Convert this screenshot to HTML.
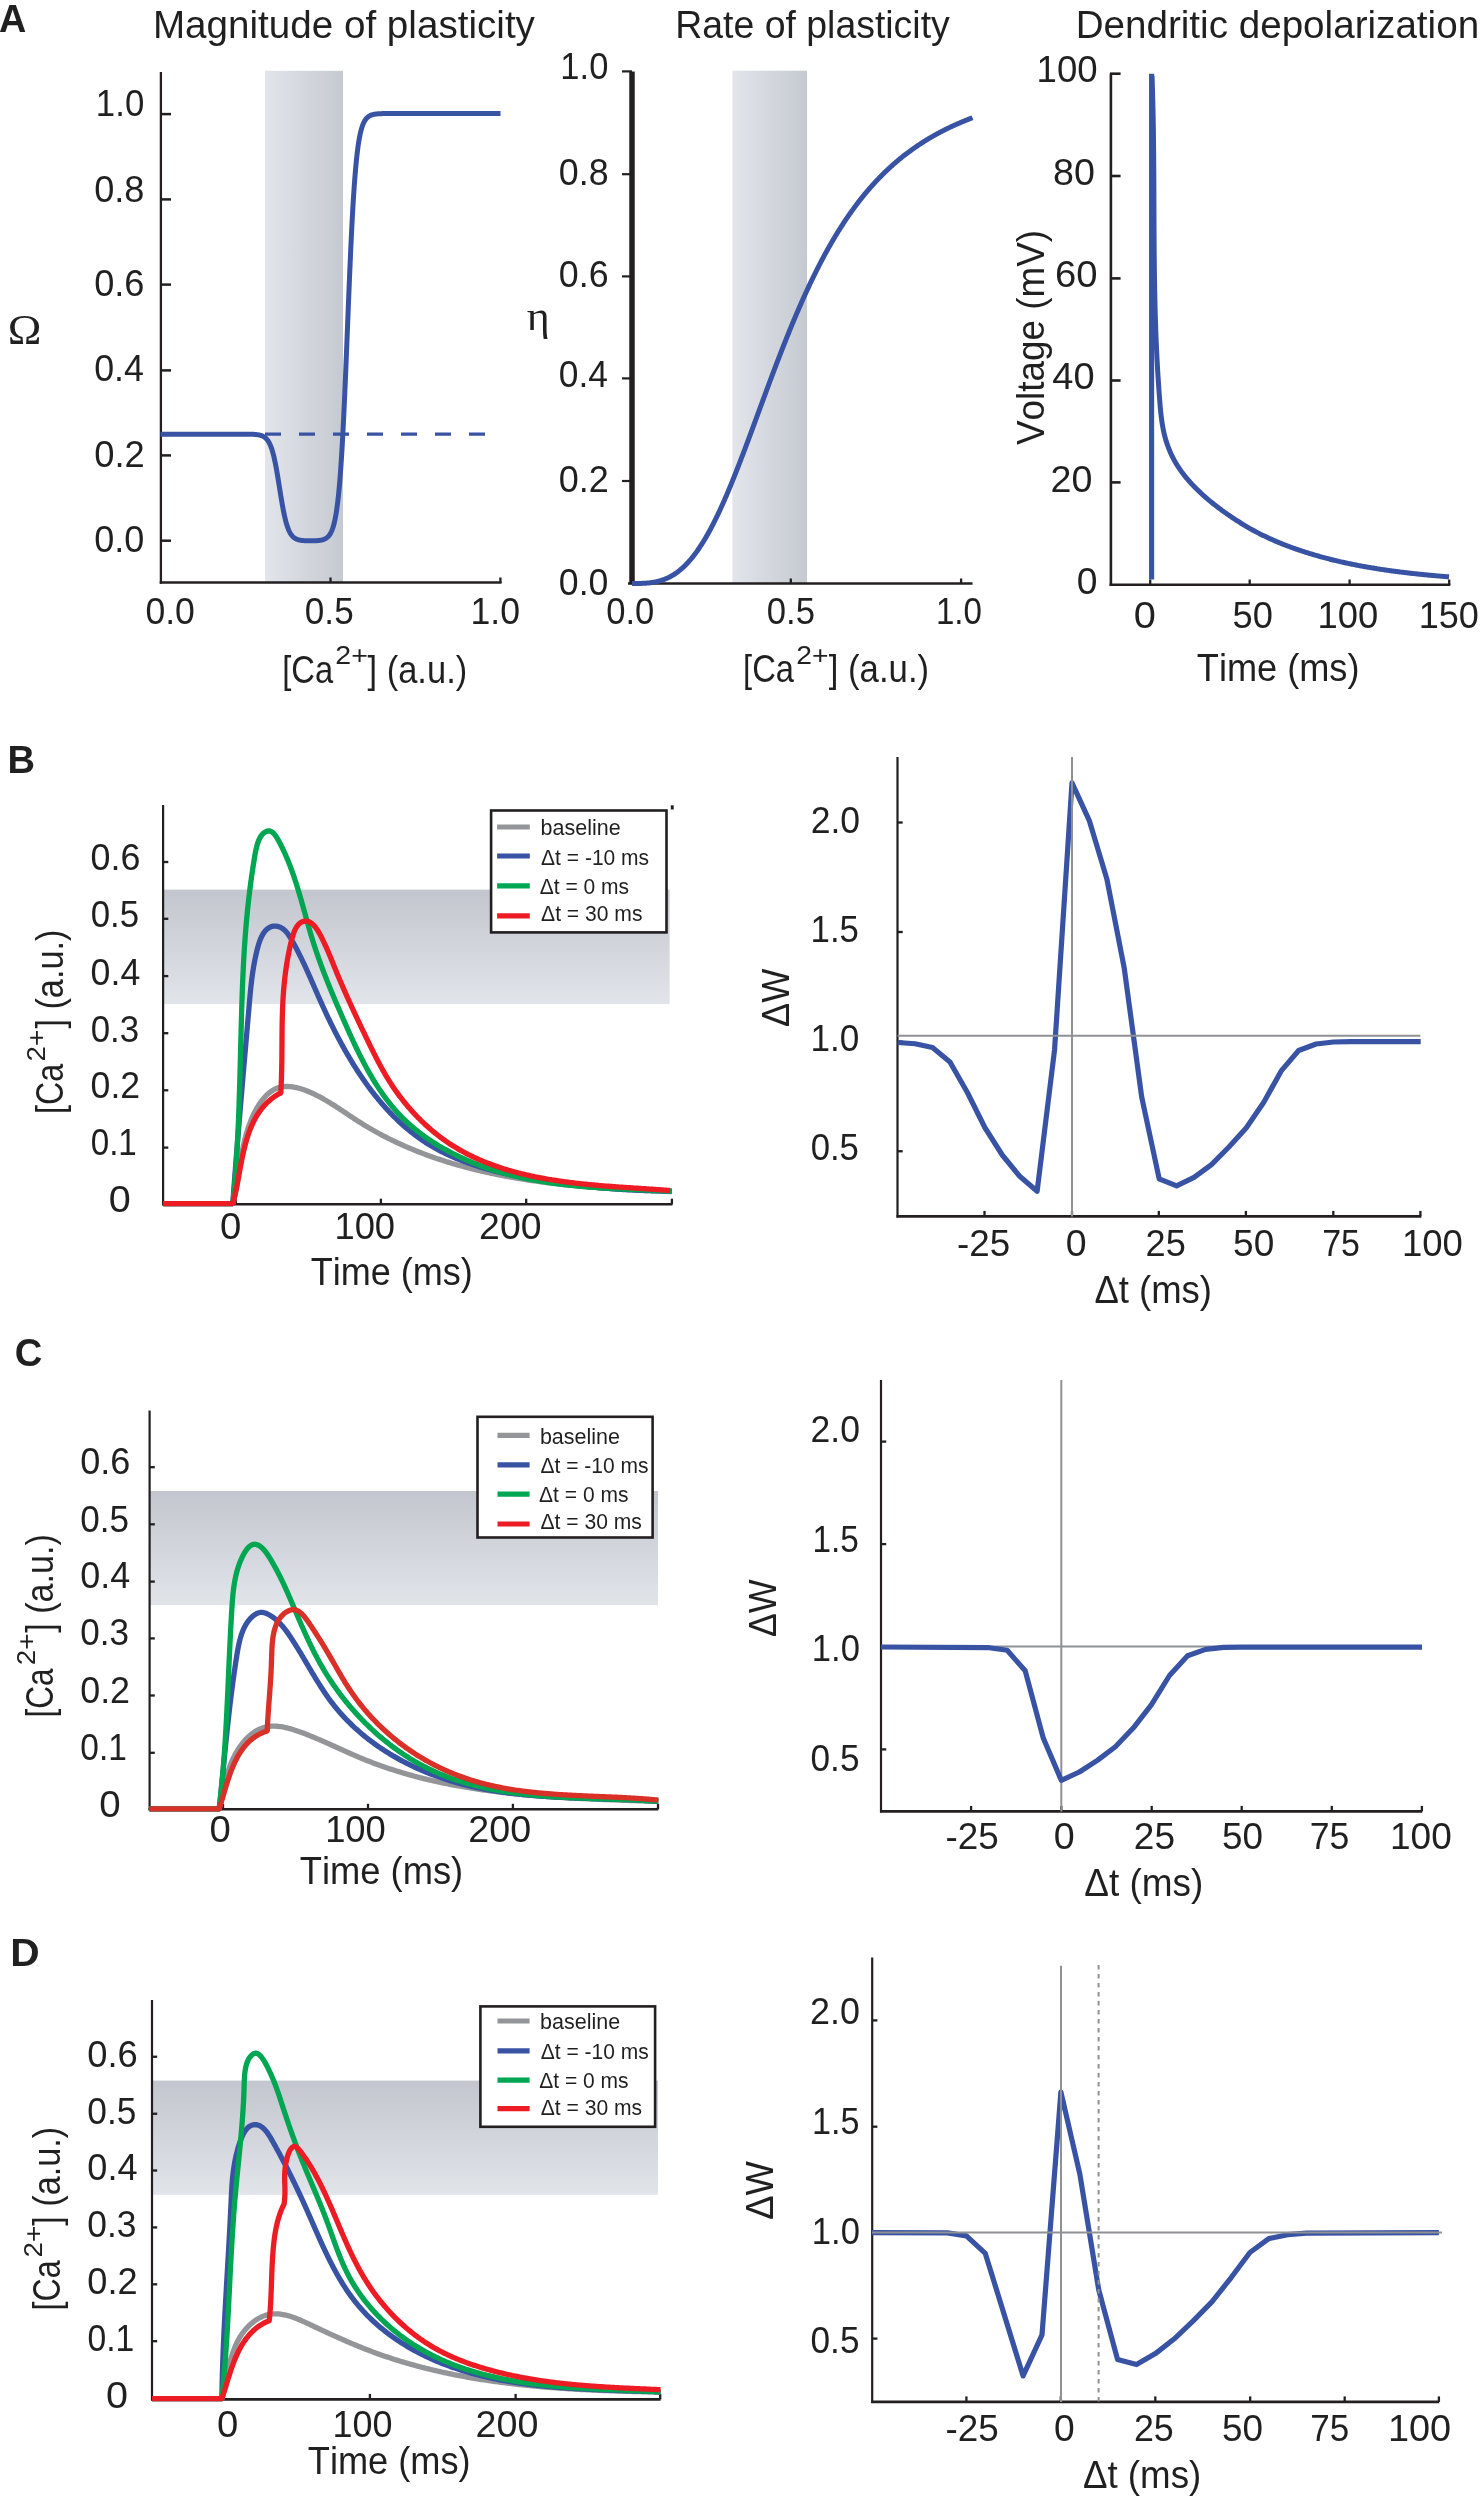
<!DOCTYPE html>
<html><head><meta charset="utf-8"><style>
html,body{margin:0;padding:0;background:#fff;}
svg{display:block;font-kerning:none;}
text{filter:grayscale(1);}
</style></head><body>
<svg xmlns="http://www.w3.org/2000/svg" width="1480" height="2500" viewBox="0 0 1480 2500">
<rect width="1480" height="2500" fill="#fff"/>
<defs><linearGradient id="gh" x1="0" y1="0" x2="1" y2="0"><stop offset="0" stop-color="#e2e5ea"/><stop offset="1" stop-color="#c5c9d1"/></linearGradient><linearGradient id="gv" x1="0" y1="0" x2="0" y2="1"><stop offset="0" stop-color="#c3c6ce"/><stop offset="1" stop-color="#e1e4e9"/></linearGradient></defs>
<text transform="translate(-0.94,31.6) scale(0.9963,1)" font-family='"Liberation Sans", sans-serif' font-size="38" font-weight="bold" fill="#231f20">A</text>
<text transform="translate(152.93,38.1) scale(1.0164,1)" font-family='"Liberation Sans", sans-serif' font-size="38" font-weight="normal" fill="#231f20">Magnitude of plasticity</text>
<text transform="translate(675.23,38.3) scale(0.9851,1)" font-family='"Liberation Sans", sans-serif' font-size="38" font-weight="normal" fill="#231f20">Rate of plasticity</text>
<text transform="translate(1075.63,38.3) scale(1.0165,1)" font-family='"Liberation Sans", sans-serif' font-size="38" font-weight="normal" fill="#231f20">Dendritic depolarization</text>
<rect x="265" y="70.8" width="78" height="511.2" fill="url(#gh)"/>
<line x1="160.9" y1="72" x2="160.9" y2="583.7" stroke="#231f20" stroke-width="2.3" stroke-linecap="butt"/>
<line x1="159.75" y1="582.5" x2="501.5" y2="582.5" stroke="#231f20" stroke-width="2.3" stroke-linecap="butt"/>
<line x1="160" y1="114.1" x2="171" y2="114.1" stroke="#231f20" stroke-width="2.5" stroke-linecap="butt"/>
<line x1="160" y1="199.4" x2="171" y2="199.4" stroke="#231f20" stroke-width="2.5" stroke-linecap="butt"/>
<line x1="160" y1="284.6" x2="171" y2="284.6" stroke="#231f20" stroke-width="2.5" stroke-linecap="butt"/>
<line x1="160" y1="370.4" x2="171" y2="370.4" stroke="#231f20" stroke-width="2.5" stroke-linecap="butt"/>
<line x1="160" y1="455.4" x2="171" y2="455.4" stroke="#231f20" stroke-width="2.5" stroke-linecap="butt"/>
<line x1="160" y1="540.7" x2="171" y2="540.7" stroke="#231f20" stroke-width="2.5" stroke-linecap="butt"/>
<line x1="330.5" y1="583" x2="330.5" y2="577.5" stroke="#231f20" stroke-width="2.3" stroke-linecap="butt"/>
<line x1="500.4" y1="583" x2="500.4" y2="577.5" stroke="#231f20" stroke-width="2.3" stroke-linecap="butt"/>
<text transform="translate(95.85,116.3) scale(0.9287,1)" font-family='"Liberation Sans", sans-serif' font-size="37.5" font-weight="normal" fill="#231f20">1.0</text>
<text transform="translate(94.19,201.6) scale(0.9646,1)" font-family='"Liberation Sans", sans-serif' font-size="37.5" font-weight="normal" fill="#231f20">0.8</text>
<text transform="translate(94.19,295.7) scale(0.9650,1)" font-family='"Liberation Sans", sans-serif' font-size="37.5" font-weight="normal" fill="#231f20">0.6</text>
<text transform="translate(94.2,381) scale(0.9543,1)" font-family='"Liberation Sans", sans-serif' font-size="37.5" font-weight="normal" fill="#231f20">0.4</text>
<text transform="translate(94.18,466.5) scale(0.9697,1)" font-family='"Liberation Sans", sans-serif' font-size="37.5" font-weight="normal" fill="#231f20">0.2</text>
<text transform="translate(94.19,551.7) scale(0.9614,1)" font-family='"Liberation Sans", sans-serif' font-size="37.5" font-weight="normal" fill="#231f20">0.0</text>
<text transform="translate(145.41,623.8) scale(0.9492,1)" font-family='"Liberation Sans", sans-serif' font-size="37.5" font-weight="normal" fill="#231f20">0.0</text>
<text transform="translate(304.83,623.8) scale(0.9370,1)" font-family='"Liberation Sans", sans-serif' font-size="37.5" font-weight="normal" fill="#231f20">0.5</text>
<text transform="translate(470.49,623.8) scale(0.9496,1)" font-family='"Liberation Sans", sans-serif' font-size="37.5" font-weight="normal" fill="#231f20">1.0</text>
<text transform="translate(282.27,682.5) scale(0.8613,1)" font-family='"Liberation Sans", sans-serif' font-size="38" font-weight="normal" fill="#231f20">[Ca</text>
<text transform="translate(335.36,664) scale(1.1417,1)" font-family='"Liberation Sans", sans-serif' font-size="25" font-weight="normal" fill="#231f20">2+</text>
<text transform="translate(367.53,682.5) scale(0.9080,1)" font-family='"Liberation Sans", sans-serif' font-size="38" font-weight="normal" fill="#231f20">] (a.u.)</text>
<text transform="translate(7.65,344) scale(1.0795,1)" font-family='"Liberation Serif", serif' font-size="42" font-weight="normal" fill="#231f20">Ω</text>
<polyline points="265,434.2 487,434.2" fill="none" stroke="#3953a4" stroke-width="3.2" stroke-linejoin="round" stroke-linecap="butt" stroke-dasharray="16,18"/>
<polyline points="160.5,434.13 160.84,434.13 161.18,434.13 161.52,434.13 161.86,434.13 162.2,434.13 162.54,434.13 162.88,434.13 163.22,434.13 163.56,434.13 163.9,434.13 164.24,434.13 164.58,434.13 164.92,434.13 165.26,434.13 165.6,434.13 165.94,434.13 166.28,434.13 166.62,434.13 166.96,434.13 167.3,434.13 167.64,434.13 167.98,434.13 168.32,434.13 168.66,434.13 169,434.13 169.34,434.13 169.68,434.13 170.02,434.13 170.36,434.13 170.7,434.13 171.04,434.13 171.38,434.13 171.72,434.13 172.06,434.13 172.4,434.13 172.74,434.13 173.08,434.13 173.42,434.13 173.76,434.13 174.1,434.13 174.44,434.13 174.78,434.13 175.12,434.13 175.46,434.13 175.8,434.13 176.14,434.13 176.48,434.13 176.82,434.13 177.16,434.13 177.5,434.13 177.84,434.13 178.18,434.13 178.52,434.13 178.86,434.13 179.2,434.13 179.54,434.13 179.88,434.13 180.22,434.13 180.56,434.13 180.9,434.13 181.24,434.13 181.58,434.13 181.92,434.13 182.26,434.13 182.6,434.13 182.94,434.13 183.28,434.13 183.62,434.13 183.96,434.13 184.3,434.13 184.64,434.13 184.98,434.13 185.32,434.13 185.66,434.13 186,434.13 186.34,434.13 186.68,434.13 187.02,434.13 187.36,434.13 187.7,434.13 188.04,434.13 188.38,434.13 188.72,434.13 189.06,434.13 189.4,434.13 189.74,434.13 190.08,434.13 190.42,434.13 190.76,434.13 191.1,434.13 191.44,434.13 191.78,434.13 192.12,434.13 192.46,434.13 192.8,434.13 193.14,434.13 193.48,434.13 193.82,434.13 194.16,434.13 194.5,434.13 194.84,434.13 195.18,434.13 195.52,434.13 195.86,434.13 196.2,434.13 196.54,434.13 196.88,434.13 197.22,434.13 197.56,434.13 197.9,434.13 198.24,434.13 198.58,434.13 198.92,434.13 199.26,434.13 199.6,434.13 199.94,434.13 200.28,434.13 200.62,434.13 200.96,434.13 201.3,434.13 201.64,434.13 201.98,434.13 202.32,434.13 202.66,434.13 203,434.13 203.34,434.13 203.68,434.13 204.02,434.13 204.36,434.13 204.7,434.13 205.04,434.13 205.38,434.13 205.72,434.13 206.06,434.13 206.4,434.13 206.74,434.13 207.08,434.13 207.42,434.13 207.76,434.13 208.1,434.13 208.44,434.13 208.78,434.13 209.12,434.13 209.46,434.13 209.8,434.13 210.14,434.13 210.48,434.13 210.82,434.13 211.16,434.13 211.5,434.13 211.84,434.13 212.18,434.13 212.52,434.13 212.86,434.13 213.2,434.13 213.54,434.13 213.88,434.13 214.22,434.13 214.56,434.13 214.9,434.13 215.24,434.13 215.58,434.13 215.92,434.13 216.26,434.13 216.6,434.13 216.94,434.13 217.28,434.13 217.62,434.13 217.96,434.13 218.3,434.13 218.64,434.13 218.98,434.13 219.32,434.13 219.66,434.13 220,434.13 220.34,434.13 220.68,434.13 221.02,434.13 221.36,434.13 221.7,434.13 222.04,434.13 222.38,434.13 222.72,434.13 223.06,434.13 223.4,434.13 223.74,434.13 224.08,434.13 224.42,434.13 224.76,434.13 225.1,434.13 225.44,434.13 225.78,434.13 226.12,434.13 226.46,434.13 226.8,434.13 227.14,434.13 227.48,434.13 227.82,434.13 228.16,434.13 228.5,434.13 228.84,434.13 229.18,434.13 229.52,434.13 229.86,434.13 230.2,434.13 230.54,434.13 230.88,434.13 231.22,434.13 231.56,434.13 231.9,434.13 232.24,434.13 232.58,434.13 232.92,434.13 233.26,434.13 233.6,434.13 233.94,434.13 234.28,434.13 234.62,434.13 234.96,434.13 235.3,434.13 235.64,434.13 235.98,434.13 236.32,434.13 236.66,434.13 237,434.13 237.34,434.13 237.68,434.13 238.02,434.13 238.36,434.13 238.7,434.13 239.04,434.13 239.38,434.13 239.72,434.13 240.06,434.13 240.4,434.14 240.74,434.14 241.08,434.14 241.42,434.14 241.76,434.14 242.1,434.14 242.44,434.14 242.78,434.14 243.12,434.15 243.46,434.15 243.8,434.15 244.14,434.15 244.48,434.15 244.82,434.16 245.16,434.16 245.5,434.16 245.84,434.16 246.18,434.17 246.52,434.17 246.86,434.17 247.2,434.18 247.54,434.18 247.88,434.19 248.22,434.19 248.56,434.2 248.9,434.2 249.24,434.21 249.58,434.22 249.92,434.23 250.26,434.23 250.6,434.24 250.94,434.25 251.28,434.26 251.62,434.28 251.96,434.29 252.3,434.3 252.64,434.32 252.98,434.33 253.32,434.35 253.66,434.37 254,434.39 254.34,434.41 254.68,434.43 255.02,434.46 255.36,434.49 255.7,434.52 256.04,434.55 256.38,434.59 256.72,434.63 257.06,434.67 257.4,434.71 257.74,434.76 258.08,434.81 258.42,434.87 258.76,434.93 259.1,435 259.44,435.07 259.78,435.15 260.12,435.23 260.46,435.32 260.8,435.42 261.14,435.53 261.48,435.64 261.82,435.77 262.16,435.9 262.5,436.05 262.84,436.2 263.18,436.37 263.52,436.56 263.86,436.75 264.2,436.97 264.54,437.2 264.88,437.45 265.22,437.71 265.56,438 265.9,438.31 266.24,438.64 266.58,439 266.92,439.39 267.26,439.81 267.6,440.25 267.94,440.73 268.28,441.24 268.62,441.79 268.96,442.38 269.3,443.01 269.64,443.69 269.98,444.41 270.32,445.18 270.66,445.99 271,446.86 271.34,447.79 271.68,448.77 272.02,449.81 272.36,450.91 272.7,452.08 273.04,453.3 273.38,454.6 273.72,455.95 274.06,457.38 274.4,458.86 274.74,460.42 275.08,462.04 275.42,463.72 275.76,465.46 276.1,467.26 276.44,469.12 276.78,471.02 277.12,472.98 277.46,474.98 277.8,477.02 278.14,479.08 278.48,481.18 278.82,483.3 279.16,485.43 279.5,487.56 279.84,489.7 280.18,491.83 280.52,493.94 280.86,496.04 281.2,498.11 281.54,500.15 281.88,502.15 282.22,504.1 282.56,506.01 282.9,507.87 283.24,509.67 283.58,511.41 283.92,513.09 284.26,514.71 284.6,516.26 284.94,517.75 285.28,519.17 285.62,520.53 285.96,521.82 286.3,523.05 286.64,524.21 286.98,525.31 287.32,526.35 287.66,527.33 288,528.26 288.34,529.13 288.68,529.95 289.02,530.72 289.36,531.44 289.7,532.11 290.04,532.74 290.38,533.33 290.72,533.88 291.06,534.39 291.4,534.87 291.74,535.32 292.08,535.73 292.42,536.12 292.76,536.48 293.1,536.81 293.44,537.12 293.78,537.41 294.12,537.68 294.46,537.93 294.8,538.16 295.14,538.37 295.48,538.57 295.82,538.75 296.16,538.92 296.5,539.08 296.84,539.22 297.18,539.35 297.52,539.48 297.86,539.59 298.2,539.7 298.54,539.8 298.88,539.89 299.22,539.97 299.56,540.05 299.9,540.12 300.24,540.19 300.58,540.25 300.92,540.31 301.26,540.36 301.6,540.4 301.94,540.45 302.28,540.49 302.62,540.53 302.96,540.56 303.3,540.59 303.64,540.62 303.98,540.65 304.32,540.67 304.66,540.7 305,540.72 305.34,540.73 305.68,540.75 306.02,540.77 306.36,540.78 306.7,540.79 307.04,540.8 307.38,540.81 307.72,540.82 308.06,540.83 308.4,540.84 308.74,540.84 309.08,540.85 309.42,540.85 309.76,540.85 310.1,540.86 310.44,540.86 310.78,540.86 311.12,540.86 311.46,540.85 311.8,540.85 312.14,540.85 312.48,540.84 312.82,540.84 313.16,540.83 313.5,540.82 313.84,540.81 314.18,540.8 314.52,540.79 314.86,540.78 315.2,540.76 315.54,540.75 315.88,540.73 316.22,540.71 316.56,540.69 316.9,540.66 317.24,540.64 317.58,540.61 317.92,540.58 318.26,540.55 318.6,540.51 318.94,540.47 319.28,540.43 319.62,540.39 319.96,540.34 320.3,540.28 320.64,540.23 320.98,540.16 321.32,540.09 321.66,540.02 322,539.94 322.34,539.85 322.68,539.76 323.02,539.65 323.36,539.54 323.7,539.42 324.04,539.29 324.38,539.15 324.72,539 325.06,538.83 325.4,538.65 325.74,538.46 326.08,538.25 326.42,538.02 326.76,537.78 327.1,537.51 327.44,537.22 327.78,536.91 328.12,536.57 328.46,536.21 328.8,535.81 329.14,535.39 329.48,534.93 329.82,534.43 330.16,533.89 330.5,533.31 330.84,532.68 331.18,532 331.52,531.27 331.86,530.48 332.2,529.63 332.54,528.71 332.88,527.72 333.22,526.65 333.56,525.5 333.9,524.26 334.24,522.92 334.58,521.48 334.92,519.94 335.26,518.28 335.6,516.49 335.94,514.58 336.28,512.52 336.62,510.32 336.96,507.97 337.3,505.44 337.64,502.75 337.98,499.87 338.32,496.8 338.66,493.52 339,490.04 339.34,486.34 339.68,482.41 340.02,478.25 340.36,473.84 340.7,469.19 341.04,464.28 341.38,459.11 341.72,453.69 342.06,448 342.4,442.04 342.74,435.83 343.08,429.36 343.42,422.63 343.76,415.67 344.1,408.46 344.44,401.04 344.78,393.41 345.12,385.58 345.46,377.59 345.8,369.44 346.14,361.16 346.48,352.78 346.82,344.31 347.16,335.8 347.5,327.25 347.84,318.7 348.18,310.19 348.52,301.72 348.86,293.34 349.2,285.06 349.54,276.91 349.88,268.92 350.22,261.09 350.56,253.46 350.9,246.04 351.24,238.83 351.58,231.87 351.92,225.14 352.26,218.67 352.6,212.46 352.94,206.5 353.28,200.81 353.62,195.39 353.96,190.22 354.3,185.31 354.64,180.66 354.98,176.25 355.32,172.09 355.66,168.16 356,164.46 356.34,160.98 356.68,157.7 357.02,154.63 357.36,151.75 357.7,149.06 358.04,146.53 358.38,144.18 358.72,141.97 359.06,139.92 359.4,138.01 359.74,136.22 360.08,134.56 360.42,133.02 360.76,131.58 361.1,130.24 361.44,129 361.78,127.85 362.12,126.78 362.46,125.79 362.8,124.87 363.14,124.02 363.48,123.23 363.82,122.5 364.16,121.82 364.5,121.19 364.84,120.61 365.18,120.07 365.52,119.57 365.86,119.11 366.2,118.68 366.54,118.29 366.88,117.93 367.22,117.59 367.56,117.28 367.9,116.99 368.24,116.72 368.58,116.48 368.92,116.25 369.26,116.04 369.6,115.85 369.94,115.67 370.28,115.5 370.62,115.35 370.96,115.21 371.3,115.08 371.64,114.95 371.98,114.84 372.32,114.74 372.66,114.64 373,114.56 373.34,114.48 373.68,114.4 374.02,114.33 374.36,114.27 374.7,114.21 375.04,114.15 375.38,114.1 375.72,114.06 376.06,114.02 376.4,113.98 376.74,113.94 377.08,113.91 377.42,113.87 377.76,113.85 378.1,113.82 378.44,113.79 378.78,113.77 379.12,113.75 379.46,113.73 379.8,113.71 380.14,113.7 380.48,113.68 380.82,113.67 381.16,113.66 381.5,113.64 381.84,113.63 382.18,113.62 382.52,113.61 382.86,113.6 383.2,113.6 383.54,113.59 383.88,113.58 384.22,113.58 384.56,113.57 384.9,113.56 385.24,113.56 385.58,113.55 385.92,113.55 386.26,113.55 386.6,113.54 386.94,113.54 387.28,113.54 387.62,113.53 387.96,113.53 388.3,113.53 388.64,113.53 388.98,113.52 389.32,113.52 389.66,113.52 390,113.52 390.34,113.52 390.68,113.52 391.02,113.52 391.36,113.51 391.7,113.51 392.04,113.51 392.38,113.51 392.72,113.51 393.06,113.51 393.4,113.51 393.74,113.51 394.08,113.51 394.42,113.51 394.76,113.51 395.1,113.51 395.44,113.51 395.78,113.5 396.12,113.5 396.46,113.5 396.8,113.5 397.14,113.5 397.48,113.5 397.82,113.5 398.16,113.5 398.5,113.5 398.84,113.5 399.18,113.5 399.52,113.5 399.86,113.5 400.2,113.5 400.54,113.5 400.88,113.5 401.22,113.5 401.56,113.5 401.9,113.5 402.24,113.5 402.58,113.5 402.92,113.5 403.26,113.5 403.6,113.5 403.94,113.5 404.28,113.5 404.62,113.5 404.96,113.5 405.3,113.5 405.64,113.5 405.98,113.5 406.32,113.5 406.66,113.5 407,113.5 407.34,113.5 407.68,113.5 408.02,113.5 408.36,113.5 408.7,113.5 409.04,113.5 409.38,113.5 409.72,113.5 410.06,113.5 410.4,113.5 410.74,113.5 411.08,113.5 411.42,113.5 411.76,113.5 412.1,113.5 412.44,113.5 412.78,113.5 413.12,113.5 413.46,113.5 413.8,113.5 414.14,113.5 414.48,113.5 414.82,113.5 415.16,113.5 415.5,113.5 415.84,113.5 416.18,113.5 416.52,113.5 416.86,113.5 417.2,113.5 417.54,113.5 417.88,113.5 418.22,113.5 418.56,113.5 418.9,113.5 419.24,113.5 419.58,113.5 419.92,113.5 420.26,113.5 420.6,113.5 420.94,113.5 421.28,113.5 421.62,113.5 421.96,113.5 422.3,113.5 422.64,113.5 422.98,113.5 423.32,113.5 423.66,113.5 424,113.5 424.34,113.5 424.68,113.5 425.02,113.5 425.36,113.5 425.7,113.5 426.04,113.5 426.38,113.5 426.72,113.5 427.06,113.5 427.4,113.5 427.74,113.5 428.08,113.5 428.42,113.5 428.76,113.5 429.1,113.5 429.44,113.5 429.78,113.5 430.12,113.5 430.46,113.5 430.8,113.5 431.14,113.5 431.48,113.5 431.82,113.5 432.16,113.5 432.5,113.5 432.84,113.5 433.18,113.5 433.52,113.5 433.86,113.5 434.2,113.5 434.54,113.5 434.88,113.5 435.22,113.5 435.56,113.5 435.9,113.5 436.24,113.5 436.58,113.5 436.92,113.5 437.26,113.5 437.6,113.5 437.94,113.5 438.28,113.5 438.62,113.5 438.96,113.5 439.3,113.5 439.64,113.5 439.98,113.5 440.32,113.5 440.66,113.5 441,113.5 441.34,113.5 441.68,113.5 442.02,113.5 442.36,113.5 442.7,113.5 443.04,113.5 443.38,113.5 443.72,113.5 444.06,113.5 444.4,113.5 444.74,113.5 445.08,113.5 445.42,113.5 445.76,113.5 446.1,113.5 446.44,113.5 446.78,113.5 447.12,113.5 447.46,113.5 447.8,113.5 448.14,113.5 448.48,113.5 448.82,113.5 449.16,113.5 449.5,113.5 449.84,113.5 450.18,113.5 450.52,113.5 450.86,113.5 451.2,113.5 451.54,113.5 451.88,113.5 452.22,113.5 452.56,113.5 452.9,113.5 453.24,113.5 453.58,113.5 453.92,113.5 454.26,113.5 454.6,113.5 454.94,113.5 455.28,113.5 455.62,113.5 455.96,113.5 456.3,113.5 456.64,113.5 456.98,113.5 457.32,113.5 457.66,113.5 458,113.5 458.34,113.5 458.68,113.5 459.02,113.5 459.36,113.5 459.7,113.5 460.04,113.5 460.38,113.5 460.72,113.5 461.06,113.5 461.4,113.5 461.74,113.5 462.08,113.5 462.42,113.5 462.76,113.5 463.1,113.5 463.44,113.5 463.78,113.5 464.12,113.5 464.46,113.5 464.8,113.5 465.14,113.5 465.48,113.5 465.82,113.5 466.16,113.5 466.5,113.5 466.84,113.5 467.18,113.5 467.52,113.5 467.86,113.5 468.2,113.5 468.54,113.5 468.88,113.5 469.22,113.5 469.56,113.5 469.9,113.5 470.24,113.5 470.58,113.5 470.92,113.5 471.26,113.5 471.6,113.5 471.94,113.5 472.28,113.5 472.62,113.5 472.96,113.5 473.3,113.5 473.64,113.5 473.98,113.5 474.32,113.5 474.66,113.5 475,113.5 475.34,113.5 475.68,113.5 476.02,113.5 476.36,113.5 476.7,113.5 477.04,113.5 477.38,113.5 477.72,113.5 478.06,113.5 478.4,113.5 478.74,113.5 479.08,113.5 479.42,113.5 479.76,113.5 480.1,113.5 480.44,113.5 480.78,113.5 481.12,113.5 481.46,113.5 481.8,113.5 482.14,113.5 482.48,113.5 482.82,113.5 483.16,113.5 483.5,113.5 483.84,113.5 484.18,113.5 484.52,113.5 484.86,113.5 485.2,113.5 485.54,113.5 485.88,113.5 486.22,113.5 486.56,113.5 486.9,113.5 487.24,113.5 487.58,113.5 487.92,113.5 488.26,113.5 488.6,113.5 488.94,113.5 489.28,113.5 489.62,113.5 489.96,113.5 490.3,113.5 490.64,113.5 490.98,113.5 491.32,113.5 491.66,113.5 492,113.5 492.34,113.5 492.68,113.5 493.02,113.5 493.36,113.5 493.7,113.5 494.04,113.5 494.38,113.5 494.72,113.5 495.06,113.5 495.4,113.5 495.74,113.5 496.08,113.5 496.42,113.5 496.76,113.5 497.1,113.5 497.44,113.5 497.78,113.5 498.12,113.5 498.46,113.5 498.8,113.5 499.14,113.5 499.48,113.5 499.82,113.5 500.16,113.5 500.5,113.5" fill="none" stroke="#3953a4" stroke-width="5" stroke-linejoin="round" stroke-linecap="butt"/>
<rect x="732.4" y="70.7" width="74.6" height="512.3" fill="url(#gh)"/>
<line x1="632" y1="71.4" x2="632" y2="584.2" stroke="#231f20" stroke-width="5.5" stroke-linecap="butt"/>
<line x1="628" y1="583.6" x2="972.5" y2="583.6" stroke="#231f20" stroke-width="2.5" stroke-linecap="butt"/>
<line x1="622" y1="71.4" x2="632" y2="71.4" stroke="#231f20" stroke-width="2.2" stroke-linecap="butt"/>
<line x1="622" y1="174.2" x2="632" y2="174.2" stroke="#231f20" stroke-width="2.2" stroke-linecap="butt"/>
<line x1="622" y1="276.4" x2="632" y2="276.4" stroke="#231f20" stroke-width="2.2" stroke-linecap="butt"/>
<line x1="622" y1="378.4" x2="632" y2="378.4" stroke="#231f20" stroke-width="2.2" stroke-linecap="butt"/>
<line x1="622" y1="481" x2="632" y2="481" stroke="#231f20" stroke-width="2.2" stroke-linecap="butt"/>
<line x1="790.8" y1="584" x2="790.8" y2="578.5" stroke="#231f20" stroke-width="2.3" stroke-linecap="butt"/>
<line x1="961.1" y1="584" x2="961.1" y2="578.5" stroke="#231f20" stroke-width="2.3" stroke-linecap="butt"/>
<text transform="translate(560.37,79.2) scale(0.9203,1)" font-family='"Liberation Sans", sans-serif' font-size="37.5" font-weight="normal" fill="#231f20">1.0</text>
<text transform="translate(558.8,184.8) scale(0.9544,1)" font-family='"Liberation Sans", sans-serif' font-size="37.5" font-weight="normal" fill="#231f20">0.8</text>
<text transform="translate(558.8,287) scale(0.9548,1)" font-family='"Liberation Sans", sans-serif' font-size="37.5" font-weight="normal" fill="#231f20">0.6</text>
<text transform="translate(558.82,386.6) scale(0.9442,1)" font-family='"Liberation Sans", sans-serif' font-size="37.5" font-weight="normal" fill="#231f20">0.4</text>
<text transform="translate(558.79,492) scale(0.9594,1)" font-family='"Liberation Sans", sans-serif' font-size="37.5" font-weight="normal" fill="#231f20">0.2</text>
<text transform="translate(558.81,594.6) scale(0.9512,1)" font-family='"Liberation Sans", sans-serif' font-size="37.5" font-weight="normal" fill="#231f20">0.0</text>
<text transform="translate(606.25,623.8) scale(0.9228,1)" font-family='"Liberation Sans", sans-serif' font-size="37.5" font-weight="normal" fill="#231f20">0.0</text>
<text transform="translate(766.75,623.8) scale(0.9248,1)" font-family='"Liberation Sans", sans-serif' font-size="37.5" font-weight="normal" fill="#231f20">0.5</text>
<text transform="translate(935.88,623.8) scale(0.8827,1)" font-family='"Liberation Sans", sans-serif' font-size="37.5" font-weight="normal" fill="#231f20">1.0</text>
<text transform="translate(743.07,682) scale(0.8613,1)" font-family='"Liberation Sans", sans-serif' font-size="38" font-weight="normal" fill="#231f20">[Ca</text>
<text transform="translate(796.18,663.6) scale(1.1302,1)" font-family='"Liberation Sans", sans-serif' font-size="25" font-weight="normal" fill="#231f20">2+</text>
<text transform="translate(828.73,682) scale(0.9146,1)" font-family='"Liberation Sans", sans-serif' font-size="38" font-weight="normal" fill="#231f20">] (a.u.)</text>
<text transform="translate(526.81,330) scale(1.0464,1)" font-family='"Liberation Serif", serif' font-size="42" font-weight="normal" fill="#231f20">η</text>
<polyline points="632,583.5 632.34,583.5 632.68,583.5 633.02,583.5 633.36,583.5 633.7,583.5 634.04,583.5 634.38,583.5 634.72,583.5 635.06,583.5 635.4,583.5 635.75,583.49 636.09,583.49 636.43,583.49 636.77,583.49 637.11,583.48 637.45,583.48 637.79,583.48 638.13,583.47 638.47,583.47 638.81,583.46 639.15,583.46 639.49,583.45 639.83,583.44 640.17,583.43 640.51,583.43 640.85,583.42 641.19,583.41 641.53,583.4 641.87,583.38 642.22,583.37 642.56,583.36 642.9,583.34 643.24,583.33 643.58,583.31 643.92,583.3 644.26,583.28 644.6,583.26 644.94,583.24 645.28,583.22 645.62,583.19 645.96,583.17 646.3,583.14 646.64,583.12 646.98,583.09 647.32,583.06 647.66,583.03 648,583 648.34,582.97 648.68,582.93 649.02,582.9 649.37,582.86 649.71,582.82 650.05,582.78 650.39,582.74 650.73,582.7 651.07,582.65 651.41,582.61 651.75,582.56 652.09,582.51 652.43,582.46 652.77,582.4 653.11,582.35 653.45,582.29 653.79,582.23 654.13,582.17 654.47,582.11 654.81,582.05 655.15,581.98 655.49,581.91 655.84,581.84 656.18,581.77 656.52,581.7 656.86,581.62 657.2,581.54 657.54,581.46 657.88,581.38 658.22,581.29 658.56,581.2 658.9,581.11 659.24,581.02 659.58,580.93 659.92,580.83 660.26,580.73 660.6,580.63 660.94,580.53 661.28,580.42 661.62,580.31 661.96,580.2 662.3,580.09 662.64,579.97 662.99,579.85 663.33,579.73 663.67,579.61 664.01,579.48 664.35,579.35 664.69,579.22 665.03,579.08 665.37,578.95 665.71,578.8 666.05,578.66 666.39,578.52 666.73,578.37 667.07,578.21 667.41,578.06 667.75,577.9 668.09,577.74 668.43,577.58 668.77,577.41 669.11,577.24 669.46,577.07 669.8,576.89 670.14,576.71 670.48,576.53 670.82,576.35 671.16,576.16 671.5,575.97 671.84,575.77 672.18,575.57 672.52,575.37 672.86,575.17 673.2,574.96 673.54,574.75 673.88,574.53 674.22,574.31 674.56,574.09 674.9,573.87 675.24,573.64 675.58,573.41 675.92,573.17 676.26,572.93 676.61,572.69 676.95,572.45 677.29,572.2 677.63,571.94 677.97,571.69 678.31,571.43 678.65,571.16 678.99,570.9 679.33,570.63 679.67,570.35 680.01,570.07 680.35,569.79 680.69,569.51 681.03,569.22 681.37,568.92 681.71,568.63 682.05,568.33 682.39,568.02 682.73,567.71 683.08,567.4 683.42,567.09 683.76,566.77 684.1,566.44 684.44,566.12 684.78,565.78 685.12,565.45 685.46,565.11 685.8,564.77 686.14,564.42 686.48,564.07 686.82,563.71 687.16,563.36 687.5,562.99 687.84,562.63 688.18,562.26 688.52,561.88 688.86,561.5 689.2,561.12 689.54,560.73 689.88,560.34 690.23,559.95 690.57,559.55 690.91,559.15 691.25,558.74 691.59,558.33 691.93,557.91 692.27,557.49 692.61,557.07 692.95,556.64 693.29,556.21 693.63,555.78 693.97,555.34 694.31,554.89 694.65,554.44 694.99,553.99 695.33,553.54 695.67,553.08 696.01,552.61 696.35,552.14 696.7,551.67 697.04,551.19 697.38,550.71 697.72,550.23 698.06,549.74 698.4,549.25 698.74,548.75 699.08,548.25 699.42,547.74 699.76,547.23 700.1,546.72 700.44,546.2 700.78,545.68 701.12,545.16 701.46,544.63 701.8,544.09 702.14,543.55 702.48,543.01 702.82,542.47 703.16,541.92 703.5,541.36 703.85,540.8 704.19,540.24 704.53,539.68 704.87,539.11 705.21,538.53 705.55,537.95 705.89,537.37 706.23,536.79 706.57,536.19 706.91,535.6 707.25,535 707.59,534.4 707.93,533.79 708.27,533.19 708.61,532.57 708.95,531.95 709.29,531.33 709.63,530.71 709.97,530.08 710.32,529.45 710.66,528.81 711,528.17 711.34,527.52 711.68,526.88 712.02,526.22 712.36,525.57 712.7,524.91 713.04,524.25 713.38,523.58 713.72,522.91 714.06,522.23 714.4,521.56 714.74,520.87 715.08,520.19 715.42,519.5 715.76,518.81 716.1,518.11 716.44,517.41 716.78,516.71 717.12,516.01 717.47,515.3 717.81,514.58 718.15,513.87 718.49,513.15 718.83,512.42 719.17,511.7 719.51,510.97 719.85,510.23 720.19,509.5 720.53,508.76 720.87,508.01 721.21,507.27 721.55,506.52 721.89,505.76 722.23,505.01 722.57,504.25 722.91,503.49 723.25,502.72 723.59,501.95 723.93,501.18 724.28,500.41 724.62,499.63 724.96,498.85 725.3,498.07 725.64,497.28 725.98,496.49 726.32,495.7 726.66,494.91 727,494.11 727.34,493.31 727.68,492.5 728.02,491.7 728.36,490.89 728.7,490.08 729.04,489.27 729.38,488.45 729.72,487.63 730.06,486.81 730.4,485.99 730.75,485.16 731.09,484.33 731.43,483.5 731.77,482.67 732.11,481.83 732.45,480.99 732.79,480.15 733.13,479.31 733.47,478.46 733.81,477.62 734.15,476.77 734.49,475.91 734.83,475.06 735.17,474.21 735.51,473.35 735.85,472.49 736.19,471.62 736.53,470.76 736.87,469.89 737.21,469.03 737.55,468.16 737.9,467.29 738.24,466.41 738.58,465.54 738.92,464.66 739.26,463.78 739.6,462.9 739.94,462.02 740.28,461.13 740.62,460.25 740.96,459.36 741.3,458.47 741.64,457.58 741.98,456.69 742.32,455.8 742.66,454.91 743,454.01 743.34,453.11 743.68,452.21 744.02,451.31 744.37,450.41 744.71,449.51 745.05,448.61 745.39,447.7 745.73,446.8 746.07,445.89 746.41,444.98 746.75,444.07 747.09,443.16 747.43,442.25 747.77,441.34 748.11,440.43 748.45,439.51 748.79,438.6 749.13,437.68 749.47,436.77 749.81,435.85 750.15,434.93 750.49,434.01 750.83,433.1 751.17,432.18 751.52,431.26 751.86,430.33 752.2,429.41 752.54,428.49 752.88,427.57 753.22,426.64 753.56,425.72 753.9,424.8 754.24,423.87 754.58,422.95 754.92,422.02 755.26,421.1 755.6,420.17 755.94,419.25 756.28,418.32 756.62,417.39 756.96,416.47 757.3,415.54 757.64,414.62 757.99,413.69 758.33,412.76 758.67,411.84 759.01,410.91 759.35,409.98 759.69,409.06 760.03,408.13 760.37,407.2 760.71,406.28 761.05,405.35 761.39,404.42 761.73,403.5 762.07,402.57 762.41,401.65 762.75,400.72 763.09,399.8 763.43,398.87 763.77,397.95 764.11,397.03 764.45,396.1 764.8,395.18 765.14,394.26 765.48,393.34 765.82,392.42 766.16,391.5 766.5,390.58 766.84,389.66 767.18,388.74 767.52,387.82 767.86,386.9 768.2,385.99 768.54,385.07 768.88,384.15 769.22,383.24 769.56,382.33 769.9,381.41 770.24,380.5 770.58,379.59 770.92,378.68 771.26,377.77 771.61,376.86 771.95,375.95 772.29,375.05 772.63,374.14 772.97,373.24 773.31,372.33 773.65,371.43 773.99,370.53 774.33,369.63 774.67,368.73 775.01,367.83 775.35,366.93 775.69,366.03 776.03,365.14 776.37,364.24 776.71,363.35 777.05,362.46 777.39,361.57 777.73,360.68 778.07,359.79 778.41,358.91 778.76,358.02 779.1,357.14 779.44,356.25 779.78,355.37 780.12,354.49 780.46,353.61 780.8,352.74 781.14,351.86 781.48,350.99 781.82,350.11 782.16,349.24 782.5,348.37 782.84,347.5 783.18,346.64 783.52,345.77 783.86,344.91 784.2,344.04 784.54,343.18 784.88,342.32 785.23,341.47 785.57,340.61 785.91,339.75 786.25,338.9 786.59,338.05 786.93,337.2 787.27,336.35 787.61,335.51 787.95,334.66 788.29,333.82 788.63,332.98 788.97,332.14 789.31,331.3 789.65,330.46 789.99,329.63 790.33,328.79 790.67,327.96 791.01,327.13 791.35,326.31 791.69,325.48 792.03,324.66 792.38,323.84 792.72,323.01 793.06,322.2 793.4,321.38 793.74,320.56 794.08,319.75 794.42,318.94 794.76,318.13 795.1,317.32 795.44,316.52 795.78,315.72 796.12,314.91 796.46,314.11 796.8,313.32 797.14,312.52 797.48,311.73 797.82,310.93 798.16,310.14 798.5,309.36 798.85,308.57 799.19,307.78 799.53,307 799.87,306.22 800.21,305.44 800.55,304.67 800.89,303.89 801.23,303.12 801.57,302.35 801.91,301.58 802.25,300.81 802.59,300.05 802.93,299.29 803.27,298.53 803.61,297.77 803.95,297.01 804.29,296.26 804.63,295.51 804.97,294.76 805.31,294.01 805.65,293.26 806,292.52 806.34,291.78 806.68,291.04 807.02,290.3 807.36,289.56 807.7,288.83 808.04,288.1 808.38,287.37 808.72,286.64 809.06,285.91 809.4,285.19 809.74,284.47 810.08,283.75 810.42,283.03 810.76,282.32 811.1,281.6 811.44,280.89 811.78,280.18 812.12,279.48 812.47,278.77 812.81,278.07 813.15,277.37 813.49,276.67 813.83,275.97 814.17,275.28 814.51,274.59 814.85,273.9 815.19,273.21 815.53,272.52 815.87,271.84 816.21,271.16 816.55,270.48 816.89,269.8 817.23,269.12 817.57,268.45 817.91,267.78 818.25,267.11 818.59,266.44 818.93,265.78 819.27,265.11 819.62,264.45 819.96,263.79 820.3,263.14 820.64,262.48 820.98,261.83 821.32,261.18 821.66,260.53 822,259.89 822.34,259.24 822.68,258.6 823.02,257.96 823.36,257.32 823.7,256.68 824.04,256.05 824.38,255.42 824.72,254.79 825.06,254.16 825.4,253.54 825.74,252.91 826.09,252.29 826.43,251.67 826.77,251.05 827.11,250.44 827.45,249.82 827.79,249.21 828.13,248.6 828.47,248 828.81,247.39 829.15,246.79 829.49,246.19 829.83,245.59 830.17,244.99 830.51,244.4 830.85,243.8 831.19,243.21 831.53,242.62 831.87,242.04 832.21,241.45 832.55,240.87 832.89,240.29 833.24,239.71 833.58,239.13 833.92,238.56 834.26,237.98 834.6,237.41 834.94,236.84 835.28,236.27 835.62,235.71 835.96,235.15 836.3,234.59 836.64,234.03 836.98,233.47 837.32,232.91 837.66,232.36 838,231.81 838.34,231.26 838.68,230.71 839.02,230.16 839.36,229.62 839.7,229.08 840.05,228.54 840.39,228 840.73,227.46 841.07,226.93 841.41,226.4 841.75,225.87 842.09,225.34 842.43,224.81 842.77,224.29 843.11,223.76 843.45,223.24 843.79,222.72 844.13,222.21 844.47,221.69 844.81,221.18 845.15,220.66 845.49,220.15 845.83,219.65 846.17,219.14 846.51,218.64 846.86,218.13 847.2,217.63 847.54,217.13 847.88,216.64 848.22,216.14 848.56,215.65 848.9,215.16 849.24,214.67 849.58,214.18 849.92,213.69 850.26,213.21 850.6,212.72 850.94,212.24 851.28,211.76 851.62,211.28 851.96,210.81 852.3,210.33 852.64,209.86 852.98,209.39 853.33,208.92 853.67,208.45 854.01,207.99 854.35,207.53 854.69,207.06 855.03,206.6 855.37,206.14 855.71,205.69 856.05,205.23 856.39,204.78 856.73,204.33 857.07,203.88 857.41,203.43 857.75,202.98 858.09,202.54 858.43,202.09 858.77,201.65 859.11,201.21 859.45,200.77 859.79,200.33 860.13,199.9 860.48,199.46 860.82,199.03 861.16,198.6 861.5,198.17 861.84,197.75 862.18,197.32 862.52,196.9 862.86,196.47 863.2,196.05 863.54,195.63 863.88,195.21 864.22,194.8 864.56,194.38 864.9,193.97 865.24,193.56 865.58,193.15 865.92,192.74 866.26,192.33 866.6,191.93 866.94,191.52 867.29,191.12 867.63,190.72 867.97,190.32 868.31,189.92 868.65,189.53 868.99,189.13 869.33,188.74 869.67,188.35 870.01,187.96 870.35,187.57 870.69,187.18 871.03,186.79 871.37,186.41 871.71,186.03 872.05,185.64 872.39,185.26 872.73,184.88 873.07,184.51 873.41,184.13 873.75,183.76 874.1,183.38 874.44,183.01 874.78,182.64 875.12,182.27 875.46,181.9 875.8,181.54 876.14,181.17 876.48,180.81 876.82,180.45 877.16,180.09 877.5,179.73 877.84,179.37 878.18,179.01 878.52,178.66 878.86,178.31 879.2,177.95 879.54,177.6 879.88,177.25 880.22,176.9 880.57,176.56 880.91,176.21 881.25,175.87 881.59,175.52 881.93,175.18 882.27,174.84 882.61,174.5 882.95,174.16 883.29,173.83 883.63,173.49 883.97,173.16 884.31,172.82 884.65,172.49 884.99,172.16 885.33,171.83 885.67,171.5 886.01,171.18 886.35,170.85 886.69,170.53 887.03,170.21 887.38,169.88 887.72,169.56 888.06,169.24 888.4,168.93 888.74,168.61 889.08,168.29 889.42,167.98 889.76,167.67 890.1,167.35 890.44,167.04 890.78,166.73 891.12,166.43 891.46,166.12 891.8,165.81 892.14,165.51 892.48,165.2 892.82,164.9 893.16,164.6 893.5,164.3 893.84,164 894.18,163.7 894.53,163.4 894.87,163.11 895.21,162.81 895.55,162.52 895.89,162.23 896.23,161.94 896.57,161.65 896.91,161.36 897.25,161.07 897.59,160.78 897.93,160.5 898.27,160.21 898.61,159.93 898.95,159.64 899.29,159.36 899.63,159.08 899.97,158.8 900.31,158.52 900.65,158.25 901,157.97 901.34,157.7 901.68,157.42 902.02,157.15 902.36,156.88 902.7,156.6 903.04,156.33 903.38,156.07 903.72,155.8 904.06,155.53 904.4,155.26 904.74,155 905.08,154.73 905.42,154.47 905.76,154.21 906.1,153.95 906.44,153.69 906.78,153.43 907.12,153.17 907.46,152.91 907.81,152.66 908.15,152.4 908.49,152.15 908.83,151.9 909.17,151.64 909.51,151.39 909.85,151.14 910.19,150.89 910.53,150.64 910.87,150.4 911.21,150.15 911.55,149.9 911.89,149.66 912.23,149.41 912.57,149.17 912.91,148.93 913.25,148.69 913.59,148.45 913.93,148.21 914.27,147.97 914.62,147.73 914.96,147.5 915.3,147.26 915.64,147.03 915.98,146.79 916.32,146.56 916.66,146.33 917,146.09 917.34,145.86 917.68,145.63 918.02,145.41 918.36,145.18 918.7,144.95 919.04,144.72 919.38,144.5 919.72,144.27 920.06,144.05 920.4,143.83 920.74,143.61 921.08,143.38 921.42,143.16 921.77,142.94 922.11,142.72 922.45,142.51 922.79,142.29 923.13,142.07 923.47,141.86 923.81,141.64 924.15,141.43 924.49,141.22 924.83,141 925.17,140.79 925.51,140.58 925.85,140.37 926.19,140.16 926.53,139.95 926.87,139.75 927.21,139.54 927.55,139.33 927.89,139.13 928.24,138.92 928.58,138.72 928.92,138.52 929.26,138.31 929.6,138.11 929.94,137.91 930.28,137.71 930.62,137.51 930.96,137.31 931.3,137.11 931.64,136.92 931.98,136.72 932.32,136.52 932.66,136.33 933,136.14 933.34,135.94 933.68,135.75 934.02,135.56 934.36,135.37 934.7,135.17 935.05,134.98 935.39,134.8 935.73,134.61 936.07,134.42 936.41,134.23 936.75,134.04 937.09,133.86 937.43,133.67 937.77,133.49 938.11,133.3 938.45,133.12 938.79,132.94 939.13,132.76 939.47,132.58 939.81,132.39 940.15,132.21 940.49,132.04 940.83,131.86 941.17,131.68 941.51,131.5 941.86,131.32 942.2,131.15 942.54,130.97 942.88,130.8 943.22,130.62 943.56,130.45 943.9,130.28 944.24,130.11 944.58,129.93 944.92,129.76 945.26,129.59 945.6,129.42 945.94,129.25 946.28,129.09 946.62,128.92 946.96,128.75 947.3,128.58 947.64,128.42 947.98,128.25 948.32,128.09 948.66,127.92 949.01,127.76 949.35,127.6 949.69,127.43 950.03,127.27 950.37,127.11 950.71,126.95 951.05,126.79 951.39,126.63 951.73,126.47 952.07,126.31 952.41,126.15 952.75,126 953.09,125.84 953.43,125.68 953.77,125.53 954.11,125.37 954.45,125.22 954.79,125.06 955.13,124.91 955.47,124.76 955.82,124.6 956.16,124.45 956.5,124.3 956.84,124.15 957.18,124 957.52,123.85 957.86,123.7 958.2,123.55 958.54,123.4 958.88,123.26 959.22,123.11 959.56,122.96 959.9,122.82 960.24,122.67 960.58,122.53 960.92,122.38 961.26,122.24 961.6,122.09 961.94,121.95 962.28,121.81 962.63,121.67 962.97,121.52 963.31,121.38 963.65,121.24 963.99,121.1 964.33,120.96 964.67,120.82 965.01,120.69 965.35,120.55 965.69,120.41 966.03,120.27 966.37,120.14 966.71,120 967.05,119.86 967.39,119.73 967.73,119.59 968.07,119.46 968.41,119.33 968.75,119.19 969.1,119.06 969.44,118.93 969.78,118.8 970.12,118.66 970.46,118.53 970.8,118.4 971.14,118.27 971.48,118.14 971.82,118.01 972.16,117.89 972.5,117.76" fill="none" stroke="#3953a4" stroke-width="5" stroke-linejoin="round" stroke-linecap="butt"/>
<line x1="1110.9" y1="73.5" x2="1110.9" y2="586" stroke="#231f20" stroke-width="2.6" stroke-linecap="butt"/>
<line x1="1109.6" y1="584.7" x2="1450.3" y2="584.7" stroke="#231f20" stroke-width="2.6" stroke-linecap="butt"/>
<line x1="1110" y1="73.7" x2="1120.6" y2="73.7" stroke="#231f20" stroke-width="2.6" stroke-linecap="butt"/>
<line x1="1110" y1="176" x2="1120.6" y2="176" stroke="#231f20" stroke-width="2.6" stroke-linecap="butt"/>
<line x1="1110" y1="278.4" x2="1120.6" y2="278.4" stroke="#231f20" stroke-width="2.6" stroke-linecap="butt"/>
<line x1="1110" y1="380.5" x2="1120.6" y2="380.5" stroke="#231f20" stroke-width="2.6" stroke-linecap="butt"/>
<line x1="1110" y1="482.4" x2="1120.6" y2="482.4" stroke="#231f20" stroke-width="2.6" stroke-linecap="butt"/>
<line x1="1150.2" y1="585" x2="1150.2" y2="579.5" stroke="#231f20" stroke-width="2.3" stroke-linecap="butt"/>
<line x1="1249.7" y1="585" x2="1249.7" y2="579.5" stroke="#231f20" stroke-width="2.3" stroke-linecap="butt"/>
<line x1="1349.6" y1="585" x2="1349.6" y2="579.5" stroke="#231f20" stroke-width="2.3" stroke-linecap="butt"/>
<line x1="1449.2" y1="585" x2="1449.2" y2="579.5" stroke="#231f20" stroke-width="2.3" stroke-linecap="butt"/>
<text transform="translate(1036.61,82.2) scale(0.9752,1)" font-family='"Liberation Sans", sans-serif' font-size="37.5" font-weight="normal" fill="#231f20">100</text>
<text transform="translate(1052.96,184.8) scale(1.0047,1)" font-family='"Liberation Sans", sans-serif' font-size="37.5" font-weight="normal" fill="#231f20">80</text>
<text transform="translate(1055.06,286.5) scale(1.0198,1)" font-family='"Liberation Sans", sans-serif' font-size="37.5" font-weight="normal" fill="#231f20">60</text>
<text transform="translate(1052.33,389.2) scale(1.0131,1)" font-family='"Liberation Sans", sans-serif' font-size="37.5" font-weight="normal" fill="#231f20">40</text>
<text transform="translate(1050.61,491.8) scale(1.0036,1)" font-family='"Liberation Sans", sans-serif' font-size="37.5" font-weight="normal" fill="#231f20">20</text>
<text transform="translate(1076.85,593.7) scale(0.9930,1)" font-family='"Liberation Sans", sans-serif' font-size="37.5" font-weight="normal" fill="#231f20">0</text>
<text transform="translate(1133.85,628.4) scale(1.0599,1)" font-family='"Liberation Sans", sans-serif' font-size="37.5" font-weight="normal" fill="#231f20">0</text>
<text transform="translate(1232.55,628.4) scale(0.9679,1)" font-family='"Liberation Sans", sans-serif' font-size="37.5" font-weight="normal" fill="#231f20">50</text>
<text transform="translate(1317.53,628.4) scale(0.9700,1)" font-family='"Liberation Sans", sans-serif' font-size="37.5" font-weight="normal" fill="#231f20">100</text>
<text transform="translate(1418.65,628.4) scale(0.9614,1)" font-family='"Liberation Sans", sans-serif' font-size="37.5" font-weight="normal" fill="#231f20">150</text>
<text transform="translate(1196.79,681.4) scale(0.9520,1)" font-family='"Liberation Sans", sans-serif' font-size="38" font-weight="normal" fill="#231f20">Time (ms)</text>
<text transform="translate(1044.1,444.96) rotate(-90) scale(0.9330,1)" font-family='"Liberation Sans", sans-serif' font-size="39.5" font-weight="normal" fill="#231f20">Voltage (mV)</text>
<line x1="1151.6" y1="579.6" x2="1151.6" y2="73.7" stroke="#3953a4" stroke-width="5.1" stroke-linecap="butt"/>
<polyline points="1152,76 1152.06,77.51 1152.11,79.01 1152.17,80.52 1152.22,82.03 1152.27,83.54 1152.32,85.04 1152.37,86.55 1152.42,88.06 1152.46,89.57 1152.51,91.07 1152.56,92.58 1152.6,94.09 1152.64,95.59 1152.68,97.1 1152.72,98.61 1152.76,100.12 1152.8,101.62 1152.84,103.13 1152.88,104.64 1152.91,106.15 1152.95,107.65 1152.98,109.16 1153.02,110.67 1153.05,112.17 1153.08,113.68 1153.11,115.19 1153.14,116.7 1153.17,118.2 1153.2,119.71 1153.23,121.22 1153.25,122.72 1153.28,124.23 1153.3,125.74 1153.33,127.25 1153.35,128.75 1153.38,130.26 1153.4,131.77 1153.42,133.28 1153.44,134.78 1153.46,136.29 1153.48,137.8 1153.5,139.3 1153.52,140.81 1153.54,142.32 1153.55,143.83 1153.57,145.33 1153.59,146.84 1153.6,148.35 1153.62,149.86 1153.63,151.36 1153.65,152.87 1153.66,154.38 1153.67,155.88 1153.69,157.39 1153.7,158.9 1153.71,160.41 1153.72,161.91 1153.73,163.42 1153.74,164.93 1153.75,166.44 1153.76,167.94 1153.77,169.45 1153.78,170.96 1153.79,172.46 1153.8,173.97 1153.81,175.48 1153.82,176.99 1153.83,178.49 1153.83,180 1153.84,181.51 1153.85,183.01 1153.86,184.52 1153.86,186.03 1153.87,187.54 1153.88,189.04 1153.88,190.55 1153.89,192.06 1153.9,193.57 1153.9,195.07 1153.91,196.58 1153.91,198.09 1153.92,199.59 1153.92,201.1 1153.93,202.61 1153.94,204.12 1153.94,205.62 1153.95,207.13 1153.95,208.64 1153.96,210.14 1153.97,211.65 1153.97,213.16 1153.98,214.67 1153.98,216.17 1153.99,217.68 1154,219.19 1154,220.69 1154.01,222.2 1154.02,223.71 1154.02,225.22 1154.03,226.72 1154.04,228.23 1154.04,229.74 1154.05,231.24 1154.06,232.75 1154.07,234.26 1154.08,235.77 1154.09,237.27 1154.1,238.78 1154.11,240.29 1154.12,241.79 1154.13,243.3 1154.14,244.81 1154.15,246.32 1154.16,247.82 1154.17,249.33 1154.18,250.84 1154.19,252.34 1154.21,253.85 1154.22,255.36 1154.24,256.87 1154.25,258.37 1154.26,259.88 1154.28,261.39 1154.3,262.89 1154.31,264.4 1154.33,265.91 1154.35,267.42 1154.37,268.92 1154.38,270.43 1154.4,271.94 1154.42,273.44 1154.44,274.95 1154.47,276.46 1154.49,277.97 1154.51,279.47 1154.53,280.98 1154.56,282.49 1154.58,283.99 1154.61,285.5 1154.63,287.01 1154.66,288.52 1154.69,290.02 1154.72,291.53 1154.75,293.04 1154.78,294.54 1154.81,296.05 1154.84,297.56 1154.87,299.07 1154.91,300.57 1154.94,302.08 1154.98,303.59 1155.01,305.09 1155.05,306.6 1155.09,308.11 1155.13,309.61 1155.17,311.12 1155.21,312.63 1155.25,314.14 1155.3,315.64 1155.34,317.15 1155.38,318.66 1155.43,320.16 1155.48,321.67 1155.53,323.18 1155.58,324.68 1155.63,326.19 1155.68,327.7 1155.73,329.21 1155.79,330.71 1155.84,332.22 1155.9,333.73 1155.96,335.23 1156.01,336.74 1156.08,338.25 1156.14,339.75 1156.2,341.26 1156.26,342.77 1156.33,344.28 1156.39,345.78 1156.46,347.29 1156.53,348.8 1156.6,350.3 1156.67,351.81 1156.75,353.32 1156.82,354.83 1156.9,356.33 1156.97,357.84 1157.05,359.35 1157.13,360.86 1157.21,362.37 1157.29,363.87 1157.38,365.38 1157.46,366.89 1157.55,368.4 1157.63,369.91 1157.72,371.42 1157.81,372.92 1157.91,374.43 1158,375.94 1158.09,377.45 1158.19,378.96 1158.29,380.47 1158.39,381.98 1158.49,383.49 1158.59,385 1158.69,386.51 1158.8,388.02 1158.91,389.54 1159.01,391.05 1159.12,392.56 1159.23,394.07 1159.35,395.58 1159.46,397.1 1159.58,398.61 1159.69,400.12 1159.81,401.64 1159.93,403.15 1160.06,404.66 1160.19,406.17 1160.32,407.69 1160.46,409.2 1160.6,410.71 1160.75,412.21 1160.91,413.72 1161.07,415.22 1161.25,416.72 1161.44,418.22 1161.63,419.72 1161.84,421.21 1162.06,422.7 1162.29,424.18 1162.53,425.66 1162.79,427.14 1163.07,428.61 1163.36,430.07 1163.66,431.53 1163.98,432.99 1164.33,434.44 1164.69,435.88 1165.07,437.32 1165.46,438.75 1165.88,440.17 1166.32,441.58 1166.77,442.99 1167.25,444.4 1167.74,445.79 1168.25,447.18 1168.78,448.56 1169.33,449.93 1169.9,451.29 1170.49,452.65 1171.1,453.99 1171.73,455.33 1172.38,456.66 1173.05,457.98 1173.73,459.29 1174.44,460.6 1175.16,461.89 1175.91,463.17 1176.67,464.45 1177.46,465.71 1178.26,466.96 1179.09,468.21 1179.93,469.44 1180.79,470.67 1181.66,471.88 1182.56,473.09 1183.47,474.28 1184.39,475.47 1185.34,476.65 1186.29,477.82 1187.27,478.98 1188.25,480.13 1189.25,481.27 1190.27,482.4 1191.3,483.52 1192.34,484.63 1193.39,485.74 1194.45,486.84 1195.53,487.92 1196.61,489 1197.71,490.07 1198.81,491.13 1199.93,492.19 1201.05,493.23 1202.18,494.27 1203.32,495.3 1204.47,496.32 1205.62,497.33 1206.78,498.33 1207.95,499.33 1209.12,500.32 1210.3,501.3 1211.49,502.27 1212.68,503.23 1213.88,504.19 1215.08,505.14 1216.28,506.08 1217.49,507.01 1218.71,507.93 1219.93,508.85 1221.15,509.76 1222.38,510.66 1223.61,511.56 1224.85,512.44 1226.08,513.32 1227.33,514.19 1228.57,515.06 1229.82,515.91 1231.07,516.76 1232.32,517.6 1233.58,518.44 1234.83,519.26 1236.09,520.08 1237.35,520.89 1238.61,521.7 1239.88,522.49 1241.14,523.28 1242.4,524.06 1243.67,524.84 1244.94,525.6 1246.2,526.36 1247.47,527.12 1248.73,527.86 1250,528.6 1251,529.15 1252,529.7 1253,530.25 1254,530.79 1255,531.32 1256,531.85 1257,532.37 1258,532.88 1259,533.39 1260,533.9 1261,534.4 1262,534.9 1263,535.39 1264,535.87 1265,536.35 1266,536.83 1267,537.3 1268,537.77 1269,538.23 1270,538.68 1271,539.14 1272,539.58 1273,540.03 1274,540.46 1275,540.9 1276,541.33 1277,541.75 1278,542.17 1279,542.59 1280,543 1281,543.41 1282,543.81 1283,544.21 1284,544.61 1285,545 1286,545.38 1287,545.77 1288,546.15 1289,546.52 1290,546.89 1291,547.26 1292,547.62 1293,547.98 1294,548.34 1295,548.69 1296,549.04 1297,549.39 1298,549.73 1299,550.07 1300,550.4 1301,550.74 1302,551.06 1303,551.39 1304,551.71 1305,552.03 1306,552.34 1307,552.65 1308,552.96 1309,553.27 1310,553.57 1311,553.88 1312,554.18 1313,554.49 1314,554.79 1315,555.08 1316,555.38 1317,555.67 1318,555.96 1319,556.24 1320,556.53 1321,556.81 1322,557.08 1323,557.36 1324,557.63 1325,557.9 1326,558.16 1327,558.43 1328,558.69 1329,558.95 1330,559.2 1331,559.45 1332,559.7 1333,559.95 1334,560.2 1335,560.44 1336,560.68 1337,560.92 1338,561.16 1339,561.39 1340,561.62 1341,561.85 1342,562.08 1343,562.3 1344,562.52 1345,562.74 1346,562.96 1347,563.17 1348,563.39 1349,563.6 1350,563.81 1351,564.01 1352,564.22 1353,564.42 1354,564.62 1355,564.82 1356,565.02 1357,565.21 1358,565.41 1359,565.6 1360,565.79 1361,565.97 1362,566.16 1363,566.34 1364,566.52 1365,566.7 1366,566.88 1367,567.06 1368,567.23 1369,567.4 1370,567.58 1371,567.74 1372,567.91 1373,568.08 1374,568.24 1375,568.41 1376,568.57 1377,568.73 1378,568.88 1379,569.04 1380,569.19 1381,569.35 1382,569.5 1383,569.65 1384,569.8 1385,569.94 1386,570.09 1387,570.23 1388,570.38 1389,570.52 1390,570.66 1391,570.8 1392,570.93 1393,571.07 1394,571.2 1395,571.34 1396,571.47 1397,571.6 1398,571.73 1399,571.85 1400,571.98 1401,572.11 1402,572.23 1403,572.35 1404,572.47 1405,572.59 1406,572.71 1407,572.83 1408,572.95 1409,573.06 1410,573.18 1411,573.29 1412,573.4 1413,573.51 1414,573.62 1415,573.73 1416,573.84 1417,573.95 1418,574.05 1419,574.16 1420,574.26 1421,574.36 1422,574.46 1423,574.56 1424,574.66 1425,574.76 1426,574.86 1427,574.96 1428,575.05 1429,575.15 1430,575.24 1431,575.33 1432,575.42 1433,575.51 1434,575.6 1435,575.69 1436,575.78 1437,575.87 1438,575.96 1439,576.04 1440,576.13 1441,576.21 1442,576.29 1443,576.37 1444,576.46 1445,576.54 1446,576.62 1447,576.69 1448,576.77 1449,576.85" fill="none" stroke="#3953a4" stroke-width="5" stroke-linejoin="round" stroke-linecap="butt"/>
<text transform="translate(7.45,773) scale(1.0032,1)" font-family='"Liberation Sans", sans-serif' font-size="38" font-weight="bold" fill="#231f20">B</text>
<rect x="163.1" y="889.6" width="506.5" height="114.5" fill="url(#gv)"/>
<line x1="163.1" y1="805" x2="163.1" y2="1205.2" stroke="#231f20" stroke-width="2.2" stroke-linecap="butt"/>
<line x1="162.1" y1="1204.2" x2="672.5" y2="1204.2" stroke="#231f20" stroke-width="2.6" stroke-linecap="butt"/>
<line x1="163.1" y1="862" x2="168.3" y2="862" stroke="#231f20" stroke-width="2.3" stroke-linecap="butt"/>
<line x1="163.1" y1="918.8" x2="168.3" y2="918.8" stroke="#231f20" stroke-width="2.3" stroke-linecap="butt"/>
<line x1="163.1" y1="976.1" x2="168.3" y2="976.1" stroke="#231f20" stroke-width="2.3" stroke-linecap="butt"/>
<line x1="163.1" y1="1033.2" x2="168.3" y2="1033.2" stroke="#231f20" stroke-width="2.3" stroke-linecap="butt"/>
<line x1="163.1" y1="1090.3" x2="168.3" y2="1090.3" stroke="#231f20" stroke-width="2.3" stroke-linecap="butt"/>
<line x1="163.1" y1="1147.6" x2="168.3" y2="1147.6" stroke="#231f20" stroke-width="2.3" stroke-linecap="butt"/>
<line x1="235.8" y1="1204.2" x2="235.8" y2="1198.7" stroke="#231f20" stroke-width="2.3" stroke-linecap="butt"/>
<line x1="380.9" y1="1204.2" x2="380.9" y2="1198.7" stroke="#231f20" stroke-width="2.3" stroke-linecap="butt"/>
<line x1="526.2" y1="1204.2" x2="526.2" y2="1198.7" stroke="#231f20" stroke-width="2.3" stroke-linecap="butt"/>
<line x1="671.9" y1="1204.2" x2="671.9" y2="1198.7" stroke="#231f20" stroke-width="2.3" stroke-linecap="butt"/>
<text transform="translate(90.6,870.4) scale(0.9568,1)" font-family='"Liberation Sans", sans-serif' font-size="37.5" font-weight="normal" fill="#231f20">0.6</text>
<text transform="translate(90.64,927.2) scale(0.9289,1)" font-family='"Liberation Sans", sans-serif' font-size="37.5" font-weight="normal" fill="#231f20">0.5</text>
<text transform="translate(90.61,984.5) scale(0.9523,1)" font-family='"Liberation Sans", sans-serif' font-size="37.5" font-weight="normal" fill="#231f20">0.4</text>
<text transform="translate(90.64,1041.6) scale(0.9303,1)" font-family='"Liberation Sans", sans-serif' font-size="37.5" font-weight="normal" fill="#231f20">0.3</text>
<text transform="translate(90.61,1098.4) scale(0.9512,1)" font-family='"Liberation Sans", sans-serif' font-size="37.5" font-weight="normal" fill="#231f20">0.2</text>
<text transform="translate(90.7,1155.2) scale(0.8846,1)" font-family='"Liberation Sans", sans-serif' font-size="37.5" font-weight="normal" fill="#231f20">0.1</text>
<text transform="translate(108.86,1212.3) scale(1.0543,1)" font-family='"Liberation Sans", sans-serif' font-size="37.5" font-weight="normal" fill="#231f20">0</text>
<text transform="translate(220.1,1239.4) scale(1.0209,1)" font-family='"Liberation Sans", sans-serif' font-size="37.5" font-weight="normal" fill="#231f20">0</text>
<text transform="translate(334.43,1239.4) scale(0.9700,1)" font-family='"Liberation Sans", sans-serif' font-size="37.5" font-weight="normal" fill="#231f20">100</text>
<text transform="translate(479.12,1239.4) scale(0.9963,1)" font-family='"Liberation Sans", sans-serif' font-size="37.5" font-weight="normal" fill="#231f20">200</text>
<text transform="translate(310.79,1284.8) scale(0.9484,1)" font-family='"Liberation Sans", sans-serif' font-size="38" font-weight="normal" fill="#231f20">Time (ms)</text>
<text transform="translate(62.8,1113.89) rotate(-90) scale(0.8254,1)" font-family='"Liberation Sans", sans-serif' font-size="39" font-weight="normal" fill="#231f20">[Ca</text>
<text transform="translate(45.3,1061.4) rotate(-90) scale(1.0719,1)" font-family='"Liberation Sans", sans-serif' font-size="26" font-weight="normal" fill="#231f20">2+</text>
<text transform="translate(62.8,1028.57) rotate(-90) scale(0.8784,1)" font-family='"Liberation Sans", sans-serif' font-size="39" font-weight="normal" fill="#231f20">] (a.u.)</text>
<polyline points="163.2,1203.6 232.8,1203.6 233.22,1202.1 233.62,1200.6 234,1199.1 234.37,1197.61 234.72,1196.12 235.06,1194.64 235.39,1193.16 235.7,1191.68 236,1190.2 236.29,1188.73 236.57,1187.25 236.84,1185.78 237.1,1184.32 237.35,1182.85 237.59,1181.39 237.83,1179.92 238.06,1178.46 238.29,1177 238.51,1175.54 238.73,1174.08 238.95,1172.62 239.16,1171.17 239.38,1169.71 239.59,1168.25 239.8,1166.79 240.02,1165.33 240.24,1163.87 240.46,1162.41 240.68,1160.95 240.91,1159.49 241.14,1158.02 241.38,1156.56 241.62,1155.09 241.88,1153.62 242.14,1152.15 242.41,1150.68 242.69,1149.21 242.98,1147.73 243.28,1146.25 243.6,1144.76 243.93,1143.28 244.27,1141.79 244.62,1140.29 244.99,1138.8 245.38,1137.29 245.78,1135.79 246.21,1134.28 246.65,1132.77 247.11,1131.25 247.58,1129.72 248.08,1128.2 248.61,1126.67 249.15,1125.13 249.71,1123.61 250.29,1122.08 250.9,1120.56 251.52,1119.04 252.17,1117.54 252.83,1116.05 253.52,1114.57 254.23,1113.1 254.96,1111.66 255.71,1110.23 256.48,1108.83 257.28,1107.45 258.09,1106.09 258.93,1104.77 259.79,1103.47 260.66,1102.2 261.56,1100.97 262.49,1099.78 263.43,1098.62 264.39,1097.51 265.38,1096.43 266.38,1095.4 267.41,1094.42 268.46,1093.48 269.53,1092.6 270.63,1091.77 271.74,1090.99 272.88,1090.27 274.04,1089.6 275.22,1089 276.42,1088.46 277.64,1087.99 278.89,1087.58 280.15,1087.24 281.44,1086.96 282.75,1086.75 284.07,1086.6 285.41,1086.51 286.77,1086.48 288.14,1086.5 289.52,1086.57 290.91,1086.7 292.32,1086.87 293.73,1087.09 295.15,1087.36 296.58,1087.67 298.01,1088.02 299.45,1088.4 300.89,1088.83 302.33,1089.28 303.77,1089.77 305.21,1090.29 306.65,1090.84 308.08,1091.42 309.51,1092.01 310.93,1092.63 312.35,1093.27 313.76,1093.93 315.16,1094.6 316.55,1095.29 317.93,1095.99 319.3,1096.71 320.66,1097.43 322.01,1098.17 323.36,1098.92 324.7,1099.68 326.03,1100.45 327.35,1101.24 328.67,1102.02 329.98,1102.82 331.29,1103.63 332.59,1104.44 333.89,1105.26 335.18,1106.08 336.47,1106.91 337.75,1107.75 339.03,1108.59 340.31,1109.43 341.58,1110.27 342.86,1111.12 344.13,1111.96 345.4,1112.81 346.66,1113.66 347.93,1114.51 349.2,1115.35 350.47,1116.2 351.73,1117.04 353,1117.88 354.27,1118.72 355.54,1119.55 356.82,1120.38 358.09,1121.2 359.37,1122.01 360.65,1122.82 361.94,1123.62 363.22,1124.42 364.51,1125.21 365.81,1125.99 367.1,1126.77 368.4,1127.54 369.7,1128.3 371.01,1129.06 372.32,1129.81 373.63,1130.55 374.94,1131.29 376.25,1132.02 377.57,1132.75 378.89,1133.47 380.22,1134.18 381.55,1134.88 382.87,1135.59 384.21,1136.28 385.54,1136.97 386.88,1137.65 388.22,1138.33 389.56,1139 390.91,1139.66 392.25,1140.32 393.6,1140.97 394.96,1141.62 396.31,1142.26 397.67,1142.89 399.03,1143.52 400.39,1144.15 401.76,1144.76 403.13,1145.38 404.5,1145.98 405.87,1146.58 407.24,1147.18 408.62,1147.77 410,1148.35 411.38,1148.93 412.76,1149.5 414.15,1150.07 415.54,1150.63 416.93,1151.19 418.32,1151.74 419.71,1152.28 421.11,1152.83 422.51,1153.36 423.91,1153.89 425.31,1154.42 426.72,1154.93 428.12,1155.45 429.53,1155.96 430.94,1156.46 432.36,1156.96 433.77,1157.45 435.19,1157.94 436.61,1158.43 438.03,1158.91 439.45,1159.38 440.88,1159.85 442.3,1160.31 443.73,1160.77 445.16,1161.23 446.59,1161.68 448.03,1162.12 449.46,1162.56 450.9,1163 452.34,1163.43 453.78,1163.85 455.22,1164.28 456.66,1164.69 458.11,1165.1 459.56,1165.51 461,1165.92 462.45,1166.31 463.91,1166.71 465.36,1167.1 466.81,1167.48 468.27,1167.87 469.73,1168.24 471.19,1168.62 472.65,1168.98 474.11,1169.35 475.57,1169.71 477.04,1170.06 478.5,1170.41 479.97,1170.76 481.44,1171.11 482.91,1171.44 484.38,1171.78 485.85,1172.11 487.33,1172.44 488.8,1172.76 490.28,1173.08 491.75,1173.4 493.23,1173.71 494.71,1174.02 496.19,1174.32 497.68,1174.62 499.16,1174.92 500.64,1175.21 502.13,1175.5 503.61,1175.78 505.1,1176.06 506.59,1176.34 508.08,1176.62 509.57,1176.89 511.06,1177.16 512.55,1177.42 514.04,1177.68 515.54,1177.94 517.03,1178.19 518.53,1178.44 520.02,1178.69 521.52,1178.93 523.02,1179.17 524.51,1179.41 526.01,1179.64 527.51,1179.87 529.01,1180.1 530.51,1180.33 532.02,1180.55 533.52,1180.77 535.02,1180.98 536.52,1181.19 538.03,1181.4 539.53,1181.61 541.04,1181.81 542.54,1182.01 544.05,1182.21 545.56,1182.4 547.06,1182.6 548.57,1182.79 550.08,1182.97 551.59,1183.16 553.1,1183.34 554.61,1183.52 556.12,1183.69 557.63,1183.86 559.14,1184.03 560.65,1184.2 562.16,1184.37 563.67,1184.53 565.18,1184.69 566.69,1184.85 568.2,1185 569.71,1185.16 571.22,1185.31 572.74,1185.46 574.25,1185.6 575.76,1185.75 577.27,1185.89 578.78,1186.03 580.3,1186.17 581.81,1186.3 583.32,1186.43 584.83,1186.57 586.34,1186.69 587.86,1186.82 589.37,1186.95 590.88,1187.07 592.39,1187.19 593.9,1187.31 595.41,1187.43 596.92,1187.54 598.44,1187.66 599.95,1187.77 601.46,1187.88 602.97,1187.99 604.48,1188.09 605.99,1188.2 607.5,1188.3 609,1188.4 610.51,1188.5 612.02,1188.6 613.53,1188.7 615.04,1188.79 616.54,1188.89 618.05,1188.98 619.55,1189.07 621.06,1189.16 622.56,1189.25 624.07,1189.34 625.57,1189.42 627.08,1189.51 628.58,1189.59 630.08,1189.67 631.58,1189.75 633.08,1189.83 634.58,1189.91 636.08,1189.99 637.58,1190.07 639.08,1190.14 640.57,1190.22 642.07,1190.29 643.57,1190.36 645.06,1190.43 646.55,1190.51 648.05,1190.58 649.54,1190.64 651.03,1190.71 652.52,1190.78 654.01,1190.85 655.5,1190.91 656.98,1190.98 658.47,1191.04 659.96,1191.11 661.44,1191.17 662.92,1191.23 664.41,1191.3 665.89,1191.36 667.37,1191.42 668.84,1191.48 670.32,1191.54 671.8,1191.6" fill="none" stroke="#939598" stroke-width="5.3" stroke-linejoin="round" stroke-linecap="butt"/>
<polyline points="163.2,1203.6 232.8,1203.6 232.91,1202.13 233.01,1200.65 233.12,1199.18 233.23,1197.7 233.33,1196.22 233.44,1194.74 233.55,1193.26 233.66,1191.78 233.77,1190.3 233.88,1188.81 233.99,1187.33 234.1,1185.84 234.21,1184.35 234.32,1182.86 234.44,1181.37 234.55,1179.88 234.66,1178.39 234.78,1176.9 234.89,1175.41 235,1173.91 235.12,1172.42 235.23,1170.92 235.35,1169.43 235.47,1167.93 235.58,1166.43 235.7,1164.93 235.82,1163.43 235.93,1161.93 236.05,1160.43 236.17,1158.93 236.29,1157.42 236.41,1155.92 236.53,1154.42 236.65,1152.91 236.77,1151.41 236.89,1149.9 237.01,1148.39 237.13,1146.89 237.25,1145.38 237.37,1143.87 237.49,1142.36 237.62,1140.85 237.74,1139.34 237.86,1137.83 237.98,1136.32 238.11,1134.81 238.23,1133.3 238.36,1131.79 238.48,1130.28 238.6,1128.77 238.73,1127.26 238.85,1125.74 238.98,1124.23 239.1,1122.72 239.23,1121.2 239.35,1119.69 239.48,1118.18 239.61,1116.66 239.73,1115.15 239.86,1113.64 239.99,1112.12 240.11,1110.61 240.24,1109.1 240.37,1107.58 240.5,1106.07 240.62,1104.56 240.75,1103.04 240.88,1101.53 241.01,1100.02 241.14,1098.5 241.26,1096.99 241.39,1095.48 241.52,1093.96 241.65,1092.45 241.78,1090.94 241.91,1089.43 242.04,1087.92 242.17,1086.4 242.3,1084.89 242.43,1083.38 242.55,1081.87 242.68,1080.36 242.81,1078.85 242.94,1077.34 243.07,1075.83 243.2,1074.33 243.33,1072.82 243.46,1071.31 243.59,1069.8 243.72,1068.3 243.85,1066.79 243.98,1065.29 244.11,1063.78 244.24,1062.28 244.37,1060.78 244.5,1059.27 244.63,1057.77 244.76,1056.27 244.89,1054.77 245.02,1053.27 245.15,1051.77 245.28,1050.27 245.41,1048.78 245.54,1047.28 245.67,1045.79 245.8,1044.29 245.93,1042.8 246.06,1041.3 246.19,1039.81 246.32,1038.32 246.45,1036.83 246.58,1035.34 246.71,1033.85 246.84,1032.37 246.97,1030.88 247.1,1029.4 247.22,1027.91 247.35,1026.43 247.48,1024.95 247.61,1023.47 247.74,1021.99 247.87,1020.51 247.99,1019.04 248.12,1017.56 248.25,1016.09 248.38,1014.61 248.5,1013.14 248.63,1011.67 248.76,1010.2 248.88,1008.74 249.01,1007.27 249.14,1005.81 249.26,1004.34 249.39,1002.88 249.52,1001.42 249.64,999.96 249.77,998.5 249.9,997.04 250.04,995.58 250.17,994.12 250.31,992.66 250.45,991.19 250.6,989.73 250.75,988.26 250.9,986.79 251.06,985.32 251.23,983.84 251.4,982.37 251.57,980.88 251.76,979.4 251.95,977.91 252.15,976.41 252.35,974.91 252.57,973.4 252.79,971.89 253.03,970.37 253.27,968.85 253.52,967.32 253.79,965.78 254.06,964.24 254.35,962.68 254.64,961.12 254.95,959.56 255.28,957.98 255.61,956.39 255.96,954.8 256.32,953.19 256.7,951.58 257.1,949.96 257.51,948.34 257.94,946.73 258.4,945.13 258.88,943.56 259.4,942.01 259.94,940.49 260.52,939.02 261.14,937.59 261.79,936.21 262.49,934.9 263.23,933.65 264.01,932.47 264.85,931.37 265.74,930.35 266.68,929.43 267.67,928.6 268.73,927.88 269.85,927.27 271.02,926.77 272.25,926.4 273.5,926.17 274.79,926.08 276.09,926.14 277.39,926.33 278.69,926.66 279.96,927.13 281.19,927.71 282.38,928.42 283.51,929.24 284.58,930.17 285.61,931.19 286.59,932.29 287.53,933.47 288.43,934.7 289.3,935.99 290.14,937.32 290.96,938.68 291.76,940.06 292.54,941.44 293.31,942.83 294.07,944.21 294.82,945.59 295.56,946.97 296.28,948.35 297,949.72 297.71,951.1 298.41,952.47 299.11,953.84 299.79,955.2 300.47,956.57 301.14,957.93 301.8,959.3 302.45,960.66 303.1,962.02 303.74,963.38 304.38,964.74 305.01,966.09 305.64,967.45 306.26,968.8 306.87,970.16 307.48,971.51 308.09,972.86 308.7,974.22 309.3,975.57 309.9,976.92 310.49,978.27 311.09,979.62 311.68,980.97 312.27,982.32 312.86,983.67 313.44,985.01 314.03,986.36 314.62,987.71 315.21,989.06 315.79,990.41 316.38,991.76 316.97,993.11 317.56,994.46 318.16,995.81 318.75,997.17 319.35,998.52 319.95,999.87 320.55,1001.23 321.16,1002.58 321.77,1003.94 322.38,1005.29 323,1006.65 323.62,1008.01 324.24,1009.37 324.87,1010.72 325.5,1012.08 326.13,1013.44 326.77,1014.8 327.42,1016.16 328.06,1017.52 328.71,1018.88 329.37,1020.24 330.02,1021.6 330.69,1022.95 331.35,1024.31 332.02,1025.67 332.7,1027.02 333.38,1028.38 334.06,1029.73 334.74,1031.09 335.43,1032.44 336.13,1033.79 336.83,1035.14 337.53,1036.49 338.24,1037.83 338.95,1039.18 339.67,1040.52 340.39,1041.86 341.11,1043.2 341.84,1044.54 342.58,1045.87 343.32,1047.21 344.06,1048.54 344.81,1049.87 345.56,1051.19 346.32,1052.52 347.08,1053.84 347.84,1055.16 348.62,1056.47 349.39,1057.78 350.17,1059.09 350.96,1060.4 351.75,1061.7 352.54,1063 353.34,1064.3 354.15,1065.59 354.96,1066.88 355.77,1068.17 356.6,1069.45 357.42,1070.73 358.25,1072 359.09,1073.28 359.93,1074.54 360.77,1075.8 361.63,1077.06 362.48,1078.31 363.34,1079.56 364.21,1080.81 365.08,1082.05 365.96,1083.28 366.85,1084.51 367.74,1085.74 368.63,1086.96 369.53,1088.17 370.44,1089.38 371.35,1090.58 372.27,1091.78 373.19,1092.97 374.12,1094.16 375.05,1095.34 375.99,1096.52 376.94,1097.69 377.89,1098.85 378.85,1100.01 379.81,1101.16 380.78,1102.31 381.75,1103.45 382.73,1104.58 383.72,1105.7 384.71,1106.82 385.71,1107.93 386.72,1109.04 387.73,1110.14 388.75,1111.23 389.77,1112.31 390.8,1113.39 391.84,1114.46 392.88,1115.52 393.93,1116.58 394.99,1117.62 396.05,1118.66 397.12,1119.7 398.19,1120.72 399.27,1121.74 400.36,1122.74 401.46,1123.74 402.56,1124.73 403.67,1125.72 404.78,1126.69 405.9,1127.66 407.03,1128.61 408.16,1129.56 409.31,1130.5 410.45,1131.43 411.61,1132.35 412.77,1133.27 413.94,1134.17 415.12,1135.06 416.3,1135.95 417.49,1136.82 418.68,1137.69 419.89,1138.55 421.1,1139.39 422.32,1140.23 423.54,1141.05 424.78,1141.87 426.02,1142.68 427.26,1143.47 428.52,1144.26 429.78,1145.03 431.05,1145.8 432.32,1146.55 433.61,1147.29 434.9,1148.03 436.2,1148.75 437.5,1149.46 438.81,1150.17 440.13,1150.86 441.45,1151.54 442.78,1152.22 444.12,1152.88 445.46,1153.54 446.81,1154.18 448.17,1154.82 449.53,1155.45 450.89,1156.06 452.26,1156.67 453.64,1157.27 455.02,1157.86 456.41,1158.45 457.8,1159.02 459.2,1159.58 460.6,1160.14 462.01,1160.69 463.42,1161.23 464.84,1161.76 466.26,1162.29 467.69,1162.8 469.12,1163.31 470.55,1163.81 471.99,1164.3 473.43,1164.79 474.87,1165.27 476.32,1165.74 477.77,1166.2 479.23,1166.66 480.69,1167.1 482.15,1167.55 483.61,1167.98 485.08,1168.41 486.55,1168.83 488.03,1169.25 489.5,1169.65 490.98,1170.06 492.46,1170.45 493.94,1170.84 495.43,1171.22 496.92,1171.6 498.4,1171.97 499.9,1172.34 501.39,1172.7 502.88,1173.05 504.38,1173.4 505.87,1173.75 507.37,1174.08 508.87,1174.42 510.37,1174.74 511.87,1175.07 513.37,1175.38 514.88,1175.7 516.38,1176 517.88,1176.31 519.39,1176.61 520.89,1176.9 522.39,1177.19 523.9,1177.48 525.4,1177.76 526.9,1178.03 528.41,1178.31 529.91,1178.58 531.41,1178.84 532.91,1179.1 534.41,1179.36 535.91,1179.62 537.41,1179.87 538.9,1180.12 540.4,1180.36 541.89,1180.6 543.39,1180.84 544.88,1181.08 546.37,1181.31 547.86,1181.54 549.35,1181.76 550.83,1181.99 552.32,1182.21 553.8,1182.43 555.29,1182.64 556.77,1182.85 558.25,1183.06 559.73,1183.26 561.21,1183.47 562.69,1183.67 564.17,1183.86 565.64,1184.06 567.12,1184.25 568.6,1184.43 570.07,1184.62 571.55,1184.8 573.02,1184.98 574.5,1185.16 575.97,1185.33 577.45,1185.5 578.92,1185.67 580.4,1185.83 581.87,1186 583.34,1186.16 584.82,1186.31 586.29,1186.47 587.76,1186.62 589.24,1186.77 590.71,1186.92 592.18,1187.06 593.66,1187.2 595.13,1187.34 596.61,1187.47 598.08,1187.61 599.56,1187.74 601.03,1187.86 602.51,1187.99 603.99,1188.11 605.46,1188.23 606.94,1188.35 608.42,1188.47 609.9,1188.58 611.38,1188.69 612.86,1188.8 614.34,1188.9 615.83,1189 617.31,1189.1 618.8,1189.2 620.28,1189.3 621.77,1189.39 623.26,1189.48 624.75,1189.57 626.24,1189.65 627.73,1189.74 629.23,1189.82 630.72,1189.9 632.22,1189.97 633.72,1190.05 635.22,1190.12 636.72,1190.19 638.22,1190.26 639.72,1190.32 641.23,1190.39 642.74,1190.45 644.25,1190.51 645.76,1190.56 647.27,1190.62 648.79,1190.67 650.31,1190.72 651.83,1190.77 653.35,1190.81 654.88,1190.86 656.4,1190.9 657.93,1190.94 659.46,1190.97 661,1191.01 662.53,1191.04 664.07,1191.07 665.61,1191.1 667.15,1191.13 668.7,1191.16 670.25,1191.18 671.8,1191.2" fill="none" stroke="#3953a4" stroke-width="5.3" stroke-linejoin="round" stroke-linecap="butt"/>
<polyline points="163.2,1203.6 232.8,1203.6 232.95,1202.13 233.1,1200.66 233.25,1199.18 233.39,1197.71 233.53,1196.23 233.67,1194.76 233.81,1193.28 233.95,1191.8 234.08,1190.32 234.21,1188.84 234.34,1187.36 234.47,1185.87 234.6,1184.39 234.72,1182.91 234.85,1181.42 234.97,1179.93 235.08,1178.44 235.2,1176.95 235.32,1175.46 235.43,1173.97 235.54,1172.48 235.65,1170.99 235.76,1169.49 235.86,1168 235.97,1166.5 236.07,1165.01 236.17,1163.51 236.27,1162.01 236.37,1160.51 236.47,1159.01 236.56,1157.51 236.66,1156.01 236.75,1154.51 236.84,1153.01 236.93,1151.51 237.01,1150 237.1,1148.5 237.18,1146.99 237.27,1145.49 237.35,1143.98 237.43,1142.48 237.51,1140.97 237.58,1139.46 237.66,1137.95 237.74,1136.44 237.81,1134.93 237.88,1133.43 237.95,1131.92 238.02,1130.4 238.09,1128.89 238.16,1127.38 238.23,1125.87 238.29,1124.36 238.36,1122.85 238.42,1121.33 238.49,1119.82 238.55,1118.31 238.61,1116.79 238.67,1115.28 238.73,1113.77 238.78,1112.25 238.84,1110.74 238.9,1109.22 238.95,1107.71 239.01,1106.19 239.06,1104.68 239.11,1103.16 239.16,1101.65 239.21,1100.13 239.26,1098.62 239.31,1097.1 239.36,1095.59 239.41,1094.07 239.46,1092.55 239.51,1091.04 239.55,1089.52 239.6,1088.01 239.64,1086.49 239.69,1084.98 239.73,1083.46 239.78,1081.95 239.82,1080.43 239.86,1078.92 239.9,1077.4 239.95,1075.89 239.99,1074.37 240.03,1072.86 240.07,1071.35 240.11,1069.83 240.15,1068.32 240.19,1066.81 240.23,1065.29 240.27,1063.78 240.31,1062.27 240.35,1060.76 240.39,1059.25 240.42,1057.74 240.46,1056.23 240.5,1054.72 240.54,1053.21 240.58,1051.7 240.62,1050.19 240.65,1048.68 240.69,1047.17 240.73,1045.67 240.77,1044.16 240.81,1042.66 240.84,1041.15 240.88,1039.65 240.92,1038.14 240.96,1036.64 241,1035.14 241.04,1033.63 241.08,1032.13 241.11,1030.63 241.15,1029.13 241.19,1027.63 241.23,1026.13 241.27,1024.64 241.32,1023.14 241.36,1021.64 241.4,1020.15 241.44,1018.66 241.48,1017.16 241.52,1015.67 241.57,1014.18 241.61,1012.69 241.66,1011.2 241.7,1009.71 241.75,1008.22 241.79,1006.73 241.84,1005.25 241.88,1003.76 241.93,1002.28 241.98,1000.8 242.03,999.31 242.08,997.83 242.13,996.35 242.18,994.87 242.23,993.39 242.29,991.92 242.34,990.44 242.39,988.96 242.45,987.48 242.51,986.01 242.56,984.53 242.62,983.06 242.68,981.58 242.74,980.11 242.81,978.63 242.87,977.16 242.94,975.69 243,974.21 243.07,972.74 243.14,971.27 243.21,969.79 243.28,968.32 243.35,966.84 243.43,965.37 243.5,963.9 243.58,962.42 243.66,960.95 243.74,959.47 243.82,958 243.9,956.52 243.99,955.04 244.08,953.57 244.17,952.09 244.26,950.61 244.35,949.13 244.44,947.65 244.54,946.17 244.64,944.69 244.74,943.21 244.84,941.73 244.95,940.24 245.05,938.76 245.16,937.27 245.27,935.78 245.39,934.3 245.5,932.81 245.62,931.32 245.74,929.82 245.86,928.33 245.98,926.84 246.11,925.34 246.24,923.84 246.37,922.34 246.5,920.84 246.64,919.34 246.78,917.84 246.92,916.33 247.07,914.82 247.21,913.32 247.36,911.81 247.51,910.29 247.67,908.78 247.83,907.26 247.99,905.74 248.15,904.22 248.32,902.7 248.49,901.17 248.66,899.65 248.83,898.12 249.01,896.59 249.19,895.05 249.38,893.52 249.56,891.98 249.75,890.44 249.95,888.89 250.14,887.35 250.34,885.8 250.55,884.25 250.75,882.69 250.96,881.13 251.18,879.58 251.39,878.01 251.61,876.45 251.84,874.88 252.06,873.31 252.3,871.73 252.53,870.15 252.77,868.57 253.01,866.99 253.25,865.4 253.5,863.81 253.76,862.22 254.01,860.62 254.27,859.02 254.54,857.42 254.81,855.81 255.09,854.22 255.38,852.63 255.69,851.05 256.01,849.5 256.36,847.97 256.73,846.48 257.13,845.01 257.56,843.59 258.03,842.21 258.53,840.88 259.08,839.61 259.66,838.39 260.3,837.24 260.98,836.17 261.72,835.16 262.51,834.24 263.36,833.39 264.28,832.64 265.25,831.99 266.27,831.47 267.3,831.1 268.33,830.91 269.33,830.93 270.31,831.15 271.25,831.56 272.18,832.14 273.07,832.88 273.95,833.75 274.8,834.74 275.63,835.84 276.43,837.03 277.23,838.3 278,839.62 278.76,840.99 279.5,842.38 280.23,843.78 280.94,845.19 281.64,846.6 282.33,848.01 283.01,849.42 283.68,850.84 284.33,852.26 284.98,853.68 285.61,855.1 286.23,856.52 286.84,857.95 287.44,859.38 288.03,860.8 288.61,862.24 289.18,863.67 289.74,865.1 290.29,866.54 290.84,867.97 291.37,869.41 291.9,870.85 292.42,872.29 292.93,873.73 293.43,875.18 293.93,876.62 294.41,878.06 294.9,879.51 295.37,880.96 295.84,882.4 296.31,883.85 296.77,885.3 297.22,886.75 297.67,888.2 298.11,889.65 298.55,891.1 298.98,892.55 299.41,894 299.84,895.45 300.26,896.9 300.68,898.35 301.1,899.81 301.51,901.26 301.92,902.71 302.33,904.16 302.74,905.61 303.14,907.06 303.55,908.51 303.95,909.96 304.35,911.41 304.75,912.86 305.16,914.31 305.56,915.75 305.96,917.2 306.36,918.64 306.76,920.09 307.16,921.53 307.57,922.97 307.97,924.42 308.38,925.86 308.79,927.3 309.2,928.73 309.62,930.17 310.03,931.6 310.45,933.04 310.88,934.47 311.3,935.9 311.74,937.33 312.17,938.76 312.61,940.18 313.05,941.6 313.5,943.02 313.95,944.44 314.41,945.86 314.87,947.28 315.34,948.69 315.81,950.1 316.29,951.52 316.77,952.93 317.25,954.33 317.74,955.74 318.23,957.15 318.72,958.55 319.22,959.95 319.72,961.35 320.23,962.75 320.74,964.15 321.26,965.55 321.77,966.95 322.29,968.34 322.82,969.74 323.35,971.13 323.88,972.52 324.41,973.91 324.95,975.3 325.49,976.69 326.03,978.08 326.58,979.47 327.13,980.86 327.68,982.24 328.24,983.63 328.8,985.02 329.36,986.4 329.92,987.79 330.49,989.17 331.06,990.56 331.63,991.94 332.2,993.32 332.78,994.71 333.36,996.09 333.94,997.47 334.52,998.85 335.1,1000.24 335.69,1001.62 336.28,1003 336.87,1004.38 337.46,1005.77 338.06,1007.15 338.65,1008.53 339.25,1009.91 339.85,1011.3 340.45,1012.68 341.05,1014.06 341.66,1015.45 342.26,1016.83 342.87,1018.22 343.47,1019.6 344.08,1020.99 344.69,1022.38 345.3,1023.76 345.92,1025.15 346.53,1026.54 347.15,1027.93 347.76,1029.31 348.38,1030.7 349.01,1032.08 349.63,1033.47 350.26,1034.86 350.89,1036.24 351.52,1037.62 352.15,1039 352.79,1040.38 353.43,1041.76 354.07,1043.14 354.72,1044.52 355.37,1045.89 356.02,1047.26 356.68,1048.63 357.34,1050 358,1051.37 358.67,1052.73 359.34,1054.09 360.02,1055.45 360.7,1056.8 361.38,1058.16 362.07,1059.51 362.77,1060.85 363.46,1062.2 364.17,1063.53 364.88,1064.87 365.59,1066.2 366.31,1067.53 367.03,1068.85 367.76,1070.17 368.5,1071.49 369.24,1072.8 369.98,1074.11 370.74,1075.41 371.5,1076.71 372.26,1078 373.03,1079.29 373.81,1080.57 374.59,1081.84 375.38,1083.12 376.18,1084.38 376.99,1085.64 377.8,1086.9 378.62,1088.14 379.44,1089.39 380.28,1090.62 381.12,1091.85 381.97,1093.08 382.82,1094.29 383.69,1095.5 384.56,1096.71 385.44,1097.9 386.33,1099.09 387.22,1100.27 388.13,1101.45 389.04,1102.61 389.97,1103.77 390.9,1104.92 391.84,1106.07 392.79,1107.2 393.75,1108.33 394.71,1109.45 395.69,1110.56 396.68,1111.66 397.67,1112.75 398.68,1113.84 399.7,1114.91 400.72,1115.98 401.76,1117.03 402.81,1118.08 403.86,1119.12 404.93,1120.15 406,1121.17 407.09,1122.18 408.18,1123.19 409.28,1124.18 410.39,1125.17 411.52,1126.14 412.64,1127.11 413.78,1128.07 414.93,1129.02 416.08,1129.96 417.25,1130.89 418.42,1131.81 419.6,1132.73 420.79,1133.63 421.98,1134.53 423.18,1135.42 424.4,1136.3 425.61,1137.17 426.84,1138.03 428.07,1138.89 429.31,1139.73 430.56,1140.57 431.81,1141.39 433.07,1142.21 434.34,1143.02 435.62,1143.83 436.9,1144.62 438.18,1145.41 439.47,1146.18 440.77,1146.95 442.08,1147.71 443.39,1148.46 444.71,1149.21 446.03,1149.94 447.36,1150.67 448.69,1151.39 450.03,1152.1 451.37,1152.8 452.72,1153.49 454.07,1154.18 455.43,1154.86 456.79,1155.52 458.16,1156.19 459.53,1156.84 460.91,1157.48 462.29,1158.12 463.67,1158.75 465.06,1159.37 466.45,1159.98 467.85,1160.59 469.25,1161.18 470.65,1161.77 472.06,1162.35 473.47,1162.92 474.88,1163.49 476.3,1164.05 477.72,1164.59 479.14,1165.14 480.56,1165.67 481.99,1166.19 483.42,1166.71 484.85,1167.22 486.29,1167.72 487.72,1168.22 489.16,1168.71 490.6,1169.19 492.04,1169.66 493.48,1170.12 494.93,1170.58 496.38,1171.03 497.82,1171.47 499.27,1171.9 500.72,1172.33 502.17,1172.74 503.62,1173.16 505.08,1173.56 506.53,1173.96 507.98,1174.34 509.44,1174.73 510.9,1175.1 512.35,1175.47 513.81,1175.83 515.27,1176.19 516.73,1176.53 518.19,1176.87 519.65,1177.21 521.12,1177.54 522.58,1177.86 524.04,1178.17 525.51,1178.48 526.97,1178.79 528.44,1179.08 529.91,1179.37 531.38,1179.66 532.85,1179.94 534.31,1180.21 535.79,1180.48 537.26,1180.74 538.73,1181 540.2,1181.25 541.68,1181.49 543.15,1181.73 544.62,1181.97 546.1,1182.2 547.58,1182.42 549.05,1182.64 550.53,1182.86 552.01,1183.07 553.49,1183.28 554.97,1183.48 556.45,1183.67 557.93,1183.86 559.41,1184.05 560.9,1184.23 562.38,1184.41 563.86,1184.59 565.35,1184.76 566.83,1184.92 568.32,1185.09 569.8,1185.24 571.29,1185.4 572.78,1185.55 574.27,1185.7 575.75,1185.84 577.24,1185.98 578.73,1186.12 580.22,1186.25 581.71,1186.38 583.21,1186.51 584.7,1186.63 586.19,1186.75 587.68,1186.87 589.17,1186.99 590.67,1187.1 592.16,1187.21 593.66,1187.31 595.15,1187.42 596.65,1187.52 598.14,1187.62 599.64,1187.72 601.14,1187.81 602.63,1187.91 604.13,1188 605.63,1188.08 607.13,1188.17 608.62,1188.26 610.12,1188.34 611.62,1188.42 613.12,1188.5 614.62,1188.58 616.12,1188.66 617.62,1188.73 619.13,1188.81 620.63,1188.88 622.13,1188.95 623.63,1189.02 625.13,1189.09 626.63,1189.16 628.14,1189.23 629.64,1189.3 631.14,1189.36 632.65,1189.43 634.15,1189.49 635.66,1189.56 637.16,1189.62 638.66,1189.69 640.17,1189.75 641.67,1189.82 643.18,1189.88 644.68,1189.95 646.19,1190.01 647.69,1190.08 649.2,1190.14 650.71,1190.21 652.21,1190.27 653.72,1190.34 655.23,1190.4 656.73,1190.47 658.24,1190.54 659.74,1190.61 661.25,1190.68 662.76,1190.75 664.26,1190.82 665.77,1190.89 667.28,1190.97 668.79,1191.04 670.29,1191.12 671.8,1191.2" fill="none" stroke="#00a651" stroke-width="5.3" stroke-linejoin="round" stroke-linecap="butt"/>
<polyline points="163.2,1203.6 232.8,1203.6 233.18,1202.24 233.55,1200.86 233.91,1199.47 234.26,1198.07 234.6,1196.65 234.93,1195.23 235.25,1193.79 235.57,1192.34 235.88,1190.88 236.19,1189.41 236.49,1187.93 236.79,1186.45 237.08,1184.95 237.37,1183.45 237.65,1181.94 237.93,1180.42 238.22,1178.9 238.5,1177.38 238.78,1175.84 239.06,1174.31 239.34,1172.77 239.62,1171.22 239.9,1169.68 240.19,1168.13 240.48,1166.58 240.77,1165.03 241.07,1163.48 241.37,1161.93 241.68,1160.37 241.99,1158.82 242.31,1157.28 242.63,1155.73 242.97,1154.19 243.31,1152.64 243.66,1151.11 244.02,1149.57 244.39,1148.05 244.77,1146.52 245.16,1145.01 245.57,1143.49 245.98,1141.99 246.41,1140.49 246.85,1139 247.31,1137.52 247.78,1136.05 248.26,1134.59 248.77,1133.14 249.28,1131.7 249.82,1130.27 250.37,1128.85 250.94,1127.44 251.53,1126.05 252.14,1124.67 252.77,1123.3 253.42,1121.95 254.09,1120.61 254.78,1119.29 255.49,1117.98 256.23,1116.7 256.99,1115.42 257.77,1114.17 258.58,1112.93 259.42,1111.71 260.28,1110.51 261.16,1109.33 262.07,1108.17 263.01,1107.03 263.98,1105.92 264.98,1104.82 266,1103.75 267.06,1102.7 268.14,1101.67 269.26,1100.67 270.41,1099.69 271.59,1098.73 272.8,1097.8 274.05,1096.9 275.33,1096.03 276.64,1095.18 277.99,1094.36 279.38,1093.56 280.8,1092.8 280.89,1091.22 280.97,1089.64 281.05,1088.07 281.13,1086.51 281.2,1084.95 281.26,1083.39 281.32,1081.84 281.38,1080.29 281.43,1078.74 281.48,1077.2 281.53,1075.67 281.57,1074.13 281.61,1072.6 281.65,1071.08 281.68,1069.56 281.71,1068.04 281.74,1066.52 281.76,1065.01 281.79,1063.5 281.81,1061.99 281.83,1060.49 281.85,1058.99 281.86,1057.49 281.88,1055.99 281.89,1054.5 281.9,1053.01 281.91,1051.52 281.92,1050.03 281.93,1048.55 281.94,1047.07 281.95,1045.58 281.96,1044.1 281.97,1042.63 281.98,1041.15 281.99,1039.67 282,1038.2 282.01,1036.73 282.02,1035.26 282.03,1033.78 282.05,1032.31 282.06,1030.84 282.08,1029.38 282.1,1027.91 282.12,1026.44 282.14,1024.97 282.16,1023.5 282.19,1022.04 282.22,1020.57 282.25,1019.1 282.29,1017.63 282.32,1016.17 282.36,1014.7 282.41,1013.23 282.46,1011.76 282.51,1010.29 282.56,1008.81 282.62,1007.34 282.68,1005.87 282.75,1004.39 282.82,1002.92 282.9,1001.44 282.98,999.96 283.06,998.48 283.16,997 283.25,995.51 283.35,994.03 283.46,992.54 283.57,991.05 283.69,989.55 283.82,988.06 283.95,986.56 284.09,985.06 284.23,983.56 284.38,982.05 284.54,980.55 284.7,979.03 284.88,977.52 285.05,976 285.24,974.48 285.44,972.96 285.64,971.43 285.85,969.9 286.07,968.36 286.29,966.82 286.53,965.28 286.77,963.73 287.03,962.18 287.29,960.62 287.56,959.06 287.84,957.5 288.13,955.93 288.43,954.36 288.74,952.78 289.06,951.19 289.39,949.6 289.73,948.01 290.08,946.41 290.44,944.81 290.81,943.2 291.2,941.59 291.6,939.98 292.02,938.39 292.46,936.83 292.93,935.29 293.43,933.79 293.95,932.34 294.52,930.94 295.12,929.6 295.76,928.33 296.45,927.13 297.19,926.02 297.97,925.01 298.82,924.09 299.71,923.28 300.67,922.59 301.7,922.02 302.77,921.58 303.88,921.28 305.02,921.12 306.16,921.1 307.3,921.24 308.42,921.53 309.52,921.99 310.59,922.59 311.63,923.33 312.65,924.2 313.64,925.18 314.61,926.27 315.55,927.44 316.47,928.7 317.36,930.03 318.23,931.42 319.08,932.85 319.9,934.32 320.71,935.81 321.49,937.32 322.24,938.83 322.98,940.34 323.7,941.83 324.39,943.3 325.07,944.76 325.74,946.21 326.38,947.64 327.01,949.06 327.63,950.48 328.24,951.88 328.83,953.27 329.41,954.66 329.99,956.04 330.55,957.41 331.11,958.78 331.67,960.14 332.22,961.5 332.76,962.85 333.31,964.2 333.85,965.55 334.39,966.9 334.94,968.25 335.49,969.6 336.04,970.95 336.59,972.3 337.15,973.66 337.71,975.01 338.28,976.37 338.85,977.73 339.42,979.09 340,980.46 340.58,981.82 341.17,983.19 341.76,984.55 342.35,985.92 342.94,987.29 343.54,988.66 344.14,990.03 344.75,991.4 345.35,992.78 345.96,994.15 346.58,995.53 347.19,996.9 347.81,998.28 348.43,999.65 349.05,1001.03 349.68,1002.41 350.3,1003.78 350.93,1005.16 351.57,1006.54 352.2,1007.92 352.83,1009.29 353.47,1010.67 354.11,1012.05 354.75,1013.43 355.39,1014.8 356.04,1016.18 356.68,1017.56 357.33,1018.93 357.98,1020.31 358.63,1021.68 359.28,1023.05 359.93,1024.43 360.58,1025.8 361.23,1027.17 361.89,1028.54 362.54,1029.91 363.2,1031.28 363.85,1032.64 364.51,1034.01 365.16,1035.37 365.82,1036.73 366.48,1038.09 367.13,1039.45 367.79,1040.81 368.45,1042.17 369.1,1043.52 369.76,1044.87 370.42,1046.22 371.08,1047.57 371.74,1048.92 372.41,1050.26 373.07,1051.6 373.74,1052.94 374.41,1054.28 375.09,1055.62 375.77,1056.95 376.45,1058.28 377.13,1059.6 377.82,1060.93 378.52,1062.25 379.22,1063.57 379.92,1064.88 380.63,1066.19 381.34,1067.5 382.06,1068.81 382.79,1070.11 383.53,1071.41 384.27,1072.7 385.01,1074 385.77,1075.28 386.53,1076.57 387.3,1077.85 388.08,1079.13 388.87,1080.4 389.66,1081.67 390.47,1082.93 391.28,1084.19 392.1,1085.45 392.94,1086.7 393.78,1087.95 394.63,1089.19 395.5,1090.43 396.37,1091.66 397.25,1092.89 398.14,1094.12 399.04,1095.33 399.95,1096.55 400.87,1097.75 401.8,1098.96 402.73,1100.15 403.68,1101.34 404.63,1102.52 405.6,1103.7 406.57,1104.87 407.55,1106.04 408.54,1107.2 409.53,1108.35 410.54,1109.49 411.55,1110.63 412.57,1111.76 413.6,1112.88 414.64,1114 415.69,1115.11 416.74,1116.21 417.8,1117.3 418.87,1118.38 419.95,1119.46 421.03,1120.53 422.12,1121.59 423.22,1122.64 424.33,1123.68 425.44,1124.71 426.56,1125.74 427.69,1126.76 428.82,1127.76 429.97,1128.76 431.11,1129.75 432.27,1130.73 433.43,1131.69 434.6,1132.65 435.77,1133.6 436.95,1134.54 438.14,1135.47 439.34,1136.39 440.54,1137.29 441.74,1138.19 442.95,1139.08 444.17,1139.95 445.39,1140.82 446.62,1141.67 447.86,1142.51 449.1,1143.34 450.35,1144.16 451.6,1144.97 452.86,1145.77 454.12,1146.56 455.39,1147.33 456.66,1148.1 457.94,1148.85 459.22,1149.6 460.51,1150.33 461.81,1151.06 463.11,1151.77 464.41,1152.48 465.72,1153.17 467.03,1153.86 468.35,1154.53 469.68,1155.2 471.01,1155.85 472.34,1156.5 473.68,1157.14 475.02,1157.76 476.37,1158.38 477.72,1158.99 479.07,1159.59 480.43,1160.18 481.8,1160.76 483.16,1161.34 484.54,1161.9 485.91,1162.46 487.29,1163 488.68,1163.54 490.07,1164.07 491.46,1164.59 492.86,1165.1 494.26,1165.61 495.66,1166.1 497.07,1166.59 498.48,1167.07 499.89,1167.55 501.31,1168.01 502.73,1168.47 504.15,1168.92 505.58,1169.36 507.01,1169.79 508.45,1170.22 509.88,1170.64 511.33,1171.05 512.77,1171.46 514.21,1171.85 515.66,1172.24 517.12,1172.63 518.57,1173.01 520.03,1173.38 521.49,1173.74 522.95,1174.1 524.42,1174.45 525.89,1174.79 527.36,1175.13 528.83,1175.46 530.31,1175.79 531.78,1176.11 533.26,1176.42 534.74,1176.73 536.23,1177.03 537.72,1177.33 539.2,1177.62 540.69,1177.9 542.19,1178.18 543.68,1178.45 545.18,1178.72 546.67,1178.99 548.17,1179.24 549.67,1179.5 551.17,1179.74 552.68,1179.99 554.18,1180.23 555.69,1180.46 557.2,1180.69 558.71,1180.91 560.22,1181.13 561.73,1181.35 563.24,1181.56 564.76,1181.76 566.27,1181.96 567.79,1182.16 569.3,1182.36 570.82,1182.55 572.34,1182.73 573.86,1182.92 575.38,1183.09 576.9,1183.27 578.42,1183.44 579.94,1183.61 581.46,1183.77 582.98,1183.94 584.51,1184.09 586.03,1184.25 587.55,1184.4 589.07,1184.55 590.6,1184.7 592.12,1184.84 593.64,1184.98 595.17,1185.12 596.69,1185.25 598.21,1185.39 599.74,1185.52 601.26,1185.65 602.78,1185.77 604.3,1185.9 605.82,1186.02 607.34,1186.14 608.86,1186.26 610.38,1186.37 611.9,1186.49 613.42,1186.6 614.94,1186.71 616.45,1186.82 617.97,1186.93 619.48,1187.04 621,1187.15 622.51,1187.25 624.02,1187.36 625.53,1187.46 627.04,1187.56 628.55,1187.66 630.05,1187.76 631.56,1187.86 633.06,1187.96 634.56,1188.06 636.06,1188.16 637.56,1188.26 639.06,1188.35 640.55,1188.45 642.05,1188.55 643.54,1188.65 645.03,1188.74 646.51,1188.84 648,1188.94 649.48,1189.04 650.96,1189.14 652.44,1189.24 653.92,1189.34 655.39,1189.44 656.87,1189.54 658.34,1189.64 659.8,1189.75 661.27,1189.85 662.73,1189.96 664.19,1190.06 665.65,1190.17 667.1,1190.28 668.55,1190.39 670,1190.5" fill="none" stroke="#ed1c24" stroke-width="5.3" stroke-linejoin="round" stroke-linecap="butt"/>
<rect x="491.1" y="810.5" width="175.4" height="121.9" fill="#fff" stroke="#231f20" stroke-width="2.6"/>
<line x1="497.1" y1="827" x2="529.8" y2="827" stroke="#939598" stroke-width="5.2" stroke-linecap="butt"/>
<line x1="497.1" y1="856" x2="529.8" y2="856" stroke="#3953a4" stroke-width="5.2" stroke-linecap="butt"/>
<line x1="497.1" y1="885.9" x2="529.8" y2="885.9" stroke="#00a651" stroke-width="5.2" stroke-linecap="butt"/>
<line x1="497.1" y1="915.9" x2="529.8" y2="915.9" stroke="#ed1c24" stroke-width="5.2" stroke-linecap="butt"/>
<text transform="translate(540.51,835.3) scale(0.9869,1)" font-family='"Liberation Sans", sans-serif' font-size="21.8" font-weight="normal" fill="#231f20">baseline</text>
<text transform="translate(541.07,864.6) scale(0.9643,1)" font-family='"Liberation Sans", sans-serif' font-size="21.8" font-weight="normal" fill="#231f20">Δt = -10 ms</text>
<text transform="translate(539.67,893.8) scale(0.9642,1)" font-family='"Liberation Sans", sans-serif' font-size="21.8" font-weight="normal" fill="#231f20">Δt = 0 ms</text>
<text transform="translate(541.07,920.6) scale(0.9682,1)" font-family='"Liberation Sans", sans-serif' font-size="21.8" font-weight="normal" fill="#231f20">Δt = 30 ms</text>
<rect x="670.8" y="805.3" width="2.9" height="4.2" fill="#231f20"/>
<line x1="897.5" y1="757" x2="897.5" y2="1217.6" stroke="#231f20" stroke-width="2.2" stroke-linecap="butt"/>
<line x1="896.5" y1="1216.4" x2="1421.3" y2="1216.4" stroke="#231f20" stroke-width="2.6" stroke-linecap="butt"/>
<line x1="897.5" y1="822.5" x2="902.7" y2="822.5" stroke="#231f20" stroke-width="2.3" stroke-linecap="butt"/>
<line x1="897.5" y1="932" x2="902.7" y2="932" stroke="#231f20" stroke-width="2.3" stroke-linecap="butt"/>
<line x1="897.5" y1="1041.6" x2="902.7" y2="1041.6" stroke="#231f20" stroke-width="2.3" stroke-linecap="butt"/>
<line x1="897.5" y1="1151.25" x2="902.7" y2="1151.25" stroke="#231f20" stroke-width="2.3" stroke-linecap="butt"/>
<line x1="984.5" y1="1216.4" x2="984.5" y2="1210.9" stroke="#231f20" stroke-width="2.3" stroke-linecap="butt"/>
<line x1="1072" y1="1216.4" x2="1072" y2="1210.9" stroke="#231f20" stroke-width="2.3" stroke-linecap="butt"/>
<line x1="1158.8" y1="1216.4" x2="1158.8" y2="1210.9" stroke="#231f20" stroke-width="2.3" stroke-linecap="butt"/>
<line x1="1245.9" y1="1216.4" x2="1245.9" y2="1210.9" stroke="#231f20" stroke-width="2.3" stroke-linecap="butt"/>
<line x1="1333.3" y1="1216.4" x2="1333.3" y2="1210.9" stroke="#231f20" stroke-width="2.3" stroke-linecap="butt"/>
<line x1="1420.4" y1="1216.4" x2="1420.4" y2="1210.9" stroke="#231f20" stroke-width="2.3" stroke-linecap="butt"/>
<text transform="translate(810.71,832.6) scale(0.9481,1)" font-family='"Liberation Sans", sans-serif' font-size="37.5" font-weight="normal" fill="#231f20">2.0</text>
<text transform="translate(810.6,941.6) scale(0.9277,1)" font-family='"Liberation Sans", sans-serif' font-size="37.5" font-weight="normal" fill="#231f20">1.5</text>
<text transform="translate(810.58,1050.85) scale(0.9360,1)" font-family='"Liberation Sans", sans-serif' font-size="37.5" font-weight="normal" fill="#231f20">1.0</text>
<text transform="translate(810.64,1159.6) scale(0.9269,1)" font-family='"Liberation Sans", sans-serif' font-size="37.5" font-weight="normal" fill="#231f20">0.5</text>
<text transform="translate(957.12,1256.4) scale(0.9812,1)" font-family='"Liberation Sans", sans-serif' font-size="37.5" font-weight="normal" fill="#231f20">-25</text>
<text transform="translate(1065.64,1256.4) scale(0.9985,1)" font-family='"Liberation Sans", sans-serif' font-size="37.5" font-weight="normal" fill="#231f20">0</text>
<text transform="translate(1145.58,1256.4) scale(0.9647,1)" font-family='"Liberation Sans", sans-serif' font-size="37.5" font-weight="normal" fill="#231f20">25</text>
<text transform="translate(1233.02,1256.4) scale(0.9885,1)" font-family='"Liberation Sans", sans-serif' font-size="37.5" font-weight="normal" fill="#231f20">50</text>
<text transform="translate(1322.16,1256.4) scale(0.9054,1)" font-family='"Liberation Sans", sans-serif' font-size="37.5" font-weight="normal" fill="#231f20">75</text>
<text transform="translate(1402.02,1256.4) scale(0.9735,1)" font-family='"Liberation Sans", sans-serif' font-size="37.5" font-weight="normal" fill="#231f20">100</text>
<text transform="translate(1094.41,1303.2) scale(0.9607,1)" font-family='"Liberation Sans", sans-serif' font-size="38" font-weight="normal" fill="#231f20">Δt (ms)</text>
<text transform="translate(788.75,1027.08) rotate(-90) scale(0.9299,1)" font-family='"Liberation Sans", sans-serif' font-size="39" font-weight="normal" fill="#231f20">ΔW</text>
<polyline points="897.65,1042.5 915.09,1043.75 932.52,1047.5 949.96,1062 967.39,1092.5 984.83,1127.5 1002.26,1155 1019.7,1176.25 1037.13,1191.25 1054.57,1049.7 1072,782.8 1089.43,820.9 1106.87,879 1124.31,968.6 1141.74,1097.3 1159.17,1178.8 1176.61,1185.9 1194.05,1177.4 1211.48,1164.6 1228.91,1147 1246.35,1127.7 1263.79,1102.2 1281.22,1070.9 1298.65,1050.5 1316.09,1044 1333.53,1042 1350.96,1041.7 1420.7,1041.7" fill="none" stroke="#3953a4" stroke-width="5.2" stroke-linejoin="round" stroke-linecap="butt"/>
<line x1="1072" y1="757" x2="1072" y2="1216.4" stroke="#8f9194" stroke-width="2" stroke-linecap="butt"/>
<line x1="897.5" y1="1035.8" x2="1420.4" y2="1035.8" stroke="#8f9194" stroke-width="2" stroke-linecap="butt"/>
<text transform="translate(14.68,1365.5) scale(1.0062,1)" font-family='"Liberation Sans", sans-serif' font-size="38" font-weight="bold" fill="#231f20">C</text>
<rect x="149.6" y="1491" width="508.4" height="114.2" fill="url(#gv)"/>
<line x1="149.6" y1="1410.5" x2="149.6" y2="1810.3" stroke="#231f20" stroke-width="2.2" stroke-linecap="butt"/>
<line x1="148.6" y1="1809.3" x2="658.3" y2="1809.3" stroke="#231f20" stroke-width="2.6" stroke-linecap="butt"/>
<line x1="149.6" y1="1467.2" x2="154.8" y2="1467.2" stroke="#231f20" stroke-width="2.3" stroke-linecap="butt"/>
<line x1="149.6" y1="1524.3" x2="154.8" y2="1524.3" stroke="#231f20" stroke-width="2.3" stroke-linecap="butt"/>
<line x1="149.6" y1="1581.6" x2="154.8" y2="1581.6" stroke="#231f20" stroke-width="2.3" stroke-linecap="butt"/>
<line x1="149.6" y1="1638.4" x2="154.8" y2="1638.4" stroke="#231f20" stroke-width="2.3" stroke-linecap="butt"/>
<line x1="149.6" y1="1695.5" x2="154.8" y2="1695.5" stroke="#231f20" stroke-width="2.3" stroke-linecap="butt"/>
<line x1="149.6" y1="1752.8" x2="154.8" y2="1752.8" stroke="#231f20" stroke-width="2.3" stroke-linecap="butt"/>
<line x1="223" y1="1809.3" x2="223" y2="1803.8" stroke="#231f20" stroke-width="2.3" stroke-linecap="butt"/>
<line x1="368" y1="1809.3" x2="368" y2="1803.8" stroke="#231f20" stroke-width="2.3" stroke-linecap="butt"/>
<line x1="512.9" y1="1809.3" x2="512.9" y2="1803.8" stroke="#231f20" stroke-width="2.3" stroke-linecap="butt"/>
<line x1="658" y1="1809.3" x2="658" y2="1803.8" stroke="#231f20" stroke-width="2.3" stroke-linecap="butt"/>
<text transform="translate(80.19,1474) scale(0.9629,1)" font-family='"Liberation Sans", sans-serif' font-size="37.5" font-weight="normal" fill="#231f20">0.6</text>
<text transform="translate(80.23,1531.6) scale(0.9350,1)" font-family='"Liberation Sans", sans-serif' font-size="37.5" font-weight="normal" fill="#231f20">0.5</text>
<text transform="translate(80.2,1588.4) scale(0.9583,1)" font-family='"Liberation Sans", sans-serif' font-size="37.5" font-weight="normal" fill="#231f20">0.4</text>
<text transform="translate(80.23,1645.2) scale(0.9364,1)" font-family='"Liberation Sans", sans-serif' font-size="37.5" font-weight="normal" fill="#231f20">0.3</text>
<text transform="translate(80.2,1702.8) scale(0.9574,1)" font-family='"Liberation Sans", sans-serif' font-size="37.5" font-weight="normal" fill="#231f20">0.2</text>
<text transform="translate(80.29,1759.6) scale(0.8928,1)" font-family='"Liberation Sans", sans-serif' font-size="37.5" font-weight="normal" fill="#231f20">0.1</text>
<text transform="translate(99.3,1817.2) scale(1.0264,1)" font-family='"Liberation Sans", sans-serif' font-size="37.5" font-weight="normal" fill="#231f20">0</text>
<text transform="translate(209.6,1842.2) scale(1.0209,1)" font-family='"Liberation Sans", sans-serif' font-size="37.5" font-weight="normal" fill="#231f20">0</text>
<text transform="translate(325.13,1842.2) scale(0.9700,1)" font-family='"Liberation Sans", sans-serif' font-size="37.5" font-weight="normal" fill="#231f20">100</text>
<text transform="translate(468.31,1842.2) scale(1.0031,1)" font-family='"Liberation Sans", sans-serif' font-size="37.5" font-weight="normal" fill="#231f20">200</text>
<text transform="translate(299.68,1884) scale(0.9568,1)" font-family='"Liberation Sans", sans-serif' font-size="38" font-weight="normal" fill="#231f20">Time (ms)</text>
<text transform="translate(52.8,1717.55) rotate(-90) scale(0.8099,1)" font-family='"Liberation Sans", sans-serif' font-size="39" font-weight="normal" fill="#231f20">[Ca</text>
<text transform="translate(35,1665.2) rotate(-90) scale(1.0719,1)" font-family='"Liberation Sans", sans-serif' font-size="26" font-weight="normal" fill="#231f20">2+</text>
<text transform="translate(52.8,1632.77) rotate(-90) scale(0.8748,1)" font-family='"Liberation Sans", sans-serif' font-size="39" font-weight="normal" fill="#231f20">] (a.u.)</text>
<polyline points="149.6,1808.8 219.2,1808.8 219.5,1807.5 219.8,1806.18 220.1,1804.84 220.4,1803.48 220.69,1802.09 220.99,1800.69 221.29,1799.27 221.58,1797.83 221.89,1796.38 222.19,1794.92 222.51,1793.44 222.82,1791.94 223.15,1790.44 223.48,1788.93 223.82,1787.41 224.17,1785.88 224.53,1784.35 224.91,1782.81 225.29,1781.27 225.69,1779.72 226.1,1778.18 226.53,1776.63 226.97,1775.09 227.43,1773.54 227.91,1772 228.4,1770.47 228.92,1768.94 229.46,1767.42 230.01,1765.9 230.59,1764.39 231.2,1762.9 231.82,1761.41 232.48,1759.94 233.15,1758.48 233.85,1757.04 234.57,1755.61 235.32,1754.21 236.09,1752.82 236.88,1751.45 237.7,1750.1 238.54,1748.78 239.4,1747.48 240.28,1746.2 241.18,1744.96 242.1,1743.74 243.05,1742.55 244.01,1741.39 245,1740.26 246.01,1739.17 247.03,1738.11 248.08,1737.09 249.14,1736.1 250.23,1735.16 251.33,1734.25 252.45,1733.39 253.59,1732.57 254.74,1731.79 255.92,1731.05 257.11,1730.37 258.32,1729.73 259.55,1729.14 260.79,1728.6 262.05,1728.11 263.32,1727.68 264.61,1727.3 265.92,1726.97 267.24,1726.7 268.57,1726.49 269.92,1726.33 271.28,1726.22 272.66,1726.16 274.04,1726.15 275.44,1726.18 276.84,1726.26 278.26,1726.38 279.68,1726.54 281.11,1726.74 282.55,1726.97 284,1727.24 285.45,1727.54 286.9,1727.87 288.36,1728.23 289.82,1728.62 291.29,1729.04 292.76,1729.47 294.23,1729.93 295.69,1730.41 297.16,1730.9 298.63,1731.41 300.1,1731.94 301.56,1732.47 303.02,1733.02 304.47,1733.58 305.93,1734.14 307.37,1734.71 308.81,1735.28 310.25,1735.86 311.69,1736.44 313.12,1737.03 314.54,1737.63 315.96,1738.22 317.38,1738.83 318.8,1739.43 320.21,1740.04 321.62,1740.65 323.02,1741.27 324.43,1741.89 325.83,1742.51 327.23,1743.13 328.62,1743.75 330.02,1744.38 331.41,1745 332.8,1745.63 334.19,1746.26 335.58,1746.89 336.96,1747.52 338.35,1748.14 339.73,1748.77 341.11,1749.4 342.5,1750.02 343.88,1750.65 345.26,1751.27 346.64,1751.89 348.02,1752.5 349.4,1753.12 350.79,1753.73 352.17,1754.34 353.55,1754.94 354.94,1755.55 356.32,1756.14 357.71,1756.74 359.09,1757.32 360.48,1757.91 361.87,1758.49 363.26,1759.06 364.66,1759.63 366.05,1760.19 367.45,1760.74 368.85,1761.29 370.25,1761.84 371.65,1762.38 373.06,1762.91 374.46,1763.44 375.87,1763.97 377.28,1764.48 378.69,1765 380.1,1765.51 381.52,1766.01 382.93,1766.51 384.35,1767 385.77,1767.48 387.19,1767.97 388.61,1768.44 390.04,1768.92 391.46,1769.38 392.89,1769.84 394.32,1770.3 395.74,1770.75 397.18,1771.2 398.61,1771.64 400.04,1772.08 401.48,1772.51 402.91,1772.94 404.35,1773.36 405.79,1773.78 407.23,1774.2 408.68,1774.6 410.12,1775.01 411.56,1775.41 413.01,1775.8 414.46,1776.2 415.91,1776.58 417.36,1776.96 418.81,1777.34 420.26,1777.71 421.72,1778.08 423.17,1778.45 424.63,1778.81 426.09,1779.16 427.55,1779.51 429.01,1779.86 430.47,1780.2 431.93,1780.54 433.39,1780.88 434.86,1781.21 436.33,1781.53 437.79,1781.86 439.26,1782.18 440.73,1782.49 442.2,1782.8 443.67,1783.11 445.14,1783.41 446.62,1783.71 448.09,1784 449.57,1784.3 451.04,1784.58 452.52,1784.87 454,1785.15 455.48,1785.42 456.96,1785.7 458.44,1785.96 459.92,1786.23 461.41,1786.49 462.89,1786.75 464.37,1787 465.86,1787.26 467.35,1787.5 468.83,1787.75 470.32,1787.99 471.81,1788.23 473.3,1788.46 474.79,1788.69 476.28,1788.92 477.77,1789.14 479.27,1789.37 480.76,1789.58 482.25,1789.8 483.75,1790.01 485.24,1790.22 486.74,1790.43 488.24,1790.63 489.73,1790.83 491.23,1791.03 492.73,1791.22 494.23,1791.41 495.73,1791.6 497.23,1791.78 498.73,1791.97 500.23,1792.15 501.73,1792.32 503.24,1792.5 504.74,1792.67 506.24,1792.84 507.75,1793 509.25,1793.17 510.76,1793.33 512.26,1793.49 513.77,1793.64 515.27,1793.8 516.78,1793.95 518.29,1794.1 519.8,1794.24 521.3,1794.39 522.81,1794.53 524.32,1794.67 525.83,1794.81 527.34,1794.94 528.85,1795.07 530.36,1795.2 531.87,1795.33 533.38,1795.46 534.89,1795.58 536.4,1795.7 537.91,1795.82 539.42,1795.94 540.93,1796.06 542.44,1796.17 543.95,1796.28 545.47,1796.39 546.98,1796.5 548.49,1796.61 550,1796.71 551.51,1796.82 553.03,1796.92 554.54,1797.02 556.05,1797.12 557.56,1797.21 559.08,1797.31 560.59,1797.4 562.1,1797.49 563.61,1797.58 565.13,1797.67 566.64,1797.76 568.15,1797.84 569.66,1797.93 571.18,1798.01 572.69,1798.09 574.2,1798.17 575.71,1798.25 577.22,1798.33 578.74,1798.4 580.25,1798.48 581.76,1798.55 583.27,1798.63 584.78,1798.7 586.29,1798.77 587.8,1798.84 589.31,1798.91 590.82,1798.98 592.33,1799.04 593.84,1799.11 595.35,1799.17 596.86,1799.24 598.37,1799.3 599.88,1799.36 601.38,1799.42 602.89,1799.49 604.4,1799.55 605.91,1799.61 607.41,1799.66 608.92,1799.72 610.42,1799.78 611.93,1799.84 613.43,1799.9 614.94,1799.95 616.44,1800.01 617.95,1800.06 619.45,1800.12 620.95,1800.17 622.45,1800.23 623.95,1800.28 625.45,1800.33 626.95,1800.39 628.45,1800.44 629.95,1800.49 631.45,1800.55 632.95,1800.6 634.44,1800.65 635.94,1800.7 637.44,1800.76 638.93,1800.81 640.43,1800.86 641.92,1800.91 643.41,1800.97 644.9,1801.02 646.4,1801.07 647.89,1801.12 649.38,1801.18 650.87,1801.23 652.35,1801.28 653.84,1801.34 655.33,1801.39 656.81,1801.45 658.3,1801.5" fill="none" stroke="#939598" stroke-width="5.3" stroke-linejoin="round" stroke-linecap="butt"/>
<polyline points="149.6,1808.8 219.2,1808.8 219.37,1807.23 219.53,1805.66 219.69,1804.1 219.85,1802.55 220.02,1800.99 220.17,1799.44 220.33,1797.9 220.49,1796.36 220.65,1794.82 220.8,1793.28 220.96,1791.75 221.11,1790.23 221.27,1788.7 221.42,1787.18 221.57,1785.66 221.72,1784.15 221.87,1782.64 222.02,1781.13 222.17,1779.62 222.32,1778.12 222.47,1776.62 222.62,1775.12 222.77,1773.62 222.91,1772.13 223.06,1770.64 223.21,1769.15 223.35,1767.67 223.5,1766.18 223.65,1764.7 223.79,1763.22 223.94,1761.74 224.09,1760.26 224.23,1758.79 224.38,1757.31 224.53,1755.84 224.67,1754.37 224.82,1752.9 224.97,1751.43 225.11,1749.96 225.26,1748.49 225.41,1747.03 225.56,1745.56 225.71,1744.1 225.86,1742.63 226.01,1741.17 226.16,1739.71 226.31,1738.25 226.46,1736.78 226.61,1735.32 226.77,1733.86 226.92,1732.4 227.07,1730.94 227.23,1729.48 227.39,1728.01 227.54,1726.55 227.7,1725.09 227.86,1723.63 228.02,1722.16 228.18,1720.7 228.35,1719.23 228.51,1717.77 228.67,1716.3 228.84,1714.83 229.01,1713.36 229.18,1711.9 229.35,1710.42 229.52,1708.95 229.69,1707.48 229.87,1706 230.04,1704.53 230.22,1703.05 230.4,1701.57 230.58,1700.08 230.76,1698.6 230.95,1697.11 231.13,1695.63 231.32,1694.14 231.51,1692.64 231.7,1691.15 231.9,1689.65 232.09,1688.15 232.29,1686.65 232.49,1685.14 232.69,1683.64 232.9,1682.12 233.1,1680.61 233.31,1679.09 233.52,1677.57 233.74,1676.05 233.95,1674.52 234.17,1672.99 234.39,1671.46 234.61,1669.92 234.84,1668.38 235.06,1666.84 235.29,1665.29 235.53,1663.74 235.76,1662.18 236,1660.62 236.24,1659.06 236.49,1657.49 236.73,1655.92 236.99,1654.34 237.25,1652.77 237.51,1651.19 237.79,1649.62 238.08,1648.06 238.38,1646.5 238.7,1644.95 239.04,1643.4 239.39,1641.87 239.76,1640.35 240.16,1638.85 240.58,1637.36 241.02,1635.89 241.49,1634.44 241.99,1633.01 242.52,1631.6 243.08,1630.22 243.67,1628.86 244.3,1627.53 244.97,1626.23 245.67,1624.96 246.41,1623.72 247.2,1622.52 248.02,1621.35 248.9,1620.22 249.82,1619.12 250.78,1618.07 251.8,1617.06 252.87,1616.11 253.98,1615.22 255.13,1614.43 256.31,1613.73 257.52,1613.17 258.77,1612.74 260.03,1612.47 261.31,1612.38 262.6,1612.46 263.9,1612.69 265.2,1613.05 266.49,1613.53 267.77,1614.11 269.03,1614.75 270.27,1615.46 271.48,1616.22 272.67,1617.02 273.83,1617.88 274.97,1618.77 276.09,1619.71 277.18,1620.68 278.25,1621.69 279.3,1622.74 280.34,1623.82 281.35,1624.93 282.35,1626.07 283.33,1627.24 284.29,1628.43 285.24,1629.65 286.18,1630.88 287.1,1632.14 288.01,1633.41 288.9,1634.69 289.79,1635.99 290.67,1637.29 291.53,1638.61 292.39,1639.93 293.24,1641.25 294.09,1642.58 294.92,1643.91 295.76,1645.23 296.58,1646.56 297.4,1647.89 298.22,1649.23 299.03,1650.56 299.84,1651.89 300.64,1653.22 301.44,1654.56 302.23,1655.89 303.03,1657.22 303.82,1658.55 304.6,1659.88 305.39,1661.21 306.17,1662.54 306.96,1663.87 307.74,1665.19 308.52,1666.52 309.3,1667.84 310.08,1669.16 310.86,1670.47 311.64,1671.79 312.42,1673.1 313.2,1674.41 313.99,1675.71 314.77,1677.01 315.56,1678.31 316.35,1679.61 317.15,1680.9 317.94,1682.18 318.74,1683.47 319.55,1684.74 320.36,1686.02 321.17,1687.28 321.99,1688.55 322.81,1689.8 323.64,1691.05 324.47,1692.3 325.31,1693.54 326.16,1694.77 327.01,1696 327.88,1697.22 328.74,1698.44 329.62,1699.64 330.5,1700.84 331.4,1702.04 332.3,1703.22 333.21,1704.4 334.13,1705.57 335.06,1706.73 336,1707.88 336.95,1709.03 337.9,1710.17 338.87,1711.3 339.84,1712.42 340.82,1713.54 341.81,1714.64 342.81,1715.74 343.82,1716.83 344.84,1717.92 345.86,1718.99 346.9,1720.06 347.94,1721.12 348.99,1722.18 350.04,1723.22 351.11,1724.26 352.18,1725.29 353.26,1726.31 354.35,1727.32 355.45,1728.33 356.55,1729.33 357.66,1730.32 358.78,1731.3 359.9,1732.27 361.04,1733.24 362.18,1734.2 363.32,1735.15 364.48,1736.1 365.64,1737.03 366.81,1737.96 367.98,1738.88 369.16,1739.79 370.35,1740.7 371.54,1741.6 372.74,1742.49 373.95,1743.37 375.16,1744.24 376.38,1745.11 377.61,1745.97 378.84,1746.82 380.08,1747.66 381.32,1748.5 382.57,1749.32 383.82,1750.14 385.08,1750.95 386.35,1751.76 387.62,1752.56 388.9,1753.34 390.18,1754.13 391.47,1754.9 392.76,1755.67 394.06,1756.42 395.36,1757.17 396.67,1757.92 397.98,1758.65 399.3,1759.38 400.62,1760.1 401.94,1760.81 403.28,1761.51 404.61,1762.21 405.95,1762.9 407.3,1763.58 408.64,1764.25 410,1764.92 411.35,1765.58 412.71,1766.23 414.08,1766.87 415.45,1767.5 416.82,1768.13 418.19,1768.75 419.57,1769.36 420.96,1769.97 422.34,1770.56 423.73,1771.15 425.13,1771.73 426.52,1772.3 427.92,1772.87 429.33,1773.43 430.73,1773.98 432.14,1774.52 433.55,1775.06 434.97,1775.58 436.38,1776.1 437.8,1776.61 439.22,1777.12 440.65,1777.62 442.07,1778.1 443.5,1778.59 444.93,1779.06 446.37,1779.53 447.8,1779.98 449.24,1780.43 450.68,1780.88 452.12,1781.31 453.56,1781.74 455.01,1782.16 456.45,1782.57 457.9,1782.98 459.35,1783.38 460.8,1783.77 462.25,1784.15 463.71,1784.53 465.16,1784.89 466.62,1785.26 468.08,1785.61 469.54,1785.96 471,1786.3 472.47,1786.64 473.93,1786.96 475.4,1787.29 476.86,1787.6 478.33,1787.91 479.8,1788.21 481.27,1788.51 482.75,1788.8 484.22,1789.08 485.7,1789.36 487.17,1789.63 488.65,1789.9 490.13,1790.16 491.61,1790.42 493.09,1790.67 494.57,1790.91 496.06,1791.15 497.54,1791.38 499.03,1791.61 500.51,1791.83 502,1792.05 503.49,1792.26 504.98,1792.47 506.47,1792.67 507.96,1792.87 509.45,1793.06 510.95,1793.25 512.44,1793.43 513.94,1793.61 515.43,1793.79 516.93,1793.96 518.43,1794.12 519.93,1794.28 521.42,1794.44 522.92,1794.59 524.43,1794.74 525.93,1794.89 527.43,1795.03 528.93,1795.17 530.43,1795.3 531.94,1795.43 533.44,1795.56 534.95,1795.68 536.45,1795.8 537.96,1795.92 539.47,1796.03 540.97,1796.14 542.48,1796.25 543.99,1796.35 545.5,1796.46 547.01,1796.55 548.51,1796.65 550.02,1796.74 551.53,1796.83 553.04,1796.92 554.55,1797.01 556.07,1797.09 557.58,1797.17 559.09,1797.25 560.6,1797.32 562.11,1797.4 563.62,1797.47 565.13,1797.54 566.65,1797.61 568.16,1797.68 569.67,1797.74 571.18,1797.8 572.7,1797.87 574.21,1797.93 575.72,1797.98 577.23,1798.04 578.75,1798.1 580.26,1798.15 581.77,1798.21 583.28,1798.26 584.79,1798.31 586.31,1798.36 587.82,1798.41 589.33,1798.46 590.84,1798.51 592.35,1798.56 593.86,1798.61 595.37,1798.66 596.88,1798.7 598.39,1798.75 599.9,1798.8 601.41,1798.84 602.92,1798.89 604.43,1798.94 605.94,1798.98 607.45,1799.03 608.95,1799.08 610.46,1799.13 611.97,1799.17 613.47,1799.22 614.98,1799.27 616.48,1799.32 617.99,1799.37 619.49,1799.42 620.99,1799.48 622.49,1799.53 624,1799.58 625.5,1799.64 627,1799.7 628.5,1799.75 630,1799.81 631.49,1799.87 632.99,1799.94 634.49,1800 635.98,1800.07 637.48,1800.13 638.97,1800.2 640.46,1800.27 641.95,1800.35 643.45,1800.42 644.94,1800.5 646.42,1800.58 647.91,1800.66 649.4,1800.74 650.89,1800.83 652.37,1800.92 653.85,1801.01 655.34,1801.1 656.82,1801.2 658.3,1801.3" fill="none" stroke="#3953a4" stroke-width="5.3" stroke-linejoin="round" stroke-linecap="butt"/>
<polyline points="149.6,1808.8 219.2,1808.8 219.38,1807.28 219.56,1805.77 219.73,1804.25 219.9,1802.74 220.07,1801.22 220.24,1799.71 220.4,1798.2 220.57,1796.69 220.73,1795.18 220.88,1793.67 221.04,1792.16 221.19,1790.65 221.34,1789.14 221.49,1787.64 221.64,1786.13 221.78,1784.63 221.92,1783.12 222.06,1781.62 222.2,1780.11 222.34,1778.61 222.47,1777.11 222.6,1775.61 222.73,1774.11 222.86,1772.61 222.99,1771.1 223.11,1769.61 223.24,1768.11 223.36,1766.61 223.48,1765.11 223.6,1763.61 223.71,1762.11 223.83,1760.62 223.94,1759.12 224.05,1757.63 224.16,1756.13 224.27,1754.64 224.37,1753.14 224.48,1751.65 224.58,1750.15 224.68,1748.66 224.78,1747.16 224.88,1745.67 224.98,1744.18 225.08,1742.68 225.17,1741.19 225.26,1739.7 225.36,1738.21 225.45,1736.71 225.54,1735.22 225.63,1733.73 225.72,1732.24 225.8,1730.75 225.89,1729.26 225.97,1727.76 226.06,1726.27 226.14,1724.78 226.22,1723.29 226.3,1721.8 226.38,1720.31 226.46,1718.82 226.54,1717.32 226.62,1715.83 226.69,1714.34 226.77,1712.85 226.85,1711.36 226.92,1709.87 226.99,1708.37 227.07,1706.88 227.14,1705.39 227.21,1703.9 227.28,1702.4 227.35,1700.91 227.43,1699.42 227.5,1697.93 227.56,1696.43 227.63,1694.94 227.7,1693.44 227.77,1691.95 227.84,1690.46 227.91,1688.96 227.98,1687.46 228.04,1685.97 228.11,1684.47 228.18,1682.98 228.24,1681.48 228.31,1679.98 228.38,1678.48 228.44,1676.99 228.51,1675.49 228.58,1673.99 228.64,1672.49 228.71,1670.99 228.78,1669.49 228.84,1667.99 228.91,1666.48 228.98,1664.98 229.05,1663.48 229.11,1661.98 229.18,1660.47 229.25,1658.97 229.32,1657.46 229.39,1655.96 229.46,1654.45 229.52,1652.94 229.59,1651.43 229.67,1649.92 229.74,1648.41 229.81,1646.9 229.88,1645.39 229.95,1643.88 230.03,1642.37 230.1,1640.85 230.17,1639.34 230.25,1637.82 230.33,1636.31 230.4,1634.79 230.48,1633.27 230.56,1631.75 230.64,1630.23 230.72,1628.71 230.8,1627.19 230.88,1625.67 230.96,1624.14 231.05,1622.62 231.13,1621.09 231.22,1619.56 231.3,1618.04 231.39,1616.51 231.48,1614.98 231.57,1613.44 231.66,1611.91 231.75,1610.38 231.85,1608.84 231.94,1607.31 232.04,1605.77 232.15,1604.24 232.25,1602.7 232.37,1601.17 232.49,1599.63 232.61,1598.1 232.75,1596.57 232.89,1595.04 233.05,1593.51 233.21,1591.98 233.38,1590.46 233.57,1588.94 233.77,1587.43 233.98,1585.91 234.21,1584.41 234.45,1582.9 234.71,1581.4 234.98,1579.91 235.27,1578.42 235.58,1576.94 235.91,1575.46 236.26,1573.99 236.63,1572.52 237.02,1571.07 237.43,1569.62 237.87,1568.17 238.33,1566.74 238.81,1565.31 239.32,1563.89 239.85,1562.48 240.42,1561.08 241.01,1559.69 241.63,1558.31 242.27,1556.94 242.95,1555.58 243.66,1554.24 244.4,1552.93 245.17,1551.67 245.96,1550.47 246.79,1549.34 247.64,1548.29 248.52,1547.33 249.43,1546.48 250.37,1545.75 251.33,1545.15 252.32,1544.7 253.34,1544.4 254.38,1544.26 255.45,1544.31 256.54,1544.52 257.64,1544.9 258.74,1545.43 259.84,1546.1 260.93,1546.9 262.01,1547.82 263.07,1548.86 264.1,1550 265.12,1551.23 266.11,1552.53 267.08,1553.89 268.04,1555.3 268.97,1556.74 269.88,1558.21 270.77,1559.68 271.65,1561.15 272.5,1562.61 273.33,1564.06 274.15,1565.5 274.95,1566.93 275.73,1568.35 276.49,1569.77 277.24,1571.18 277.98,1572.58 278.7,1573.97 279.41,1575.36 280.1,1576.74 280.79,1578.12 281.46,1579.49 282.12,1580.86 282.77,1582.22 283.41,1583.58 284.05,1584.94 284.67,1586.29 285.29,1587.64 285.9,1588.99 286.5,1590.34 287.1,1591.69 287.7,1593.04 288.29,1594.38 288.88,1595.73 289.46,1597.08 290.05,1598.43 290.63,1599.78 291.21,1601.13 291.79,1602.49 292.37,1603.85 292.95,1605.2 293.53,1606.56 294.11,1607.92 294.69,1609.29 295.28,1610.65 295.86,1612.01 296.44,1613.38 297.02,1614.75 297.61,1616.11 298.19,1617.48 298.78,1618.85 299.37,1620.21 299.96,1621.58 300.55,1622.95 301.15,1624.32 301.74,1625.69 302.34,1627.05 302.95,1628.42 303.55,1629.79 304.16,1631.15 304.77,1632.52 305.39,1633.88 306.01,1635.25 306.63,1636.61 307.25,1637.97 307.88,1639.33 308.52,1640.69 309.16,1642.05 309.8,1643.4 310.45,1644.75 311.1,1646.11 311.76,1647.46 312.43,1648.8 313.1,1650.15 313.77,1651.49 314.45,1652.83 315.14,1654.17 315.83,1655.51 316.53,1656.84 317.24,1658.17 317.95,1659.49 318.67,1660.82 319.4,1662.14 320.13,1663.46 320.87,1664.77 321.62,1666.08 322.38,1667.38 323.14,1668.69 323.91,1669.99 324.69,1671.28 325.48,1672.57 326.27,1673.86 327.07,1675.14 327.88,1676.42 328.7,1677.7 329.52,1678.97 330.35,1680.23 331.19,1681.5 332.03,1682.75 332.88,1684.01 333.74,1685.26 334.61,1686.5 335.48,1687.74 336.36,1688.98 337.25,1690.21 338.14,1691.43 339.04,1692.65 339.95,1693.87 340.86,1695.08 341.79,1696.29 342.71,1697.49 343.65,1698.68 344.59,1699.87 345.54,1701.06 346.49,1702.24 347.45,1703.42 348.42,1704.59 349.4,1705.75 350.38,1706.91 351.36,1708.06 352.36,1709.21 353.36,1710.35 354.36,1711.49 355.38,1712.62 356.39,1713.74 357.42,1714.86 358.45,1715.97 359.49,1717.08 360.53,1718.18 361.58,1719.27 362.64,1720.36 363.7,1721.44 364.76,1722.52 365.84,1723.59 366.92,1724.65 368,1725.71 369.09,1726.76 370.19,1727.8 371.29,1728.84 372.4,1729.87 373.52,1730.89 374.64,1731.91 375.76,1732.92 376.89,1733.92 378.03,1734.91 379.17,1735.9 380.32,1736.88 381.47,1737.86 382.63,1738.82 383.79,1739.78 384.96,1740.73 386.14,1741.68 387.32,1742.61 388.5,1743.54 389.69,1744.47 390.89,1745.38 392.09,1746.29 393.3,1747.19 394.51,1748.08 395.72,1748.96 396.94,1749.83 398.17,1750.7 399.4,1751.56 400.64,1752.41 401.88,1753.25 403.12,1754.09 404.37,1754.91 405.63,1755.73 406.89,1756.54 408.15,1757.34 409.42,1758.14 410.69,1758.92 411.97,1759.69 413.26,1760.46 414.54,1761.22 415.84,1761.97 417.13,1762.71 418.43,1763.44 419.74,1764.16 421.05,1764.87 422.36,1765.58 423.68,1766.27 425,1766.96 426.33,1767.63 427.66,1768.3 428.99,1768.96 430.33,1769.61 431.68,1770.25 433.02,1770.88 434.37,1771.49 435.73,1772.1 437.09,1772.7 438.45,1773.3 439.82,1773.88 441.19,1774.45 442.56,1775.01 443.94,1775.56 445.32,1776.11 446.71,1776.64 448.1,1777.17 449.49,1777.68 450.88,1778.19 452.28,1778.69 453.69,1779.18 455.09,1779.66 456.5,1780.13 457.91,1780.6 459.33,1781.05 460.75,1781.5 462.17,1781.94 463.6,1782.37 465.02,1782.8 466.45,1783.21 467.89,1783.62 469.33,1784.02 470.77,1784.41 472.21,1784.8 473.65,1785.18 475.1,1785.55 476.55,1785.91 478.01,1786.26 479.46,1786.61 480.92,1786.95 482.38,1787.29 483.85,1787.62 485.31,1787.94 486.78,1788.25 488.25,1788.56 489.72,1788.86 491.2,1789.15 492.68,1789.44 494.15,1789.72 495.64,1789.99 497.12,1790.26 498.61,1790.53 500.09,1790.78 501.58,1791.03 503.07,1791.28 504.57,1791.52 506.06,1791.75 507.56,1791.98 509.06,1792.2 510.56,1792.42 512.06,1792.63 513.56,1792.84 515.07,1793.04 516.57,1793.24 518.08,1793.43 519.59,1793.61 521.1,1793.79 522.61,1793.97 524.12,1794.14 525.64,1794.31 527.15,1794.48 528.67,1794.63 530.19,1794.79 531.7,1794.94 533.22,1795.09 534.74,1795.23 536.27,1795.37 537.79,1795.5 539.31,1795.63 540.83,1795.76 542.36,1795.88 543.88,1796 545.41,1796.12 546.93,1796.23 548.46,1796.34 549.99,1796.45 551.52,1796.55 553.04,1796.65 554.57,1796.75 556.1,1796.84 557.63,1796.94 559.16,1797.03 560.69,1797.11 562.22,1797.2 563.75,1797.28 565.28,1797.36 566.8,1797.43 568.33,1797.51 569.86,1797.58 571.39,1797.65 572.92,1797.72 574.45,1797.79 575.98,1797.85 577.51,1797.92 579.03,1797.98 580.56,1798.04 582.09,1798.1 583.61,1798.15 585.14,1798.21 586.67,1798.27 588.19,1798.32 589.71,1798.37 591.24,1798.43 592.76,1798.48 594.28,1798.53 595.8,1798.58 597.32,1798.63 598.84,1798.68 600.36,1798.72 601.87,1798.77 603.39,1798.82 604.91,1798.87 606.42,1798.92 607.93,1798.96 609.44,1799.01 610.95,1799.06 612.46,1799.11 613.97,1799.16 615.47,1799.21 616.98,1799.26 618.48,1799.31 619.98,1799.36 621.48,1799.41 622.98,1799.46 624.47,1799.51 625.97,1799.57 627.46,1799.62 628.95,1799.68 630.44,1799.74 631.92,1799.8 633.41,1799.86 634.89,1799.92 636.37,1799.99 637.85,1800.05 639.33,1800.12 640.8,1800.19 642.27,1800.26 643.74,1800.33 645.21,1800.41 646.67,1800.49 648.13,1800.57 649.59,1800.65 651.05,1800.74 652.51,1800.82 653.96,1800.91 655.41,1801.01 656.85,1801.1 658.3,1801.2" fill="none" stroke="#00a651" stroke-width="5.3" stroke-linejoin="round" stroke-linecap="butt"/>
<polyline points="149.6,1808.8 219.2,1808.8 219.65,1807.43 220.09,1806.05 220.53,1804.65 220.96,1803.23 221.4,1801.8 221.83,1800.36 222.26,1798.91 222.69,1797.44 223.12,1795.97 223.56,1794.48 223.99,1792.99 224.43,1791.5 224.88,1789.99 225.33,1788.48 225.78,1786.97 226.24,1785.46 226.71,1783.94 227.18,1782.43 227.67,1780.91 228.16,1779.4 228.66,1777.89 229.17,1776.38 229.7,1774.88 230.24,1773.38 230.79,1771.89 231.35,1770.41 231.93,1768.93 232.52,1767.47 233.13,1766.02 233.76,1764.58 234.4,1763.15 235.06,1761.73 235.75,1760.34 236.45,1758.95 237.17,1757.59 237.91,1756.24 238.68,1754.91 239.47,1753.61 240.28,1752.32 241.11,1751.06 241.97,1749.81 242.86,1748.6 243.78,1747.41 244.72,1746.24 245.69,1745.11 246.68,1744 247.71,1742.92 248.77,1741.87 249.86,1740.86 250.98,1739.87 252.13,1738.92 253.32,1738.01 254.54,1737.13 255.8,1736.29 257.09,1735.48 258.42,1734.72 259.79,1733.99 261.19,1733.31 262.63,1732.66 264.11,1732.06 265.64,1731.51 267.2,1731 267.27,1729.38 267.35,1727.78 267.43,1726.19 267.51,1724.61 267.6,1723.05 267.68,1721.5 267.77,1719.97 267.87,1718.44 267.96,1716.92 268.06,1715.42 268.16,1713.92 268.26,1712.44 268.36,1710.96 268.46,1709.48 268.56,1708.02 268.67,1706.56 268.77,1705.11 268.88,1703.66 268.99,1702.22 269.09,1700.78 269.2,1699.34 269.31,1697.9 269.41,1696.47 269.52,1695.04 269.63,1693.61 269.73,1692.18 269.84,1690.75 269.94,1689.32 270.04,1687.88 270.15,1686.44 270.25,1685 270.34,1683.56 270.44,1682.11 270.53,1680.66 270.63,1679.2 270.72,1677.73 270.81,1676.26 270.89,1674.78 270.97,1673.29 271.05,1671.79 271.13,1670.28 271.2,1668.77 271.27,1667.24 271.34,1665.7 271.4,1664.15 271.46,1662.58 271.51,1661.01 271.56,1659.42 271.61,1657.81 271.66,1656.2 271.71,1654.58 271.76,1652.95 271.82,1651.32 271.89,1649.68 271.97,1648.05 272.07,1646.42 272.18,1644.79 272.31,1643.17 272.46,1641.56 272.63,1639.96 272.83,1638.37 273.05,1636.79 273.3,1635.23 273.59,1633.69 273.91,1632.18 274.27,1630.68 274.66,1629.21 275.1,1627.77 275.58,1626.36 276.11,1624.98 276.68,1623.63 277.31,1622.32 277.98,1621.04 278.72,1619.81 279.51,1618.61 280.36,1617.47 281.27,1616.36 282.24,1615.31 283.28,1614.31 284.38,1613.36 285.53,1612.5 286.72,1611.72 287.95,1611.05 289.19,1610.49 290.45,1610.06 291.72,1609.78 292.99,1609.65 294.24,1609.69 295.47,1609.91 296.68,1610.32 297.87,1610.88 299.03,1611.59 300.17,1612.44 301.29,1613.41 302.39,1614.49 303.46,1615.66 304.52,1616.91 305.56,1618.21 306.58,1619.57 307.57,1620.96 308.55,1622.37 309.51,1623.79 310.46,1625.19 311.39,1626.58 312.3,1627.95 313.19,1629.31 314.07,1630.65 314.94,1631.97 315.79,1633.29 316.63,1634.59 317.46,1635.87 318.27,1637.15 319.08,1638.42 319.87,1639.69 320.66,1640.94 321.44,1642.19 322.2,1643.43 322.97,1644.67 323.72,1645.91 324.47,1647.14 325.22,1648.38 325.96,1649.61 326.69,1650.84 327.43,1652.08 328.16,1653.32 328.89,1654.56 329.61,1655.81 330.34,1657.06 331.07,1658.32 331.8,1659.59 332.53,1660.86 333.27,1662.15 334,1663.44 334.74,1664.73 335.48,1666.03 336.22,1667.33 336.97,1668.64 337.72,1669.95 338.48,1671.26 339.24,1672.58 340,1673.89 340.77,1675.21 341.54,1676.52 342.32,1677.84 343.1,1679.15 343.89,1680.46 344.69,1681.77 345.5,1683.08 346.31,1684.38 347.12,1685.68 347.95,1686.97 348.78,1688.25 349.62,1689.53 350.47,1690.81 351.33,1692.07 352.2,1693.33 353.07,1694.58 353.96,1695.82 354.85,1697.06 355.74,1698.29 356.65,1699.52 357.57,1700.73 358.49,1701.94 359.42,1703.14 360.36,1704.34 361.3,1705.52 362.26,1706.7 363.22,1707.88 364.19,1709.04 365.16,1710.2 366.15,1711.35 367.14,1712.49 368.14,1713.63 369.14,1714.76 370.15,1715.88 371.17,1716.99 372.2,1718.1 373.24,1719.2 374.28,1720.29 375.33,1721.37 376.38,1722.45 377.44,1723.52 378.51,1724.58 379.59,1725.63 380.67,1726.68 381.76,1727.72 382.86,1728.75 383.96,1729.77 385.07,1730.79 386.18,1731.79 387.3,1732.79 388.43,1733.79 389.57,1734.77 390.71,1735.75 391.85,1736.72 393.01,1737.68 394.16,1738.63 395.33,1739.57 396.5,1740.51 397.68,1741.44 398.86,1742.36 400.05,1743.28 401.24,1744.18 402.44,1745.08 403.65,1745.97 404.86,1746.85 406.08,1747.72 407.3,1748.59 408.53,1749.44 409.76,1750.29 411,1751.13 412.24,1751.97 413.49,1752.79 414.74,1753.61 416,1754.41 417.27,1755.21 418.54,1756 419.81,1756.79 421.09,1757.56 422.38,1758.33 423.67,1759.09 424.96,1759.84 426.26,1760.58 427.56,1761.31 428.87,1762.03 430.18,1762.75 431.5,1763.46 432.82,1764.16 434.14,1764.85 435.47,1765.53 436.81,1766.2 438.15,1766.87 439.49,1767.52 440.84,1768.17 442.19,1768.81 443.54,1769.44 444.9,1770.06 446.26,1770.67 447.63,1771.27 449,1771.87 450.38,1772.46 451.75,1773.03 453.14,1773.6 454.52,1774.16 455.91,1774.71 457.3,1775.25 458.7,1775.79 460.1,1776.31 461.5,1776.83 462.91,1777.33 464.31,1777.83 465.73,1778.32 467.14,1778.8 468.56,1779.27 469.98,1779.73 471.41,1780.18 472.83,1780.62 474.26,1781.06 475.7,1781.48 477.13,1781.9 478.57,1782.31 480.01,1782.71 481.46,1783.1 482.9,1783.48 484.35,1783.86 485.8,1784.22 487.26,1784.58 488.71,1784.93 490.17,1785.28 491.63,1785.61 493.1,1785.94 494.56,1786.26 496.03,1786.57 497.5,1786.88 498.98,1787.18 500.45,1787.47 501.93,1787.76 503.41,1788.03 504.89,1788.31 506.37,1788.57 507.85,1788.83 509.34,1789.08 510.83,1789.33 512.32,1789.57 513.81,1789.8 515.3,1790.03 516.8,1790.25 518.29,1790.47 519.79,1790.68 521.29,1790.88 522.79,1791.08 524.29,1791.28 525.8,1791.46 527.3,1791.65 528.81,1791.83 530.32,1792 531.82,1792.17 533.33,1792.34 534.84,1792.5 536.36,1792.65 537.87,1792.8 539.38,1792.95 540.9,1793.09 542.41,1793.23 543.93,1793.37 545.45,1793.5 546.97,1793.62 548.48,1793.75 550,1793.87 551.52,1793.98 553.04,1794.1 554.56,1794.21 556.09,1794.31 557.61,1794.42 559.13,1794.52 560.65,1794.62 562.18,1794.71 563.7,1794.81 565.22,1794.9 566.75,1794.99 568.27,1795.07 569.79,1795.16 571.32,1795.24 572.84,1795.32 574.37,1795.4 575.89,1795.47 577.41,1795.55 578.94,1795.62 580.46,1795.69 581.98,1795.76 583.51,1795.83 585.03,1795.9 586.55,1795.97 588.07,1796.03 589.59,1796.1 591.11,1796.16 592.63,1796.23 594.15,1796.29 595.67,1796.36 597.19,1796.42 598.71,1796.48 600.23,1796.54 601.74,1796.61 603.26,1796.67 604.77,1796.74 606.28,1796.8 607.79,1796.86 609.31,1796.93 610.82,1796.99 612.32,1797.06 613.83,1797.13 615.34,1797.2 616.84,1797.27 618.35,1797.34 619.85,1797.41 621.35,1797.48 622.85,1797.56 624.35,1797.64 625.85,1797.71 627.34,1797.79 628.83,1797.88 630.33,1797.96 631.82,1798.05 633.3,1798.14 634.79,1798.23 636.28,1798.32 637.76,1798.42 639.24,1798.52 640.72,1798.62 642.2,1798.72 643.67,1798.83 645.14,1798.94 646.61,1799.06 648.08,1799.18 649.55,1799.3 651.01,1799.42 652.48,1799.55 653.94,1799.68 655.39,1799.82 656.85,1799.96 658.3,1800.1" fill="none" stroke="#d93028" stroke-width="5.3" stroke-linejoin="round" stroke-linecap="butt"/>
<rect x="477.5" y="1416.8" width="175.1" height="120.7" fill="#fff" stroke="#231f20" stroke-width="2.6"/>
<line x1="497.5" y1="1435.4" x2="529.6" y2="1435.4" stroke="#939598" stroke-width="5.2" stroke-linecap="butt"/>
<line x1="497.5" y1="1464.9" x2="529.6" y2="1464.9" stroke="#3953a4" stroke-width="5.2" stroke-linecap="butt"/>
<line x1="497.5" y1="1494.1" x2="529.6" y2="1494.1" stroke="#00a651" stroke-width="5.2" stroke-linecap="butt"/>
<line x1="497.5" y1="1524" x2="529.6" y2="1524" stroke="#ed1c24" stroke-width="5.2" stroke-linecap="butt"/>
<text transform="translate(539.91,1443.6) scale(0.9869,1)" font-family='"Liberation Sans", sans-serif' font-size="21.8" font-weight="normal" fill="#231f20">baseline</text>
<text transform="translate(540.47,1473.2) scale(0.9643,1)" font-family='"Liberation Sans", sans-serif' font-size="21.8" font-weight="normal" fill="#231f20">Δt = -10 ms</text>
<text transform="translate(539.07,1502.4) scale(0.9642,1)" font-family='"Liberation Sans", sans-serif' font-size="21.8" font-weight="normal" fill="#231f20">Δt = 0 ms</text>
<text transform="translate(540.47,1529.2) scale(0.9682,1)" font-family='"Liberation Sans", sans-serif' font-size="21.8" font-weight="normal" fill="#231f20">Δt = 30 ms</text>
<line x1="881" y1="1380" x2="881" y2="1812.6" stroke="#231f20" stroke-width="2.2" stroke-linecap="butt"/>
<line x1="880" y1="1811.4" x2="1422.2" y2="1811.4" stroke="#231f20" stroke-width="2.6" stroke-linecap="butt"/>
<line x1="881" y1="1441.6" x2="886.2" y2="1441.6" stroke="#231f20" stroke-width="2.3" stroke-linecap="butt"/>
<line x1="881" y1="1544.1" x2="886.2" y2="1544.1" stroke="#231f20" stroke-width="2.3" stroke-linecap="butt"/>
<line x1="881" y1="1646.6" x2="886.2" y2="1646.6" stroke="#231f20" stroke-width="2.3" stroke-linecap="butt"/>
<line x1="881" y1="1749.4" x2="886.2" y2="1749.4" stroke="#231f20" stroke-width="2.3" stroke-linecap="butt"/>
<line x1="971.1" y1="1811.4" x2="971.1" y2="1805.9" stroke="#231f20" stroke-width="2.3" stroke-linecap="butt"/>
<line x1="1061.3" y1="1811.4" x2="1061.3" y2="1805.9" stroke="#231f20" stroke-width="2.3" stroke-linecap="butt"/>
<line x1="1151.7" y1="1811.4" x2="1151.7" y2="1805.9" stroke="#231f20" stroke-width="2.3" stroke-linecap="butt"/>
<line x1="1241.7" y1="1811.4" x2="1241.7" y2="1805.9" stroke="#231f20" stroke-width="2.3" stroke-linecap="butt"/>
<line x1="1331.8" y1="1811.4" x2="1331.8" y2="1805.9" stroke="#231f20" stroke-width="2.3" stroke-linecap="butt"/>
<line x1="1421.9" y1="1811.4" x2="1421.9" y2="1805.9" stroke="#231f20" stroke-width="2.3" stroke-linecap="butt"/>
<text transform="translate(810.61,1442.3) scale(0.9471,1)" font-family='"Liberation Sans", sans-serif' font-size="37.5" font-weight="normal" fill="#231f20">2.0</text>
<text transform="translate(812.46,1551.6) scale(0.8889,1)" font-family='"Liberation Sans", sans-serif' font-size="37.5" font-weight="normal" fill="#231f20">1.5</text>
<text transform="translate(811.87,1660.7) scale(0.9224,1)" font-family='"Liberation Sans", sans-serif' font-size="37.5" font-weight="normal" fill="#231f20">1.0</text>
<text transform="translate(810.52,1770.6) scale(0.9391,1)" font-family='"Liberation Sans", sans-serif' font-size="37.5" font-weight="normal" fill="#231f20">0.5</text>
<text transform="translate(945.56,1848.9) scale(0.9832,1)" font-family='"Liberation Sans", sans-serif' font-size="37.5" font-weight="normal" fill="#231f20">-25</text>
<text transform="translate(1053.73,1848.9) scale(1.0041,1)" font-family='"Liberation Sans", sans-serif' font-size="37.5" font-weight="normal" fill="#231f20">0</text>
<text transform="translate(1133.84,1848.9) scale(0.9882,1)" font-family='"Liberation Sans", sans-serif' font-size="37.5" font-weight="normal" fill="#231f20">25</text>
<text transform="translate(1221.92,1848.9) scale(0.9833,1)" font-family='"Liberation Sans", sans-serif' font-size="37.5" font-weight="normal" fill="#231f20">50</text>
<text transform="translate(1309.67,1848.9) scale(0.9499,1)" font-family='"Liberation Sans", sans-serif' font-size="37.5" font-weight="normal" fill="#231f20">75</text>
<text transform="translate(1389.98,1848.9) scale(0.9872,1)" font-family='"Liberation Sans", sans-serif' font-size="37.5" font-weight="normal" fill="#231f20">100</text>
<text transform="translate(1084.3,1895.7) scale(0.9725,1)" font-family='"Liberation Sans", sans-serif' font-size="38" font-weight="normal" fill="#231f20">Δt (ms)</text>
<text transform="translate(776,1637.07) rotate(-90) scale(0.9177,1)" font-family='"Liberation Sans", sans-serif' font-size="39" font-weight="normal" fill="#231f20">ΔW</text>
<line x1="1061.3" y1="1380" x2="1061.3" y2="1811.4" stroke="#8f9194" stroke-width="2" stroke-linecap="butt"/>
<line x1="881" y1="1646.5" x2="1421.9" y2="1646.5" stroke="#8f9194" stroke-width="2" stroke-linecap="butt"/>
<polyline points="880.95,1647 989.16,1647.7 1007.19,1650.3 1025.23,1670.8 1043.26,1738.1 1061.3,1780.3 1079.34,1772 1097.37,1760.4 1115.4,1746.7 1133.44,1727.8 1151.47,1704.6 1169.51,1675.5 1187.55,1655.8 1205.58,1649.4 1223.62,1647.4 1241.65,1647.1 1422,1647.1" fill="none" stroke="#3953a4" stroke-width="5.2" stroke-linejoin="round" stroke-linecap="butt"/>
<text transform="translate(10.27,1965.75) scale(1.0727,1)" font-family='"Liberation Sans", sans-serif' font-size="38" font-weight="bold" fill="#231f20">D</text>
<rect x="152" y="2080.6" width="506" height="114.2" fill="url(#gv)"/>
<line x1="152" y1="2000" x2="152" y2="2400.4" stroke="#231f20" stroke-width="2.2" stroke-linecap="butt"/>
<line x1="151" y1="2399.4" x2="660.5" y2="2399.4" stroke="#231f20" stroke-width="2.6" stroke-linecap="butt"/>
<line x1="152" y1="2056.75" x2="157.2" y2="2056.75" stroke="#231f20" stroke-width="2.3" stroke-linecap="butt"/>
<line x1="152" y1="2113.75" x2="157.2" y2="2113.75" stroke="#231f20" stroke-width="2.3" stroke-linecap="butt"/>
<line x1="152" y1="2170.5" x2="157.2" y2="2170.5" stroke="#231f20" stroke-width="2.3" stroke-linecap="butt"/>
<line x1="152" y1="2227.4" x2="157.2" y2="2227.4" stroke="#231f20" stroke-width="2.3" stroke-linecap="butt"/>
<line x1="152" y1="2284.3" x2="157.2" y2="2284.3" stroke="#231f20" stroke-width="2.3" stroke-linecap="butt"/>
<line x1="152" y1="2341.2" x2="157.2" y2="2341.2" stroke="#231f20" stroke-width="2.3" stroke-linecap="butt"/>
<line x1="223.8" y1="2399.4" x2="223.8" y2="2393.9" stroke="#231f20" stroke-width="2.3" stroke-linecap="butt"/>
<line x1="369.9" y1="2399.4" x2="369.9" y2="2393.9" stroke="#231f20" stroke-width="2.3" stroke-linecap="butt"/>
<line x1="515.6" y1="2399.4" x2="515.6" y2="2393.9" stroke="#231f20" stroke-width="2.3" stroke-linecap="butt"/>
<line x1="660.2" y1="2399.4" x2="660.2" y2="2393.9" stroke="#231f20" stroke-width="2.3" stroke-linecap="butt"/>
<text transform="translate(87.33,2066.6) scale(0.9690,1)" font-family='"Liberation Sans", sans-serif' font-size="37.5" font-weight="normal" fill="#231f20">0.6</text>
<text transform="translate(87.37,2123.6) scale(0.9421,1)" font-family='"Liberation Sans", sans-serif' font-size="37.5" font-weight="normal" fill="#231f20">0.5</text>
<text transform="translate(87.34,2180.3) scale(0.9633,1)" font-family='"Liberation Sans", sans-serif' font-size="37.5" font-weight="normal" fill="#231f20">0.4</text>
<text transform="translate(87.37,2237.2) scale(0.9435,1)" font-family='"Liberation Sans", sans-serif' font-size="37.5" font-weight="normal" fill="#231f20">0.3</text>
<text transform="translate(87.34,2294.1) scale(0.9645,1)" font-family='"Liberation Sans", sans-serif' font-size="37.5" font-weight="normal" fill="#231f20">0.2</text>
<text transform="translate(87.43,2351) scale(0.8979,1)" font-family='"Liberation Sans", sans-serif' font-size="37.5" font-weight="normal" fill="#231f20">0.1</text>
<text transform="translate(105.96,2407.9) scale(1.0543,1)" font-family='"Liberation Sans", sans-serif' font-size="37.5" font-weight="normal" fill="#231f20">0</text>
<text transform="translate(216.9,2436.5) scale(1.0209,1)" font-family='"Liberation Sans", sans-serif' font-size="37.5" font-weight="normal" fill="#231f20">0</text>
<text transform="translate(332.46,2436.5) scale(0.9580,1)" font-family='"Liberation Sans", sans-serif' font-size="37.5" font-weight="normal" fill="#231f20">100</text>
<text transform="translate(475.6,2436.5) scale(1.0048,1)" font-family='"Liberation Sans", sans-serif' font-size="37.5" font-weight="normal" fill="#231f20">200</text>
<text transform="translate(307.79,2474) scale(0.9526,1)" font-family='"Liberation Sans", sans-serif' font-size="38" font-weight="normal" fill="#231f20">Time (ms)</text>
<text transform="translate(60.1,2310.5) rotate(-90) scale(0.8272,1)" font-family='"Liberation Sans", sans-serif' font-size="39" font-weight="normal" fill="#231f20">[Ca</text>
<text transform="translate(42.4,2257.6) rotate(-90) scale(1.0719,1)" font-family='"Liberation Sans", sans-serif' font-size="26" font-weight="normal" fill="#231f20">2+</text>
<text transform="translate(60.1,2225.67) rotate(-90) scale(0.8784,1)" font-family='"Liberation Sans", sans-serif' font-size="39" font-weight="normal" fill="#231f20">] (a.u.)</text>
<polyline points="152,2398.6 221.9,2398.6 222.27,2397.28 222.64,2395.94 222.99,2394.57 223.33,2393.2 223.66,2391.8 223.98,2390.39 224.3,2388.96 224.61,2387.52 224.91,2386.06 225.22,2384.6 225.52,2383.12 225.82,2381.63 226.12,2380.13 226.42,2378.63 226.72,2377.12 227.03,2375.6 227.34,2374.07 227.66,2372.55 227.98,2371.01 228.32,2369.48 228.66,2367.95 229.01,2366.41 229.37,2364.88 229.74,2363.34 230.13,2361.81 230.54,2360.29 230.95,2358.77 231.39,2357.25 231.84,2355.74 232.31,2354.24 232.81,2352.75 233.32,2351.27 233.86,2349.8 234.42,2348.33 235,2346.89 235.61,2345.45 236.25,2344.03 236.91,2342.63 237.61,2341.24 238.33,2339.87 239.09,2338.52 239.88,2337.19 240.7,2335.88 241.55,2334.6 242.44,2333.33 243.36,2332.09 244.31,2330.88 245.28,2329.7 246.29,2328.54 247.32,2327.42 248.37,2326.33 249.46,2325.27 250.56,2324.25 251.69,2323.27 252.84,2322.33 254.01,2321.43 255.2,2320.57 256.41,2319.75 257.64,2318.98 258.88,2318.26 260.14,2317.59 261.41,2316.96 262.7,2316.39 264,2315.87 265.31,2315.4 266.64,2315 267.97,2314.65 269.31,2314.35 270.66,2314.12 272.01,2313.95 273.37,2313.84 274.74,2313.79 276.12,2313.79 277.5,2313.84 278.88,2313.94 280.27,2314.09 281.67,2314.29 283.06,2314.53 284.47,2314.81 285.87,2315.13 287.29,2315.49 288.7,2315.88 290.12,2316.31 291.53,2316.77 292.95,2317.26 294.38,2317.77 295.8,2318.31 297.23,2318.87 298.65,2319.46 300.08,2320.06 301.51,2320.67 302.93,2321.3 304.36,2321.95 305.79,2322.6 307.21,2323.26 308.64,2323.93 310.06,2324.6 311.48,2325.27 312.89,2325.94 314.31,2326.61 315.72,2327.27 317.13,2327.94 318.54,2328.6 319.95,2329.25 321.35,2329.91 322.75,2330.56 324.15,2331.21 325.55,2331.86 326.95,2332.51 328.35,2333.15 329.74,2333.79 331.13,2334.42 332.52,2335.06 333.91,2335.69 335.3,2336.31 336.69,2336.94 338.08,2337.56 339.47,2338.18 340.85,2338.79 342.24,2339.4 343.62,2340.01 345.01,2340.61 346.39,2341.21 347.77,2341.81 349.16,2342.4 350.54,2342.99 351.93,2343.58 353.31,2344.16 354.7,2344.74 356.08,2345.31 357.47,2345.88 358.85,2346.45 360.24,2347.01 361.62,2347.57 363.01,2348.13 364.4,2348.68 365.79,2349.22 367.18,2349.76 368.58,2350.3 369.97,2350.84 371.37,2351.36 372.76,2351.89 374.16,2352.41 375.56,2352.92 376.96,2353.43 378.37,2353.94 379.77,2354.44 381.18,2354.94 382.59,2355.43 384,2355.92 385.41,2356.4 386.82,2356.88 388.24,2357.35 389.66,2357.82 391.07,2358.29 392.49,2358.75 393.92,2359.21 395.34,2359.66 396.76,2360.11 398.19,2360.55 399.62,2360.99 401.05,2361.43 402.48,2361.86 403.91,2362.29 405.35,2362.71 406.78,2363.13 408.22,2363.55 409.66,2363.96 411.09,2364.36 412.54,2364.77 413.98,2365.17 415.42,2365.56 416.87,2365.95 418.31,2366.34 419.76,2366.72 421.21,2367.1 422.66,2367.47 424.11,2367.85 425.57,2368.21 427.02,2368.58 428.47,2368.94 429.93,2369.29 431.39,2369.64 432.85,2369.99 434.31,2370.34 435.77,2370.68 437.23,2371.01 438.7,2371.35 440.16,2371.68 441.63,2372 443.09,2372.33 444.56,2372.65 446.03,2372.96 447.5,2373.27 448.97,2373.58 450.45,2373.89 451.92,2374.19 453.4,2374.49 454.87,2374.78 456.35,2375.07 457.82,2375.36 459.3,2375.65 460.78,2375.93 462.26,2376.2 463.74,2376.48 465.23,2376.75 466.71,2377.02 468.19,2377.28 469.68,2377.54 471.16,2377.8 472.65,2378.06 474.14,2378.31 475.63,2378.56 477.12,2378.8 478.61,2379.05 480.1,2379.29 481.59,2379.52 483.08,2379.76 484.57,2379.99 486.07,2380.22 487.56,2380.44 489.05,2380.66 490.55,2380.88 492.05,2381.1 493.54,2381.31 495.04,2381.52 496.54,2381.73 498.04,2381.93 499.54,2382.13 501.04,2382.33 502.54,2382.53 504.04,2382.72 505.54,2382.91 507.04,2383.1 508.54,2383.29 510.05,2383.47 511.55,2383.65 513.05,2383.83 514.56,2384 516.06,2384.17 517.57,2384.34 519.07,2384.51 520.58,2384.68 522.09,2384.84 523.59,2385 525.1,2385.16 526.61,2385.31 528.12,2385.46 529.62,2385.61 531.13,2385.76 532.64,2385.91 534.15,2386.05 535.66,2386.19 537.17,2386.33 538.68,2386.47 540.19,2386.6 541.7,2386.74 543.21,2386.87 544.72,2386.99 546.23,2387.12 547.74,2387.24 549.25,2387.37 550.76,2387.49 552.28,2387.6 553.79,2387.72 555.3,2387.83 556.81,2387.94 558.32,2388.05 559.83,2388.16 561.35,2388.27 562.86,2388.37 564.37,2388.47 565.88,2388.57 567.39,2388.67 568.9,2388.77 570.42,2388.86 571.93,2388.96 573.44,2389.05 574.95,2389.14 576.46,2389.23 577.97,2389.31 579.48,2389.4 580.99,2389.48 582.51,2389.56 584.02,2389.64 585.53,2389.72 587.04,2389.79 588.55,2389.87 590.06,2389.94 591.57,2390.02 593.07,2390.09 594.58,2390.16 596.09,2390.22 597.6,2390.29 599.11,2390.35 600.62,2390.42 602.12,2390.48 603.63,2390.54 605.14,2390.6 606.64,2390.66 608.15,2390.72 609.65,2390.77 611.16,2390.83 612.66,2390.88 614.17,2390.93 615.67,2390.99 617.18,2391.04 618.68,2391.08 620.18,2391.13 621.68,2391.18 623.18,2391.23 624.68,2391.27 626.18,2391.31 627.68,2391.36 629.18,2391.4 630.68,2391.44 632.18,2391.48 633.68,2391.52 635.17,2391.56 636.67,2391.6 638.16,2391.63 639.66,2391.67 641.15,2391.7 642.64,2391.74 644.14,2391.77 645.63,2391.8 647.12,2391.84 648.61,2391.87 650.1,2391.9 651.59,2391.93 653.07,2391.96 654.56,2391.99 656.05,2392.02 657.53,2392.05 659.02,2392.07 660.5,2392.1" fill="none" stroke="#939598" stroke-width="5.3" stroke-linejoin="round" stroke-linecap="butt"/>
<polyline points="152,2398.6 221.9,2398.6 221.92,2397.11 221.94,2395.62 221.96,2394.13 221.98,2392.64 222,2391.15 222.03,2389.66 222.06,2388.16 222.09,2386.67 222.12,2385.18 222.15,2383.68 222.18,2382.19 222.22,2380.69 222.25,2379.19 222.29,2377.7 222.33,2376.2 222.37,2374.7 222.41,2373.2 222.46,2371.7 222.5,2370.21 222.55,2368.71 222.59,2367.2 222.64,2365.7 222.69,2364.2 222.74,2362.7 222.8,2361.2 222.85,2359.7 222.9,2358.19 222.96,2356.69 223.02,2355.19 223.07,2353.68 223.13,2352.18 223.19,2350.67 223.25,2349.17 223.32,2347.66 223.38,2346.15 223.44,2344.65 223.51,2343.14 223.57,2341.64 223.64,2340.13 223.71,2338.62 223.78,2337.11 223.85,2335.61 223.92,2334.1 223.99,2332.59 224.06,2331.08 224.13,2329.57 224.21,2328.06 224.28,2326.55 224.36,2325.05 224.43,2323.54 224.51,2322.03 224.59,2320.52 224.67,2319.01 224.74,2317.5 224.82,2315.99 224.9,2314.48 224.98,2312.97 225.06,2311.46 225.15,2309.95 225.23,2308.44 225.31,2306.93 225.39,2305.42 225.48,2303.91 225.56,2302.4 225.64,2300.89 225.73,2299.38 225.81,2297.87 225.9,2296.36 225.98,2294.85 226.07,2293.34 226.16,2291.83 226.24,2290.32 226.33,2288.81 226.42,2287.3 226.5,2285.79 226.59,2284.28 226.68,2282.77 226.76,2281.27 226.85,2279.76 226.94,2278.25 227.03,2276.74 227.12,2275.23 227.2,2273.73 227.29,2272.22 227.38,2270.71 227.47,2269.2 227.56,2267.7 227.64,2266.19 227.73,2264.69 227.82,2263.18 227.91,2261.68 227.99,2260.17 228.08,2258.67 228.17,2257.16 228.26,2255.66 228.34,2254.16 228.43,2252.65 228.51,2251.15 228.6,2249.65 228.69,2248.15 228.77,2246.64 228.86,2245.14 228.94,2243.64 229.03,2242.14 229.11,2240.64 229.19,2239.14 229.28,2237.65 229.36,2236.15 229.44,2234.65 229.52,2233.15 229.6,2231.66 229.68,2230.16 229.76,2228.67 229.84,2227.17 229.92,2225.68 230,2224.19 230.08,2222.69 230.15,2221.2 230.23,2219.71 230.31,2218.22 230.38,2216.73 230.46,2215.24 230.53,2213.75 230.6,2212.26 230.67,2210.78 230.74,2209.29 230.81,2207.8 230.88,2206.32 230.95,2204.83 231.02,2203.35 231.09,2201.87 231.15,2200.39 231.22,2198.9 231.29,2197.42 231.36,2195.94 231.43,2194.46 231.51,2192.98 231.59,2191.5 231.67,2190.01 231.76,2188.53 231.85,2187.04 231.95,2185.56 232.06,2184.07 232.17,2182.58 232.29,2181.09 232.42,2179.6 232.56,2178.11 232.71,2176.61 232.87,2175.11 233.04,2173.61 233.22,2172.11 233.42,2170.61 233.63,2169.1 233.85,2167.59 234.08,2166.07 234.33,2164.55 234.59,2163.03 234.87,2161.51 235.17,2159.98 235.48,2158.44 235.81,2156.91 236.16,2155.37 236.53,2153.82 236.91,2152.27 237.32,2150.71 237.75,2149.15 238.2,2147.59 238.67,2146.02 239.16,2144.44 239.68,2142.86 240.22,2141.29 240.79,2139.74 241.39,2138.21 242.02,2136.72 242.69,2135.28 243.38,2133.89 244.12,2132.56 244.89,2131.3 245.71,2130.13 246.56,2129.04 247.46,2128.06 248.41,2127.18 249.4,2126.43 250.44,2125.8 251.54,2125.3 252.68,2124.95 253.85,2124.74 255.04,2124.67 256.24,2124.73 257.43,2124.93 258.61,2125.27 259.75,2125.75 260.86,2126.35 261.93,2127.08 262.97,2127.91 263.98,2128.85 264.96,2129.88 265.92,2130.99 266.85,2132.18 267.76,2133.43 268.65,2134.74 269.52,2136.09 270.38,2137.48 271.22,2138.9 272.05,2140.33 272.86,2141.77 273.67,2143.21 274.47,2144.64 275.26,2146.07 276.05,2147.49 276.82,2148.91 277.59,2150.32 278.36,2151.72 279.11,2153.12 279.86,2154.51 280.61,2155.9 281.34,2157.28 282.07,2158.66 282.8,2160.03 283.52,2161.4 284.23,2162.76 284.94,2164.12 285.64,2165.48 286.34,2166.83 287.03,2168.19 287.71,2169.53 288.39,2170.88 289.07,2172.22 289.74,2173.56 290.41,2174.89 291.07,2176.23 291.73,2177.56 292.38,2178.89 293.03,2180.22 293.68,2181.55 294.32,2182.88 294.96,2184.2 295.6,2185.53 296.23,2186.85 296.86,2188.18 297.49,2189.5 298.12,2190.83 298.74,2192.16 299.36,2193.48 299.98,2194.81 300.59,2196.14 301.2,2197.46 301.82,2198.79 302.42,2200.13 303.03,2201.46 303.64,2202.8 304.24,2204.13 304.85,2205.47 305.45,2206.82 306.05,2208.16 306.66,2209.51 307.26,2210.86 307.86,2212.22 308.46,2213.58 309.06,2214.94 309.66,2216.3 310.26,2217.67 310.86,2219.04 311.46,2220.42 312.06,2221.79 312.67,2223.17 313.27,2224.56 313.88,2225.94 314.48,2227.32 315.09,2228.71 315.7,2230.1 316.31,2231.49 316.93,2232.88 317.54,2234.27 318.16,2235.66 318.78,2237.06 319.4,2238.45 320.03,2239.84 320.65,2241.23 321.28,2242.63 321.92,2244.02 322.56,2245.41 323.2,2246.8 323.84,2248.19 324.49,2249.58 325.14,2250.96 325.8,2252.35 326.46,2253.73 327.12,2255.11 327.79,2256.49 328.47,2257.87 329.15,2259.24 329.83,2260.61 330.52,2261.98 331.22,2263.34 331.92,2264.7 332.62,2266.06 333.33,2267.42 334.05,2268.77 334.77,2270.11 335.5,2271.45 336.24,2272.79 336.98,2274.12 337.73,2275.45 338.49,2276.77 339.25,2278.09 340.02,2279.4 340.8,2280.7 341.59,2282 342.38,2283.3 343.18,2284.59 343.99,2285.87 344.81,2287.14 345.63,2288.41 346.47,2289.67 347.31,2290.92 348.16,2292.17 349.02,2293.41 349.89,2294.64 350.77,2295.86 351.66,2297.07 352.56,2298.28 353.46,2299.47 354.38,2300.66 355.31,2301.84 356.24,2303.01 357.19,2304.17 358.15,2305.33 359.12,2306.47 360.09,2307.6 361.08,2308.73 362.07,2309.84 363.08,2310.95 364.1,2312.04 365.12,2313.13 366.15,2314.21 367.19,2315.28 368.25,2316.34 369.31,2317.39 370.38,2318.44 371.45,2319.47 372.54,2320.5 373.63,2321.51 374.74,2322.52 375.85,2323.52 376.97,2324.51 378.09,2325.49 379.23,2326.46 380.37,2327.42 381.52,2328.37 382.68,2329.32 383.84,2330.25 385.01,2331.18 386.19,2332.1 387.38,2333.01 388.57,2333.91 389.78,2334.8 390.98,2335.69 392.2,2336.56 393.42,2337.43 394.65,2338.28 395.88,2339.13 397.12,2339.97 398.36,2340.8 399.62,2341.62 400.87,2342.44 402.14,2343.24 403.41,2344.04 404.68,2344.83 405.96,2345.61 407.25,2346.38 408.54,2347.14 409.84,2347.9 411.14,2348.64 412.44,2349.38 413.76,2350.11 415.07,2350.83 416.39,2351.54 417.72,2352.24 419.05,2352.94 420.38,2353.62 421.72,2354.3 423.06,2354.97 424.41,2355.63 425.76,2356.28 427.11,2356.93 428.47,2357.56 429.83,2358.19 431.2,2358.81 432.56,2359.42 433.94,2360.03 435.31,2360.62 436.69,2361.21 438.07,2361.79 439.45,2362.36 440.84,2362.92 442.23,2363.47 443.62,2364.02 445.01,2364.56 446.41,2365.09 447.81,2365.61 449.22,2366.13 450.62,2366.63 452.03,2367.14 453.44,2367.63 454.85,2368.11 456.27,2368.59 457.69,2369.06 459.11,2369.52 460.53,2369.98 461.96,2370.43 463.39,2370.87 464.82,2371.31 466.25,2371.73 467.69,2372.16 469.13,2372.57 470.57,2372.98 472.01,2373.38 473.45,2373.77 474.9,2374.16 476.35,2374.54 477.8,2374.92 479.25,2375.29 480.71,2375.65 482.17,2376 483.62,2376.35 485.09,2376.7 486.55,2377.04 488.01,2377.37 489.48,2377.69 490.95,2378.01 492.42,2378.33 493.89,2378.64 495.36,2378.94 496.84,2379.24 498.31,2379.53 499.79,2379.81 501.27,2380.09 502.75,2380.37 504.24,2380.64 505.72,2380.9 507.21,2381.16 508.69,2381.42 510.18,2381.67 511.67,2381.91 513.16,2382.15 514.66,2382.39 516.15,2382.62 517.64,2382.84 519.14,2383.06 520.64,2383.28 522.14,2383.49 523.64,2383.7 525.14,2383.9 526.64,2384.1 528.14,2384.29 529.64,2384.48 531.15,2384.67 532.65,2384.85 534.16,2385.03 535.67,2385.2 537.17,2385.37 538.68,2385.54 540.19,2385.7 541.7,2385.86 543.21,2386.01 544.73,2386.16 546.24,2386.31 547.75,2386.46 549.26,2386.6 550.78,2386.73 552.29,2386.87 553.81,2387 555.32,2387.13 556.84,2387.25 558.35,2387.37 559.87,2387.49 561.38,2387.61 562.9,2387.72 564.42,2387.83 565.93,2387.94 567.45,2388.04 568.97,2388.15 570.49,2388.25 572,2388.34 573.52,2388.44 575.04,2388.53 576.56,2388.62 578.07,2388.71 579.59,2388.79 581.11,2388.88 582.63,2388.96 584.14,2389.04 585.66,2389.12 587.18,2389.19 588.69,2389.27 590.21,2389.34 591.72,2389.41 593.24,2389.48 594.75,2389.55 596.27,2389.62 597.78,2389.68 599.29,2389.75 600.81,2389.81 602.32,2389.87 603.83,2389.93 605.34,2389.99 606.85,2390.05 608.36,2390.1 609.87,2390.16 611.38,2390.22 612.88,2390.27 614.39,2390.33 615.9,2390.38 617.4,2390.43 618.9,2390.48 620.41,2390.54 621.91,2390.59 623.41,2390.64 624.91,2390.69 626.41,2390.74 627.9,2390.79 629.4,2390.84 630.9,2390.89 632.39,2390.94 633.88,2390.99 635.37,2391.04 636.86,2391.1 638.35,2391.15 639.84,2391.2 641.33,2391.25 642.81,2391.3 644.29,2391.36 645.77,2391.41 647.25,2391.47 648.73,2391.52 650.21,2391.58 651.68,2391.64 653.16,2391.69 654.63,2391.75 656.1,2391.81 657.57,2391.87 659.03,2391.94 660.5,2392" fill="none" stroke="#3953a4" stroke-width="5.3" stroke-linejoin="round" stroke-linecap="butt"/>
<polyline points="152,2398.6 221.9,2398.6 222.06,2397.13 222.21,2395.66 222.36,2394.19 222.51,2392.72 222.66,2391.25 222.8,2389.77 222.94,2388.29 223.08,2386.82 223.22,2385.34 223.36,2383.86 223.49,2382.38 223.63,2380.9 223.76,2379.42 223.89,2377.93 224.02,2376.45 224.14,2374.96 224.27,2373.47 224.39,2371.99 224.51,2370.5 224.63,2369.01 224.75,2367.52 224.86,2366.02 224.98,2364.53 225.09,2363.04 225.2,2361.54 225.31,2360.05 225.42,2358.55 225.53,2357.05 225.64,2355.56 225.74,2354.06 225.85,2352.56 225.95,2351.06 226.05,2349.56 226.15,2348.06 226.25,2346.55 226.35,2345.05 226.44,2343.55 226.54,2342.04 226.63,2340.54 226.72,2339.03 226.82,2337.53 226.91,2336.02 227,2334.51 227.09,2333 227.18,2331.5 227.26,2329.99 227.35,2328.48 227.44,2326.97 227.52,2325.46 227.61,2323.95 227.69,2322.44 227.77,2320.93 227.86,2319.41 227.94,2317.9 228.02,2316.39 228.1,2314.88 228.18,2313.36 228.26,2311.85 228.34,2310.34 228.42,2308.82 228.5,2307.31 228.58,2305.8 228.65,2304.28 228.73,2302.77 228.81,2301.25 228.89,2299.74 228.96,2298.22 229.04,2296.71 229.12,2295.19 229.19,2293.68 229.27,2292.16 229.34,2290.65 229.42,2289.13 229.49,2287.62 229.57,2286.1 229.65,2284.59 229.72,2283.07 229.8,2281.56 229.87,2280.04 229.95,2278.53 230.03,2277.01 230.1,2275.5 230.18,2273.99 230.26,2272.47 230.33,2270.96 230.41,2269.45 230.49,2267.93 230.57,2266.42 230.65,2264.91 230.73,2263.4 230.81,2261.88 230.89,2260.37 230.97,2258.86 231.05,2257.35 231.13,2255.84 231.21,2254.33 231.3,2252.82 231.38,2251.31 231.46,2249.8 231.55,2248.3 231.63,2246.79 231.72,2245.28 231.81,2243.77 231.9,2242.27 231.99,2240.76 232.08,2239.26 232.17,2237.76 232.26,2236.25 232.35,2234.75 232.45,2233.25 232.54,2231.75 232.64,2230.25 232.74,2228.75 232.83,2227.25 232.93,2225.75 233.03,2224.25 233.14,2222.76 233.24,2221.26 233.34,2219.77 233.45,2218.27 233.56,2216.78 233.67,2215.29 233.78,2213.8 233.89,2212.31 234,2210.82 234.11,2209.33 234.23,2207.84 234.35,2206.35 234.47,2204.87 234.59,2203.38 234.71,2201.9 234.83,2200.42 234.96,2198.94 235.09,2197.46 235.21,2195.98 235.34,2194.5 235.48,2193.03 235.61,2191.55 235.75,2190.08 235.88,2188.6 236.02,2187.13 236.16,2185.66 236.3,2184.18 236.44,2182.71 236.58,2181.24 236.73,2179.77 236.87,2178.3 237.02,2176.83 237.16,2175.36 237.31,2173.89 237.46,2172.42 237.6,2170.94 237.75,2169.47 237.9,2168 238.05,2166.53 238.2,2165.05 238.34,2163.58 238.49,2162.11 238.64,2160.63 238.79,2159.15 238.94,2157.68 239.08,2156.2 239.23,2154.72 239.38,2153.24 239.52,2151.76 239.67,2150.27 239.81,2148.79 239.96,2147.3 240.1,2145.81 240.24,2144.32 240.38,2142.83 240.52,2141.34 240.66,2139.84 240.8,2138.34 240.93,2136.84 241.07,2135.34 241.2,2133.84 241.33,2132.33 241.46,2130.82 241.59,2129.31 241.71,2127.8 241.84,2126.28 241.96,2124.76 242.08,2123.23 242.2,2121.71 242.31,2120.18 242.43,2118.65 242.54,2117.11 242.65,2115.57 242.75,2114.03 242.86,2112.48 242.96,2110.93 243.06,2109.38 243.15,2107.82 243.24,2106.26 243.33,2104.7 243.42,2103.13 243.5,2101.56 243.58,2099.98 243.66,2098.4 243.73,2096.81 243.8,2095.22 243.86,2093.63 243.93,2092.03 243.99,2090.43 244.04,2088.82 244.09,2087.21 244.14,2085.59 244.19,2083.97 244.25,2082.36 244.31,2080.75 244.38,2079.15 244.47,2077.57 244.58,2076 244.71,2074.45 244.86,2072.92 245.04,2071.41 245.26,2069.93 245.5,2068.48 245.79,2067.07 246.11,2065.69 246.48,2064.35 246.9,2063.05 247.37,2061.8 247.89,2060.6 248.47,2059.44 249.12,2058.35 249.82,2057.31 250.59,2056.33 251.44,2055.42 252.34,2054.61 253.28,2053.94 254.24,2053.47 255.21,2053.23 256.18,2053.24 257.13,2053.48 258.08,2053.93 259.02,2054.57 259.95,2055.39 260.87,2056.37 261.77,2057.48 262.66,2058.7 263.54,2060.02 264.39,2061.42 265.23,2062.87 266.04,2064.36 266.83,2065.87 267.6,2067.38 268.35,2068.88 269.07,2070.37 269.78,2071.86 270.46,2073.33 271.12,2074.8 271.76,2076.25 272.39,2077.71 272.99,2079.15 273.58,2080.59 274.16,2082.02 274.72,2083.45 275.27,2084.87 275.81,2086.29 276.33,2087.71 276.84,2089.12 277.35,2090.52 277.84,2091.93 278.33,2093.33 278.81,2094.73 279.28,2096.13 279.75,2097.53 280.21,2098.93 280.67,2100.32 281.13,2101.72 281.59,2103.12 282.04,2104.52 282.5,2105.92 282.96,2107.32 283.41,2108.73 283.88,2110.13 284.34,2111.54 284.81,2112.96 285.28,2114.37 285.75,2115.79 286.23,2117.2 286.7,2118.62 287.18,2120.04 287.67,2121.46 288.15,2122.89 288.64,2124.31 289.13,2125.74 289.63,2127.16 290.12,2128.59 290.62,2130.01 291.12,2131.44 291.63,2132.87 292.14,2134.29 292.65,2135.72 293.16,2137.15 293.68,2138.57 294.2,2140 294.72,2141.42 295.25,2142.84 295.77,2144.26 296.31,2145.68 296.84,2147.1 297.38,2148.52 297.92,2149.93 298.46,2151.35 299.01,2152.76 299.56,2154.16 300.11,2155.57 300.67,2156.97 301.22,2158.38 301.78,2159.78 302.35,2161.17 302.91,2162.57 303.48,2163.96 304.05,2165.35 304.62,2166.75 305.2,2168.13 305.77,2169.52 306.35,2170.91 306.92,2172.29 307.5,2173.68 308.08,2175.06 308.66,2176.44 309.25,2177.83 309.83,2179.21 310.41,2180.59 310.99,2181.97 311.57,2183.35 312.16,2184.73 312.74,2186.11 313.32,2187.49 313.9,2188.86 314.48,2190.24 315.06,2191.62 315.64,2193 316.22,2194.39 316.8,2195.77 317.37,2197.15 317.95,2198.53 318.52,2199.92 319.09,2201.3 319.66,2202.69 320.22,2204.08 320.79,2205.46 321.35,2206.85 321.91,2208.25 322.46,2209.64 323.02,2211.04 323.57,2212.43 324.11,2213.83 324.66,2215.23 325.2,2216.64 325.73,2218.04 326.27,2219.45 326.79,2220.86 327.32,2222.27 327.84,2223.69 328.36,2225.11 328.87,2226.53 329.38,2227.95 329.89,2229.37 330.4,2230.79 330.91,2232.22 331.42,2233.65 331.92,2235.07 332.43,2236.5 332.94,2237.93 333.45,2239.35 333.96,2240.78 334.47,2242.2 334.98,2243.63 335.5,2245.05 336.02,2246.47 336.55,2247.89 337.08,2249.31 337.61,2250.73 338.15,2252.14 338.69,2253.55 339.24,2254.96 339.8,2256.36 340.37,2257.76 340.94,2259.16 341.52,2260.55 342.1,2261.94 342.7,2263.33 343.3,2264.71 343.92,2266.08 344.54,2267.45 345.18,2268.82 345.83,2270.18 346.48,2271.53 347.15,2272.88 347.84,2274.22 348.53,2275.55 349.24,2276.88 349.96,2278.2 350.69,2279.52 351.43,2280.82 352.19,2282.13 352.96,2283.42 353.74,2284.71 354.53,2285.99 355.34,2287.26 356.15,2288.52 356.98,2289.78 357.82,2291.03 358.67,2292.28 359.53,2293.51 360.4,2294.74 361.28,2295.97 362.18,2297.18 363.08,2298.39 364,2299.59 364.92,2300.78 365.86,2301.96 366.8,2303.14 367.76,2304.31 368.72,2305.47 369.7,2306.62 370.68,2307.77 371.68,2308.91 372.68,2310.04 373.69,2311.16 374.71,2312.27 375.75,2313.38 376.79,2314.47 377.84,2315.56 378.89,2316.64 379.96,2317.72 381.03,2318.78 382.12,2319.84 383.21,2320.88 384.31,2321.92 385.41,2322.95 386.53,2323.97 387.65,2324.99 388.78,2325.99 389.92,2326.99 391.07,2327.97 392.22,2328.95 393.38,2329.92 394.55,2330.88 395.72,2331.83 396.9,2332.78 398.09,2333.71 399.28,2334.63 400.48,2335.55 401.69,2336.45 402.9,2337.35 404.12,2338.24 405.34,2339.11 406.57,2339.98 407.81,2340.84 409.05,2341.69 410.3,2342.53 411.55,2343.36 412.81,2344.18 414.07,2344.99 415.34,2345.79 416.61,2346.59 417.88,2347.37 419.17,2348.14 420.45,2348.9 421.74,2349.65 423.04,2350.39 424.34,2351.13 425.64,2351.85 426.95,2352.56 428.26,2353.27 429.58,2353.96 430.9,2354.65 432.22,2355.32 433.55,2355.99 434.89,2356.65 436.22,2357.3 437.56,2357.94 438.91,2358.57 440.26,2359.19 441.61,2359.8 442.97,2360.41 444.33,2361 445.69,2361.59 447.06,2362.17 448.43,2362.74 449.8,2363.3 451.18,2363.85 452.57,2364.4 453.95,2364.94 455.34,2365.47 456.73,2365.99 458.13,2366.5 459.53,2367 460.93,2367.5 462.33,2367.99 463.74,2368.47 465.15,2368.95 466.57,2369.42 467.98,2369.88 469.4,2370.33 470.83,2370.77 472.25,2371.21 473.68,2371.64 475.11,2372.06 476.55,2372.48 477.99,2372.89 479.43,2373.29 480.87,2373.69 482.31,2374.07 483.76,2374.46 485.21,2374.83 486.67,2375.2 488.12,2375.56 489.58,2375.92 491.04,2376.27 492.5,2376.61 493.96,2376.95 495.43,2377.28 496.9,2377.6 498.37,2377.92 499.84,2378.23 501.32,2378.54 502.8,2378.84 504.28,2379.14 505.76,2379.43 507.24,2379.71 508.72,2379.99 510.21,2380.26 511.7,2380.53 513.19,2380.79 514.68,2381.05 516.17,2381.3 517.67,2381.55 519.16,2381.79 520.66,2382.03 522.16,2382.26 523.66,2382.48 525.16,2382.71 526.67,2382.92 528.17,2383.14 529.68,2383.35 531.18,2383.55 532.69,2383.75 534.2,2383.94 535.71,2384.13 537.22,2384.32 538.73,2384.5 540.25,2384.68 541.76,2384.85 543.28,2385.03 544.79,2385.19 546.31,2385.35 547.82,2385.51 549.34,2385.67 550.86,2385.82 552.38,2385.97 553.9,2386.11 555.42,2386.25 556.94,2386.39 558.46,2386.52 559.98,2386.66 561.5,2386.78 563.02,2386.91 564.55,2387.03 566.07,2387.15 567.59,2387.27 569.11,2387.38 570.64,2387.49 572.16,2387.6 573.68,2387.71 575.2,2387.81 576.73,2387.91 578.25,2388.01 579.77,2388.1 581.29,2388.2 582.81,2388.29 584.34,2388.38 585.86,2388.47 587.38,2388.55 588.9,2388.64 590.42,2388.72 591.94,2388.8 593.45,2388.88 594.97,2388.95 596.49,2389.03 598.01,2389.1 599.52,2389.18 601.04,2389.25 602.55,2389.32 604.06,2389.39 605.58,2389.45 607.09,2389.52 608.6,2389.59 610.11,2389.65 611.62,2389.72 613.12,2389.78 614.63,2389.84 616.13,2389.9 617.64,2389.96 619.14,2390.02 620.64,2390.08 622.14,2390.14 623.64,2390.2 625.13,2390.26 626.63,2390.32 628.12,2390.38 629.61,2390.44 631.1,2390.5 632.59,2390.56 634.08,2390.62 635.57,2390.68 637.05,2390.74 638.53,2390.8 640.01,2390.86 641.49,2390.92 642.96,2390.98 644.44,2391.05 645.91,2391.11 647.38,2391.17 648.84,2391.24 650.31,2391.31 651.77,2391.37 653.23,2391.44 654.69,2391.51 656.15,2391.58 657.6,2391.65 659.05,2391.73 660.5,2391.8" fill="none" stroke="#00a651" stroke-width="5.3" stroke-linejoin="round" stroke-linecap="butt"/>
<polyline points="152,2398.6 221.9,2398.6 222.37,2397.24 222.82,2395.86 223.28,2394.46 223.73,2393.06 224.18,2391.65 224.63,2390.22 225.07,2388.79 225.52,2387.34 225.96,2385.89 226.41,2384.44 226.85,2382.97 227.3,2381.5 227.76,2380.03 228.21,2378.56 228.68,2377.08 229.14,2375.6 229.62,2374.12 230.1,2372.64 230.58,2371.16 231.08,2369.68 231.58,2368.21 232.1,2366.74 232.62,2365.27 233.16,2363.81 233.71,2362.35 234.27,2360.9 234.84,2359.46 235.43,2358.03 236.04,2356.61 236.66,2355.2 237.29,2353.8 237.95,2352.41 238.62,2351.03 239.31,2349.67 240.02,2348.33 240.75,2347 241.5,2345.68 242.27,2344.38 243.06,2343.11 243.88,2341.85 244.72,2340.61 245.59,2339.39 246.48,2338.19 247.4,2337.02 248.34,2335.86 249.31,2334.74 250.31,2333.63 251.34,2332.56 252.4,2331.51 253.49,2330.49 254.61,2329.49 255.76,2328.53 256.94,2327.6 258.16,2326.69 259.42,2325.82 260.7,2324.99 262.03,2324.18 263.38,2323.41 264.78,2322.68 266.22,2321.98 267.69,2321.32 269.2,2320.7 269.36,2319.21 269.52,2317.73 269.66,2316.23 269.8,2314.74 269.93,2313.24 270.05,2311.74 270.17,2310.23 270.28,2308.72 270.38,2307.21 270.48,2305.7 270.57,2304.19 270.66,2302.67 270.74,2301.15 270.82,2299.63 270.89,2298.1 270.96,2296.58 271.03,2295.05 271.09,2293.52 271.15,2291.99 271.21,2290.46 271.27,2288.92 271.32,2287.39 271.38,2285.86 271.43,2284.32 271.48,2282.78 271.53,2281.24 271.59,2279.71 271.64,2278.17 271.69,2276.63 271.75,2275.09 271.8,2273.55 271.86,2272.01 271.92,2270.48 271.99,2268.94 272.05,2267.4 272.12,2265.86 272.2,2264.33 272.28,2262.79 272.36,2261.26 272.44,2259.73 272.54,2258.19 272.63,2256.66 272.74,2255.14 272.85,2253.61 272.96,2252.08 273.08,2250.56 273.21,2249.04 273.35,2247.52 273.5,2246 273.65,2244.48 273.81,2242.97 273.99,2241.46 274.17,2239.96 274.36,2238.45 274.57,2236.95 274.79,2235.46 275.02,2233.96 275.26,2232.48 275.52,2230.99 275.8,2229.51 276.09,2228.04 276.4,2226.57 276.72,2225.1 277.06,2223.64 277.42,2222.19 277.8,2220.74 278.2,2219.3 278.62,2217.86 279.06,2216.44 279.53,2215.01 280.01,2213.6 280.52,2212.19 281.05,2210.79 281.61,2209.39 282.19,2208.01 282.8,2206.63 283.44,2205.26 284.1,2203.9 284.33,2202.03 284.52,2200.24 284.67,2198.53 284.78,2196.88 284.86,2195.3 284.91,2193.78 284.94,2192.31 284.95,2190.88 284.93,2189.49 284.91,2188.13 284.87,2186.8 284.83,2185.49 284.78,2184.2 284.73,2182.91 284.69,2181.62 284.65,2180.33 284.62,2179.02 284.61,2177.7 284.62,2176.36 284.65,2174.99 284.7,2173.58 284.78,2172.13 284.9,2170.63 285.05,2169.08 285.23,2167.47 285.47,2165.79 285.75,2164.04 286.08,2162.21 286.46,2160.34 286.91,2158.46 287.43,2156.58 288.02,2154.75 288.68,2152.99 289.43,2151.33 290.26,2149.82 291.15,2148.52 292.07,2147.5 293.01,2146.81 293.95,2146.5 294.89,2146.52 295.83,2146.85 296.76,2147.42 297.69,2148.2 298.62,2149.15 299.53,2150.22 300.44,2151.37 301.34,2152.56 302.22,2153.75 303.09,2154.96 303.95,2156.17 304.8,2157.39 305.65,2158.61 306.47,2159.84 307.29,2161.08 308.1,2162.33 308.9,2163.58 309.69,2164.84 310.47,2166.1 311.25,2167.38 312.01,2168.65 312.76,2169.94 313.51,2171.22 314.25,2172.52 314.98,2173.82 315.7,2175.12 316.41,2176.43 317.12,2177.75 317.82,2179.07 318.51,2180.39 319.2,2181.72 319.88,2183.05 320.55,2184.39 321.22,2185.73 321.88,2187.08 322.54,2188.43 323.19,2189.78 323.83,2191.14 324.47,2192.5 325.11,2193.86 325.74,2195.23 326.37,2196.6 326.99,2197.97 327.61,2199.34 328.23,2200.72 328.84,2202.1 329.45,2203.48 330.06,2204.87 330.67,2206.25 331.27,2207.64 331.87,2209.03 332.47,2210.42 333.06,2211.82 333.66,2213.21 334.25,2214.6 334.84,2216 335.44,2217.4 336.03,2218.8 336.62,2220.19 337.21,2221.59 337.8,2222.99 338.39,2224.39 338.98,2225.79 339.57,2227.19 340.17,2228.59 340.76,2229.99 341.36,2231.39 341.95,2232.78 342.55,2234.18 343.15,2235.57 343.76,2236.97 344.36,2238.36 344.97,2239.75 345.58,2241.14 346.2,2242.53 346.81,2243.92 347.44,2245.3 348.06,2246.68 348.69,2248.06 349.32,2249.44 349.96,2250.82 350.61,2252.19 351.25,2253.56 351.91,2254.93 352.57,2256.29 353.23,2257.65 353.9,2259.01 354.58,2260.36 355.26,2261.71 355.95,2263.06 356.64,2264.4 357.35,2265.74 358.06,2267.07 358.77,2268.4 359.5,2269.73 360.23,2271.05 360.97,2272.36 361.72,2273.67 362.48,2274.98 363.25,2276.28 364.02,2277.57 364.8,2278.86 365.6,2280.14 366.4,2281.42 367.21,2282.7 368.02,2283.96 368.85,2285.22 369.69,2286.48 370.53,2287.73 371.38,2288.97 372.24,2290.21 373.11,2291.44 373.99,2292.67 374.87,2293.88 375.77,2295.1 376.67,2296.3 377.58,2297.5 378.5,2298.69 379.43,2299.88 380.36,2301.06 381.3,2302.23 382.26,2303.39 383.22,2304.55 384.18,2305.7 385.16,2306.84 386.14,2307.98 387.13,2309.1 388.13,2310.23 389.14,2311.34 390.16,2312.44 391.18,2313.54 392.21,2314.63 393.25,2315.71 394.3,2316.79 395.35,2317.85 396.42,2318.91 397.49,2319.96 398.56,2321 399.65,2322.03 400.74,2323.05 401.85,2324.07 402.95,2325.07 404.07,2326.07 405.19,2327.06 406.33,2328.04 407.47,2329.01 408.61,2329.97 409.77,2330.92 410.93,2331.87 412.1,2332.8 413.27,2333.73 414.46,2334.64 415.65,2335.55 416.85,2336.44 418.05,2337.33 419.26,2338.2 420.48,2339.07 421.71,2339.93 422.95,2340.77 424.19,2341.61 425.44,2342.43 426.69,2343.25 427.96,2344.05 429.23,2344.85 430.5,2345.63 431.79,2346.4 433.08,2347.16 434.38,2347.92 435.68,2348.66 436.99,2349.39 438.31,2350.1 439.64,2350.81 440.97,2351.51 442.31,2352.2 443.65,2352.87 445,2353.54 446.36,2354.19 447.72,2354.84 449.08,2355.48 450.46,2356.1 451.83,2356.72 453.22,2357.33 454.6,2357.92 455.99,2358.51 457.39,2359.09 458.79,2359.66 460.2,2360.22 461.61,2360.78 463.02,2361.32 464.44,2361.86 465.86,2362.38 467.28,2362.9 468.71,2363.41 470.14,2363.92 471.57,2364.41 473.01,2364.9 474.45,2365.38 475.89,2365.85 477.33,2366.31 478.78,2366.77 480.23,2367.22 481.68,2367.66 483.13,2368.1 484.58,2368.53 486.04,2368.95 487.5,2369.37 488.95,2369.78 490.41,2370.18 491.87,2370.58 493.33,2370.97 494.79,2371.35 496.26,2371.73 497.72,2372.1 499.18,2372.47 500.65,2372.83 502.11,2373.19 503.58,2373.54 505.05,2373.88 506.52,2374.22 507.98,2374.55 509.45,2374.88 510.92,2375.2 512.4,2375.51 513.87,2375.82 515.34,2376.13 516.81,2376.43 518.29,2376.72 519.76,2377.01 521.24,2377.3 522.72,2377.58 524.19,2377.85 525.67,2378.12 527.15,2378.39 528.63,2378.65 530.11,2378.9 531.59,2379.15 533.07,2379.4 534.56,2379.64 536.04,2379.88 537.52,2380.11 539.01,2380.34 540.49,2380.56 541.98,2380.78 543.46,2381 544.95,2381.21 546.44,2381.42 547.92,2381.62 549.41,2381.82 550.9,2382.02 552.39,2382.21 553.88,2382.4 555.37,2382.58 556.86,2382.76 558.35,2382.94 559.84,2383.11 561.34,2383.28 562.83,2383.45 564.32,2383.61 565.82,2383.77 567.31,2383.93 568.81,2384.08 570.3,2384.23 571.8,2384.38 573.29,2384.52 574.79,2384.66 576.29,2384.8 577.78,2384.94 579.28,2385.07 580.78,2385.2 582.28,2385.33 583.78,2385.45 585.28,2385.57 586.78,2385.69 588.28,2385.81 589.78,2385.92 591.28,2386.04 592.78,2386.15 594.28,2386.25 595.78,2386.36 597.28,2386.46 598.79,2386.56 600.29,2386.66 601.79,2386.76 603.29,2386.86 604.8,2386.95 606.3,2387.04 607.8,2387.14 609.31,2387.22 610.81,2387.31 612.31,2387.4 613.82,2387.48 615.32,2387.57 616.83,2387.65 618.33,2387.73 619.84,2387.81 621.34,2387.88 622.85,2387.96 624.35,2388.04 625.86,2388.11 627.37,2388.19 628.87,2388.26 630.38,2388.33 631.88,2388.4 633.39,2388.47 634.9,2388.55 636.4,2388.61 637.91,2388.68 639.41,2388.75 640.92,2388.82 642.43,2388.89 643.93,2388.96 645.44,2389.02 646.95,2389.09 648.45,2389.16 649.96,2389.23 651.46,2389.29 652.97,2389.36 654.48,2389.43 655.98,2389.5 657.49,2389.56 658.99,2389.63 660.5,2389.7" fill="none" stroke="#ed1c24" stroke-width="5.3" stroke-linejoin="round" stroke-linecap="butt"/>
<rect x="480.4" y="2006.4" width="174.7" height="120.4" fill="#fff" stroke="#231f20" stroke-width="2.6"/>
<line x1="497.5" y1="2021" x2="529.6" y2="2021" stroke="#939598" stroke-width="5.2" stroke-linecap="butt"/>
<line x1="497.5" y1="2050.9" x2="529.6" y2="2050.9" stroke="#3953a4" stroke-width="5.2" stroke-linecap="butt"/>
<line x1="497.5" y1="2080.1" x2="529.6" y2="2080.1" stroke="#00a651" stroke-width="5.2" stroke-linecap="butt"/>
<line x1="497.5" y1="2108.6" x2="529.6" y2="2108.6" stroke="#ed1c24" stroke-width="5.2" stroke-linecap="butt"/>
<text transform="translate(540.11,2029.2) scale(0.9869,1)" font-family='"Liberation Sans", sans-serif' font-size="21.8" font-weight="normal" fill="#231f20">baseline</text>
<text transform="translate(540.67,2058.8) scale(0.9643,1)" font-family='"Liberation Sans", sans-serif' font-size="21.8" font-weight="normal" fill="#231f20">Δt = -10 ms</text>
<text transform="translate(539.27,2088) scale(0.9642,1)" font-family='"Liberation Sans", sans-serif' font-size="21.8" font-weight="normal" fill="#231f20">Δt = 0 ms</text>
<text transform="translate(540.67,2114.8) scale(0.9682,1)" font-family='"Liberation Sans", sans-serif' font-size="21.8" font-weight="normal" fill="#231f20">Δt = 30 ms</text>
<line x1="872.2" y1="1957.5" x2="872.2" y2="2403.1" stroke="#231f20" stroke-width="2.2" stroke-linecap="butt"/>
<line x1="871.2" y1="2401.9" x2="1439.2" y2="2401.9" stroke="#231f20" stroke-width="2.6" stroke-linecap="butt"/>
<line x1="872.2" y1="2020.4" x2="877.4" y2="2020.4" stroke="#231f20" stroke-width="2.3" stroke-linecap="butt"/>
<line x1="872.2" y1="2126.7" x2="877.4" y2="2126.7" stroke="#231f20" stroke-width="2.3" stroke-linecap="butt"/>
<line x1="872.2" y1="2233" x2="877.4" y2="2233" stroke="#231f20" stroke-width="2.3" stroke-linecap="butt"/>
<line x1="872.2" y1="2338.6" x2="877.4" y2="2338.6" stroke="#231f20" stroke-width="2.3" stroke-linecap="butt"/>
<line x1="966.4" y1="2401.9" x2="966.4" y2="2396.4" stroke="#231f20" stroke-width="2.3" stroke-linecap="butt"/>
<line x1="1060.8" y1="2401.9" x2="1060.8" y2="2396.4" stroke="#231f20" stroke-width="2.3" stroke-linecap="butt"/>
<line x1="1155.3" y1="2401.9" x2="1155.3" y2="2396.4" stroke="#231f20" stroke-width="2.3" stroke-linecap="butt"/>
<line x1="1250.2" y1="2401.9" x2="1250.2" y2="2396.4" stroke="#231f20" stroke-width="2.3" stroke-linecap="butt"/>
<line x1="1344.7" y1="2401.9" x2="1344.7" y2="2396.4" stroke="#231f20" stroke-width="2.3" stroke-linecap="butt"/>
<line x1="1438.9" y1="2401.9" x2="1438.9" y2="2396.4" stroke="#231f20" stroke-width="2.3" stroke-linecap="butt"/>
<text transform="translate(810.09,2024.3) scale(0.9574,1)" font-family='"Liberation Sans", sans-serif' font-size="37.5" font-weight="normal" fill="#231f20">2.0</text>
<text transform="translate(811.9,2134.2) scale(0.9120,1)" font-family='"Liberation Sans", sans-serif' font-size="37.5" font-weight="normal" fill="#231f20">1.5</text>
<text transform="translate(811.87,2243.8) scale(0.9224,1)" font-family='"Liberation Sans", sans-serif' font-size="37.5" font-weight="normal" fill="#231f20">1.0</text>
<text transform="translate(810.52,2352.6) scale(0.9391,1)" font-family='"Liberation Sans", sans-serif' font-size="37.5" font-weight="normal" fill="#231f20">0.5</text>
<text transform="translate(945.56,2440.9) scale(0.9832,1)" font-family='"Liberation Sans", sans-serif' font-size="37.5" font-weight="normal" fill="#231f20">-25</text>
<text transform="translate(1054.05,2440.9) scale(0.9930,1)" font-family='"Liberation Sans", sans-serif' font-size="37.5" font-weight="normal" fill="#231f20">0</text>
<text transform="translate(1133.9,2440.9) scale(0.9568,1)" font-family='"Liberation Sans", sans-serif' font-size="37.5" font-weight="normal" fill="#231f20">25</text>
<text transform="translate(1221.92,2440.9) scale(0.9833,1)" font-family='"Liberation Sans", sans-serif' font-size="37.5" font-weight="normal" fill="#231f20">50</text>
<text transform="translate(1310.2,2440.9) scale(0.9342,1)" font-family='"Liberation Sans", sans-serif' font-size="37.5" font-weight="normal" fill="#231f20">75</text>
<text transform="translate(1387.92,2440.9) scale(1.0095,1)" font-family='"Liberation Sans", sans-serif' font-size="37.5" font-weight="normal" fill="#231f20">100</text>
<text transform="translate(1082.91,2488.3) scale(0.9666,1)" font-family='"Liberation Sans", sans-serif' font-size="38" font-weight="normal" fill="#231f20">Δt (ms)</text>
<text transform="translate(772.6,2219.68) rotate(-90) scale(0.9307,1)" font-family='"Liberation Sans", sans-serif' font-size="39" font-weight="normal" fill="#231f20">ΔW</text>
<polyline points="871.9,2232.6 947.5,2232.9 966.4,2235.9 985.3,2253.4 1023.1,2375.9 1042,2334.8 1060.9,2092 1079.8,2173.8 1098.7,2289.7 1117.6,2359.6 1136.5,2364.6 1155.4,2353.6 1174.3,2338.8 1193.2,2320.9 1212.1,2301.6 1231,2277.8 1249.9,2252.5 1268.8,2238.6 1287.7,2234.7 1306.6,2233.2 1438.9,2232.6" fill="none" stroke="#3953a4" stroke-width="5.2" stroke-linejoin="round" stroke-linecap="butt"/>
<line x1="1061" y1="1965.7" x2="1061" y2="2401.9" stroke="#8f9194" stroke-width="2" stroke-linecap="butt"/>
<line x1="872.2" y1="2232.6" x2="1441.9" y2="2232.6" stroke="#8f9194" stroke-width="2" stroke-linecap="butt"/>
<line x1="1098.6" y1="1965" x2="1098.6" y2="2401.9" stroke="#8f9194" stroke-width="2" stroke-linecap="butt" stroke-dasharray="4.5,4.5"/>
</svg></body></html>
